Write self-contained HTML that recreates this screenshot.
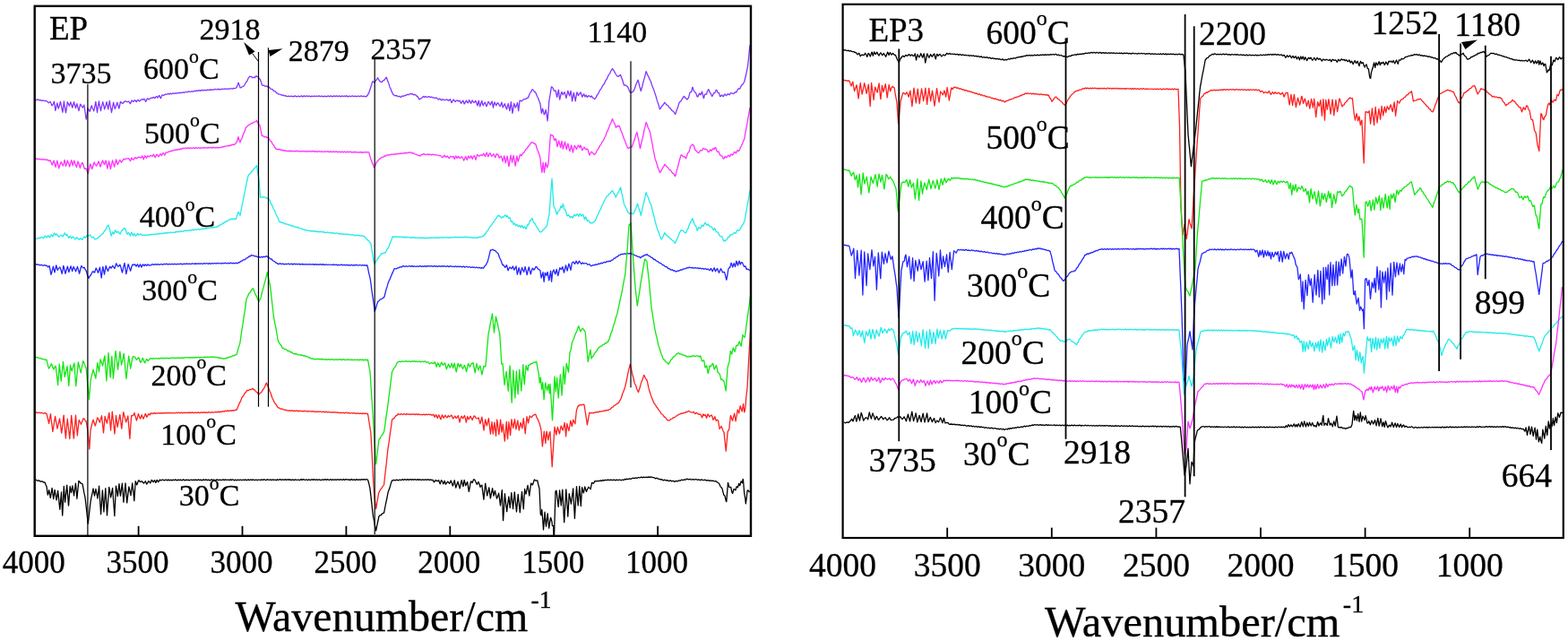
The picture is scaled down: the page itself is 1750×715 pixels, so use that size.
<!DOCTYPE html><html><head><meta charset="utf-8"><style>html,body{margin:0;padding:0;background:#fff;overflow:hidden;width:1750px;height:715px}svg{display:block}text{font-family:"Liberation Serif",serif;fill:#000;stroke:#000;stroke-width:0.3px}</style></head><body>
<svg width="1750" height="715" viewBox="0 0 1750 715">
<defs><clipPath id="cl"><rect x="39" y="7" width="799" height="590"/></clipPath><clipPath id="cr"><rect x="941" y="5" width="803" height="594"/></clipPath></defs>
<path d="M39.0,110.6 40.6,111.7 42.4,110.9 44.0,111.9 45.3,111.6 46.8,112.5 47.9,111.8 49.6,112.7 50.0,112.7 51.2,112.3 52.0,112.6 52.9,113.7 54.4,114.7 54.8,114.2 56.1,113.4 56.4,114.3 58.1,118.0 58.3,117.4 59.5,115.8 60.0,114.3 60.4,113.2 61.3,118.9 61.8,123.4 62.9,119.0 63.8,114.9 64.8,119.2 65.2,121.0 66.2,118.2 67.4,113.5 67.7,114.4 69.0,121.1 70.0,125.3 70.9,117.1 71.4,113.0 72.0,117.4 73.4,125.7 73.5,125.8 74.8,117.5 75.3,113.7 76.5,116.1 77.2,118.1 77.7,117.2 78.8,114.1 78.9,113.9 80.4,119.0 80.9,120.2 81.6,117.0 82.6,113.7 83.1,116.0 84.5,120.5 84.7,119.6 85.9,115.7 86.4,117.8 88.0,123.7 88.2,122.8 89.6,116.2 89.7,116.4 90.0,116.6 91.5,118.8 92.1,120.1 93.1,118.8 93.9,117.1 94.0,117.9 94.4,120.5 96.1,133.0 96.2,132.8 97.0,128.7 97.9,121.7 98.0,120.8 99.8,123.7 100.0,123.9 100.2,124.3 101.7,119.3 102.3,117.8 103.2,120.5 104.6,123.3 104.7,123.9 105.9,118.6 106.8,113.5 107.0,114.4 108.4,124.9 108.5,125.5 109.9,116.2 110.0,115.3 110.4,112.8 111.5,119.0 112.5,123.7 113.1,120.4 114.4,115.2 114.7,113.6 115.7,117.4 116.6,121.9 117.5,119.3 119.0,113.6 119.0,113.8 120.5,120.7 120.8,121.9 121.9,114.5 122.3,112.5 123.9,122.2 124.5,125.5 125.1,122.2 126.6,114.3 126.6,114.1 127.6,118.4 128.2,121.4 129.1,119.5 130.8,114.2 130.9,114.4 132.6,120.4 132.9,121.0 134.3,114.0 134.5,113.3 136.1,115.1 137.1,115.3 137.7,114.3 139.0,113.4 139.1,113.4 140.0,112.9 140.7,112.8 141.2,113.4 142.5,113.7 143.3,112.9 144.2,113.7 145.3,115.7 145.8,115.0 147.1,111.9 147.1,111.9 148.8,113.4 148.9,113.4 150.1,111.8 150.9,111.7 151.6,113.1 152.3,113.7 152.7,112.8 154.1,111.3 154.4,111.9 155.7,113.0 155.8,112.7 156.9,112.0 157.5,110.8 158.8,110.8 159.2,111.3 160.2,110.9 160.7,110.1 161.8,111.5 162.5,113.3 163.0,112.9 164.3,110.1 164.6,109.7 166.1,110.9 166.7,110.9 167.5,109.8 168.0,109.5 168.8,109.1 169.2,109.4 170.1,109.4 170.8,108.6 171.4,108.3 172.6,109.5 172.8,109.5 174.2,107.8 174.7,107.5 175.8,108.8 176.0,109.0 177.5,106.6 177.8,106.5 178.9,109.1 179.3,109.8 180.8,106.3 181.0,105.9 182.6,106.5 182.7,106.5 184.4,105.1 184.5,105.0 185.8,105.5 186.6,105.0 187.5,104.4 188.8,105.2 190.0,104.1 191.4,105.0 193.1,103.9 194.4,104.5 195.6,103.8 197.3,104.1 199.0,103.4 200.7,103.9 202.0,103.1 203.4,103.5 204.6,102.8 205.7,103.3 207.5,102.5 208.6,103.0 210.4,101.9 212.0,102.5 213.8,101.8 215.4,102.1 216.9,101.3 218.2,101.8 219.5,100.9 221.0,101.6 222.2,100.7 223.6,101.4 225.4,100.2 226.0,100.7 226.5,101.1 228.3,100.3 229.7,100.9 231.6,100.1 233.5,100.7 234.6,99.7 235.7,100.4 237.4,99.9 238.7,100.2 240.2,99.4 242.1,100.0 243.2,99.2 244.3,99.9 245.4,99.4 246.5,99.9 248.2,99.0 250.0,99.7 251.4,98.8 253.4,99.5 254.6,98.9 256.5,99.3 257.9,98.5 259.4,99.2 260.5,98.4 261.0,98.6 262.0,98.7 263.8,97.7 264.0,97.8 265.5,94.1 266.0,92.2 267.2,95.1 268.0,97.9 268.9,97.8 270.8,96.4 272.0,96.2 272.7,95.3 274.5,91.7 275.7,90.5 277.1,87.3 278.7,85.1 279.1,85.3 280.6,85.5 281.8,86.7 283.0,86.7 283.4,86.2 284.5,86.5 285.6,85.0 286.5,85.0 286.8,85.4 288.2,86.0 289.5,87.8 290.0,88.0 291.3,91.1 292.4,94.8 293.1,95.3 294.5,95.2 296.0,96.3 296.1,96.3 297.4,95.9 299.3,97.2 299.4,97.1 300.5,97.1 301.9,99.1 303.6,99.3 304.0,99.7 305.3,101.4 307.2,101.9 308.5,103.7 309.9,104.1 310.0,104.3 311.0,105.2 312.6,105.2 314.4,106.3 315.7,105.9 317.1,106.9 318.8,106.7 319.8,107.4 320.3,107.6 322.2,107.1 323.5,107.6 325.4,107.1 327.3,107.9 329.2,106.9 331.1,107.9 332.9,107.2 334.4,107.8 336.4,106.9 338.0,107.9 339.4,106.9 341.0,107.7 342.5,106.9 344.0,107.6 345.2,107.0 346.8,107.9 348.0,107.1 349.7,107.6 350.8,107.0 352.1,107.6 353.4,107.0 354.9,107.6 356.1,106.9 357.7,107.6 359.5,107.2 360.9,107.9 362.6,107.1 364.4,107.8 366.3,106.9 367.7,107.8 369.2,106.9 371.0,107.8 372.8,106.9 374.1,107.6 375.8,106.9 377.3,107.8 378.7,106.9 380.5,107.8 381.6,106.9 383.0,107.6 384.4,107.0 385.4,107.6 386.7,106.9 388.5,107.9 390.0,107.0 391.5,107.8 393.1,106.9 395.0,107.7 396.6,107.1 397.9,107.8 399.5,107.0 401.4,107.6 403.1,106.9 404.8,107.8 406.1,107.1 408.0,107.9 409.7,106.9 409.8,106.9 411.6,103.8 413.0,99.7 413.0,99.7 414.7,94.5 415.7,90.8 416.5,90.9 417.8,92.3 418.0,92.2 419.0,90.4 420.4,88.8 421.6,86.7 421.6,86.7 423.4,90.1 424.7,91.1 425.0,91.6 426.0,91.7 427.7,89.8 428.0,89.7 429.2,89.2 430.7,86.6 431.4,86.2 432.1,88.8 433.8,92.9 435.0,96.9 436.3,99.7 436.3,99.8 437.5,102.9 439.2,105.8 439.4,105.7 441.1,107.0 442.3,106.4 444.2,107.7 445.8,107.4 446.8,108.2 447.7,108.3 448.8,107.0 450.2,107.4 451.4,106.4 452.7,106.6 454.5,105.3 456.2,105.7 457.3,104.6 458.5,104.7 459.0,105.0 460.5,104.6 461.7,105.9 462.8,105.4 464.0,106.0 464.7,106.9 466.2,107.9 468.0,110.8 468.6,111.0 469.3,109.8 471.2,109.0 472.0,107.8 472.4,107.5 473.8,108.4 474.8,107.5 476.5,108.5 478.4,107.7 479.9,108.3 480.0,108.3 481.7,108.1 482.2,108.5 482.9,109.0 483.6,108.8 484.6,108.8 485.7,109.7 485.8,109.7 486.9,109.0 487.3,109.1 488.9,110.9 489.3,111.0 490.9,110.0 490.9,110.0 492.3,111.6 492.7,111.8 493.0,111.6 494.0,110.9 494.9,111.0 495.2,111.3 496.7,111.7 496.7,111.7 498.3,111.2 498.6,110.9 500.1,111.8 500.4,112.3 501.6,111.6 502.3,110.6 503.0,111.9 503.9,114.6 504.6,113.8 506.0,111.0 506.5,111.3 508.0,113.4 508.1,113.5 509.1,112.3 510.0,112.0 510.3,111.9 510.4,111.9 511.9,112.9 512.0,113.0 513.2,112.2 513.5,113.1 514.5,115.3 514.8,114.8 516.3,113.0 516.7,112.1 517.7,114.6 518.1,116.0 518.8,115.1 520.0,112.7 520.4,112.0 520.4,112.0 521.7,114.4 522.2,114.9 523.6,111.7 523.7,111.5 525.2,114.7 525.7,115.3 526.3,113.5 527.1,111.9 527.4,112.6 529.0,114.6 529.2,114.3 530.3,113.2 530.8,112.3 532.0,115.2 532.9,118.0 533.3,116.3 534.2,112.1 534.4,113.0 535.6,118.3 535.7,118.8 537.5,113.1 537.8,112.4 538.7,116.4 539.2,117.8 540.0,115.8 541.3,114.1 541.4,114.3 542.7,118.1 542.9,118.8 544.4,115.2 544.9,113.3 545.0,113.4 546.0,114.4 547.1,117.0 547.4,116.7 549.0,113.2 549.1,113.0 550.5,120.0 550.5,119.9 551.9,114.1 552.0,114.0 553.6,117.5 553.8,117.7 554.7,115.6 555.4,114.6 555.9,115.1 556.0,115.1 557.0,117.0 557.3,117.2 558.2,118.6 558.6,117.8 560.0,114.1 560.1,114.7 561.2,119.8 561.5,119.4 562.9,116.4 563.4,115.8 564.5,119.5 565.5,121.9 566.3,118.8 567.3,115.5 567.9,118.8 568.9,123.6 569.3,121.2 570.4,113.6 570.4,114.0 571.6,123.5 571.9,126.4 572.9,121.1 573.7,115.4 574.7,117.7 575.4,120.1 576.5,117.4 577.5,114.5 578.3,120.6 578.7,123.6 579.8,114.5 580.0,112.2 581.4,112.3 582.2,112.9 583.0,111.9 583.0,111.9 584.6,110.7 586.5,110.7 588.2,109.3 589.0,109.4 589.7,108.4 591.2,104.5 592.8,102.2 593.8,99.8 594.7,100.2 596.3,102.1 597.6,102.9 597.7,103.1 599.4,107.2 600.5,109.3 601.7,112.5 601.8,112.7 603.0,115.8 603.0,116.1 604.0,123.8 604.4,126.3 605.0,124.2 605.6,121.1 606.6,124.6 607.3,127.9 608.0,126.8 608.4,125.5 609.2,122.3 610.2,128.3 611.1,134.8 611.7,128.0 612.0,124.9 612.5,116.6 612.9,112.4 613.3,110.0 614.8,100.8 615.4,96.8 616.7,97.5 617.0,98.0 618.0,100.6 618.3,101.1 618.9,101.6 620.0,101.0 620.1,101.0 621.5,107.6 621.7,108.4 622.8,102.5 623.4,100.1 624.2,107.8 624.7,111.1 625.9,105.8 626.9,102.5 627.0,102.6 628.3,105.7 628.8,104.5 630.0,102.8 630.1,102.6 630.4,104.1 631.8,108.9 631.9,109.5 633.7,101.8 633.8,101.3 635.6,106.9 635.6,107.1 637.1,101.3 637.4,103.5 638.6,112.9 639.1,110.2 640.3,103.4 640.4,104.0 642.1,111.9 642.2,112.8 643.5,105.1 643.9,102.8 645.0,105.1 645.0,105.2 645.4,106.5 646.7,104.9 647.6,103.2 648.0,102.9 648.2,103.3 649.7,108.0 649.8,108.1 651.6,104.8 651.6,104.7 652.9,107.9 652.9,107.8 654.0,106.2 654.2,106.1 655.0,107.8 655.2,108.2 655.5,108.4 656.9,106.8 657.4,106.7 658.2,107.7 659.4,108.2 660.0,106.9 660.1,106.9 662.0,109.5 663.4,110.3 663.6,110.6 665.1,108.9 666.7,105.5 667.7,104.5 669.7,100.3 671.3,98.3 672.6,95.5 674.5,93.3 674.5,93.2 675.7,90.2 677.2,88.2 678.9,84.2 680.6,82.1 682.3,78.3 683.6,76.5 683.9,77.1 685.6,79.6 687.2,82.8 688.8,84.7 689.0,85.2 690.3,85.4 691.5,84.0 692.7,83.7 693.4,86.1 694.7,89.3 696.3,94.8 696.4,95.0 698.0,94.9 699.5,96.1 700.0,96.1 701.1,97.9 702.3,101.1 703.6,103.4 703.7,103.3 705.4,103.0 706.6,101.8 707.0,101.8 708.4,98.8 710.0,93.7 711.4,90.9 712.0,89.1 712.7,91.4 714.0,97.0 715.2,101.0 715.3,101.6 716.4,97.8 718.2,90.5 719.4,86.6 721.1,79.7 721.3,80.0 722.8,83.9 724.0,85.7 725.2,88.9 725.5,89.3 726.3,90.7 727.7,95.3 729.2,98.9 730.8,103.5 730.9,103.7 732.0,107.1 733.4,112.1 735.3,117.8 736.4,121.8 737.1,121.1 738.8,118.3 740.3,116.7 741.8,114.3 742.1,114.6 743.6,116.6 745.4,117.7 747.0,120.1 747.3,120.3 748.2,120.9 750.0,123.4 751.8,124.5 753.4,127.1 753.8,127.4 755.3,122.7 756.5,119.6 758.0,114.8 758.2,114.3 759.9,112.7 760.0,112.5 761.7,109.8 761.8,109.7 763.1,107.6 763.6,107.5 763.6,107.4 764.5,109.1 765.3,109.4 766.3,110.5 766.7,110.6 767.0,111.1 767.5,110.0 768.3,109.4 768.9,107.5 770.0,103.1 770.5,102.6 771.6,102.5 772.2,100.1 772.7,97.5 773.0,97.3 774.0,100.5 774.2,101.2 775.9,103.2 776.4,103.3 777.6,106.2 778.0,107.5 778.6,108.1 778.9,107.6 780.6,104.1 780.7,104.2 782.0,105.7 782.2,105.3 783.3,102.4 783.4,102.3 783.6,102.5 785.1,108.9 785.3,109.4 785.5,109.6 786.6,105.4 787.0,105.0 788.1,105.4 788.7,104.8 789.2,102.7 790.5,99.8 790.7,99.8 790.9,99.7 792.2,103.1 792.3,103.2 793.7,105.2 793.8,105.3 794.5,107.4 795.0,107.2 795.0,107.2 796.7,103.7 796.8,103.8 797.9,103.5 798.6,101.8 799.3,100.3 800.0,100.5 800.5,102.1 800.8,103.1 802.3,103.6 802.5,103.8 803.4,107.2 803.6,107.5 804.3,107.6 804.7,106.7 805.6,105.9 806.2,106.9 807.3,107.6 808.1,106.1 809.0,105.0 810.0,106.2 811.0,106.5 811.8,105.2 812.7,104.8 812.7,104.7 813.2,105.5 814.2,105.8 814.7,104.7 816.0,103.6 816.2,103.9 817.7,104.1 818.2,104.7 819.3,104.1 820.0,103.0 820.1,102.8 820.5,102.7 821.4,103.2 822.3,102.0 823.5,99.4 824.1,98.9 825.6,99.0 825.9,98.7 827.1,96.0 827.3,95.8 827.8,94.9 829.2,93.7 829.4,93.5 830.9,90.7 830.9,90.5 832.8,82.5 834.2,75.5 834.5,74.3 835.8,62.0 837.0,50.0" fill="none" stroke="#8236ff" stroke-width="1.3" stroke-linejoin="round" clip-path="url(#cl)"/>
<path d="M39.0,176.7 40.1,177.4 41.3,176.9 42.6,177.8 44.5,177.2 46.1,178.2 47.5,177.6 48.7,178.1 50.0,177.8 50.4,177.7 51.8,178.6 52.0,178.4 53.0,178.1 54.5,179.5 54.7,179.5 56.0,178.8 56.4,179.5 58.3,184.1 58.3,184.1 59.8,179.8 60.0,179.4 60.1,179.2 61.7,185.0 62.2,186.4 63.4,180.6 63.8,179.1 65.3,186.3 65.7,187.8 67.2,183.0 68.3,180.6 68.9,182.3 70.2,184.8 70.3,185.1 71.4,181.4 72.1,178.5 72.8,181.8 73.5,185.3 74.7,181.5 75.3,179.2 76.6,182.5 77.7,185.9 77.7,186.1 79.0,180.9 79.8,178.6 80.9,183.3 81.2,184.6 82.3,180.5 82.8,179.2 83.6,182.0 85.0,185.3 85.4,186.6 86.6,182.0 87.0,180.0 87.9,182.3 89.1,186.5 89.4,187.3 90.0,185.1 90.3,184.3 91.7,181.6 91.9,181.3 93.1,184.2 94.0,187.2 94.2,188.1 94.4,188.3 95.7,188.0 96.8,188.7 97.0,190.1 97.5,191.5 98.4,193.6 98.6,192.1 100.0,185.8 100.1,185.5 100.6,182.8 101.2,184.0 102.7,188.5 103.1,187.5 104.8,181.8 105.2,180.9 106.2,183.4 107.6,185.0 107.6,185.0 109.2,182.1 110.0,180.0 110.0,179.9 111.0,182.5 112.0,186.0 112.6,184.7 114.5,178.9 114.5,178.9 116.3,183.3 116.5,183.5 117.8,180.0 118.3,179.2 118.8,182.6 119.9,188.0 120.8,183.3 121.6,179.7 122.7,185.4 123.4,188.5 124.6,182.9 125.6,178.9 125.9,180.0 126.9,183.2 127.6,186.0 128.3,183.7 129.5,178.5 129.7,177.8 130.6,181.5 131.4,183.6 132.3,181.4 133.9,178.2 134.1,178.7 135.4,181.1 135.6,180.7 136.8,179.4 137.7,177.4 137.9,177.3 139.3,177.9 139.8,177.7 140.0,177.3 141.3,176.8 141.5,176.9 143.1,176.9 143.7,176.6 144.6,177.9 145.4,179.6 145.8,179.0 146.9,176.0 147.0,176.1 148.2,177.8 149.1,178.1 149.9,176.6 151.0,175.5 151.7,176.6 152.6,176.9 153.2,175.9 154.4,175.4 154.6,175.1 156.2,175.3 156.8,176.0 157.4,175.8 158.8,174.0 158.8,174.0 160.2,177.8 160.3,177.9 161.7,173.7 162.0,173.9 163.5,176.3 163.6,176.3 164.8,173.9 164.9,173.8 166.3,174.8 166.8,174.6 167.9,173.3 168.0,173.3 168.5,173.3 169.9,174.4 170.1,174.2 171.5,172.1 171.6,172.4 172.9,175.2 173.1,175.6 174.5,172.9 175.2,172.2 176.2,174.0 177.2,174.8 177.7,173.6 179.1,171.5 179.4,172.1 180.6,173.5 181.2,171.8 182.2,170.4 182.3,170.8 183.5,172.3 183.8,173.2 185.0,170.6 185.2,170.0 186.8,170.1 186.9,170.0 188.2,169.2 188.8,169.3 189.7,168.7 190.1,168.3 191.9,168.6 193.2,167.4 194.7,167.9 196.2,166.8 197.6,167.4 198.8,166.3 200.1,167.0 201.3,166.0 202.9,166.3 204.4,165.1 205.6,165.8 206.0,165.5 207.3,164.8 208.7,165.6 210.1,164.9 211.4,165.4 212.9,164.9 214.3,165.5 215.7,164.9 217.3,165.6 218.5,164.6 220.1,165.5 221.8,164.7 223.1,165.4 224.4,164.8 226.2,165.1 227.5,164.6 228.8,165.3 230.2,164.5 231.6,165.3 232.7,164.4 233.8,165.0 235.4,164.4 236.5,165.1 238.4,164.2 239.9,165.1 241.8,164.4 243.1,165.1 245.0,164.3 245.4,164.4 246.7,164.7 248.3,163.5 249.8,163.8 251.0,163.1 252.7,163.2 254.3,162.3 255.7,162.9 257.1,161.7 258.5,162.0 259.8,161.1 261.5,161.3 262.0,161.1 263.4,159.1 264.0,159.0 264.5,157.8 266.0,152.8 266.0,152.7 267.1,156.7 268.0,158.9 268.6,156.9 270.2,153.8 271.9,148.7 273.0,146.6 274.1,143.0 274.7,141.8 275.5,141.6 277.1,139.7 279.0,138.9 280.0,137.9 280.5,137.5 282.2,137.3 283.4,136.1 285.0,135.9 286.5,134.6 286.9,135.1 288.3,137.9 289.9,139.6 290.0,139.8 291.6,148.1 292.4,151.6 293.5,151.5 295.3,152.9 296.8,152.3 297.9,153.5 299.4,153.5 299.7,153.8 301.3,156.8 303.0,158.1 304.0,160.3 304.1,160.6 305.7,162.3 307.2,165.2 308.0,166.0 308.4,165.9 310.0,166.9 311.7,166.3 313.1,167.5 314.1,167.0 315.9,168.1 317.3,167.4 318.5,168.5 319.6,168.1 319.8,168.2 320.8,168.6 322.2,168.1 323.5,168.9 324.6,168.1 326.1,168.8 328.0,168.3 329.4,168.9 330.8,168.1 332.4,169.0 333.8,168.3 335.8,169.2 337.4,168.5 339.0,168.9 340.3,168.6 342.0,169.3 343.6,168.4 344.9,169.2 346.4,168.5 347.7,169.1 349.4,168.4 351.2,169.4 352.3,168.7 354.1,169.5 355.6,168.6 357.3,169.3 359.0,168.8 360.8,169.5 362.4,168.8 364.0,169.5 365.9,168.7 367.3,169.6 369.2,168.8 370.8,169.8 372.0,168.9 373.6,169.7 375.5,168.8 376.9,169.8 378.6,169.0 380.0,169.9 381.4,169.2 383.0,169.9 384.4,169.2 386.4,170.0 387.8,169.1 389.3,169.9 391.0,169.2 392.8,170.1 394.5,169.4 395.6,170.1 396.7,169.2 398.1,170.2 399.8,169.6 401.6,170.1 402.7,169.4 404.1,170.4 405.6,169.7 406.7,170.1 408.2,169.5 409.3,170.2 410.7,169.5 411.8,170.0 412.7,173.6 414.0,177.8 414.3,178.3 415.5,182.0 416.7,184.2 417.7,186.9 418.5,185.5 420.2,181.2 421.0,180.1 421.5,179.8 423.1,177.6 424.9,176.6 425.0,176.5 426.1,175.3 427.9,175.2 429.2,173.8 430.4,174.2 432.0,172.6 432.0,172.6 433.2,173.2 434.7,172.4 435.9,172.8 437.6,171.8 439.4,172.5 440.0,172.2 441.1,171.7 442.4,172.2 443.4,171.5 445.2,171.7 446.4,171.0 448.2,171.3 450.0,170.7 450.0,170.7 451.6,171.2 452.8,170.1 454.0,171.0 455.8,170.0 457.7,170.3 458.5,169.8 458.9,169.8 460.0,171.1 461.5,170.7 462.9,171.9 464.7,172.2 466.1,173.2 467.7,173.3 468.6,174.0 468.9,174.0 470.3,172.5 471.5,172.6 472.0,172.0 473.1,171.7 474.9,172.6 476.7,172.0 478.6,172.5 479.7,172.2 481.5,172.9 483.3,172.1 485.0,173.0 485.2,173.2 486.6,172.5 486.8,172.6 488.1,173.0 488.3,173.2 489.5,173.4 489.9,173.3 490.0,173.3 490.9,173.7 491.4,173.5 492.6,174.2 493.6,175.8 494.4,175.3 495.9,173.1 496.1,173.1 497.6,175.4 497.7,175.4 499.1,174.1 499.4,174.0 500.7,176.1 501.5,176.4 501.8,175.6 503.0,174.2 503.7,174.9 504.8,175.2 505.0,175.0 505.5,174.5 506.0,174.4 506.8,176.4 507.4,177.5 508.6,174.3 508.9,174.0 509.8,176.0 510.3,176.4 511.3,174.6 511.7,174.4 512.6,175.9 513.4,176.6 513.7,176.1 515.2,174.9 515.3,174.6 516.8,177.0 517.5,179.1 518.2,178.2 519.5,174.6 519.8,175.0 520.0,175.5 521.0,178.0 521.3,178.3 522.6,174.2 522.7,174.2 524.3,176.4 524.3,176.4 525.7,173.8 525.8,173.9 527.0,176.9 527.3,177.2 528.5,174.4 529.5,173.7 529.7,174.6 531.0,178.4 531.4,176.7 532.6,172.4 533.0,173.1 534.5,174.2 534.7,173.9 536.0,173.1 536.1,173.0 537.3,172.9 538.0,173.5 538.7,172.9 539.7,171.3 540.0,171.6 541.4,174.4 541.5,174.5 543.1,170.5 543.3,170.2 544.6,174.4 544.8,174.8 545.0,174.3 545.9,172.3 547.0,170.7 547.8,172.6 549.0,174.5 549.6,173.4 550.8,171.9 550.9,171.8 552.1,174.3 552.6,175.7 553.2,174.6 554.2,171.6 554.8,171.8 555.6,172.8 556.0,172.9 556.1,173.1 557.3,176.3 557.7,175.5 557.8,175.3 559.2,174.4 559.3,174.2 560.5,177.9 561.0,180.1 561.7,178.0 562.7,174.0 563.3,176.3 564.3,181.9 564.6,180.7 566.0,174.2 566.1,174.7 567.8,184.7 568.0,185.7 569.0,179.1 570.2,173.1 570.3,174.3 571.6,181.1 571.9,179.7 573.1,173.4 573.2,173.9 574.3,179.7 575.1,185.1 576.1,179.4 576.9,174.0 577.2,175.3 578.2,180.2 578.7,178.7 580.4,172.6 580.5,172.2 581.6,173.5 582.2,173.6 583.0,171.6 583.3,171.1 584.8,170.3 586.6,167.0 588.5,165.2 589.6,163.1 590.7,162.4 592.5,159.4 593.4,158.8 593.7,159.2 594.8,158.9 596.7,160.6 597.6,160.4 598.0,161.2 599.7,167.0 601.5,171.2 602.8,175.6 603.0,176.5 603.1,177.6 604.0,186.4 604.6,190.0 604.9,192.3 605.9,183.2 606.1,181.1 607.0,188.7 607.4,192.5 608.4,186.2 609.0,181.3 609.5,182.5 610.5,186.9 610.7,186.6 612.0,182.7 612.0,182.3 612.1,181.5 613.7,159.8 614.4,150.2 614.9,150.2 616.3,151.3 617.0,151.0 617.7,152.8 618.8,156.5 619.5,155.8 620.3,154.6 620.9,157.5 622.0,163.6 622.1,163.1 623.6,156.8 623.8,157.4 625.5,164.0 625.7,164.6 627.0,157.3 627.1,157.7 628.3,166.1 628.9,164.3 630.0,160.0 630.5,158.1 630.7,159.0 632.2,166.6 632.3,166.5 633.6,160.8 633.9,160.1 635.3,166.3 636.1,168.9 636.7,165.7 637.8,161.9 638.6,166.5 639.4,170.0 640.2,166.3 641.2,162.5 641.3,162.3 642.9,165.2 643.4,166.4 644.7,163.8 645.0,162.8 645.3,162.0 645.8,162.3 647.0,164.4 647.2,164.5 648.0,162.0 648.6,163.7 649.7,167.7 650.5,166.8 651.9,164.2 652.1,164.4 653.8,166.8 653.9,166.9 655.0,166.0 655.0,166.0 656.2,166.9 656.9,169.8 658.0,173.1 658.4,172.1 659.7,169.9 660.0,169.3 661.0,169.9 662.7,172.2 663.6,172.4 663.9,171.7 664.9,171.0 666.5,167.5 667.8,166.1 669.6,162.4 670.8,161.1 672.1,158.3 673.6,156.3 674.5,154.4 674.8,153.5 675.9,151.5 677.5,146.9 678.8,144.6 680.7,139.0 681.8,137.3 682.9,133.9 683.6,132.7 684.6,135.5 686.0,138.0 687.3,142.2 687.6,142.2 689.0,140.5 690.1,140.8 690.9,140.1 691.8,142.0 693.4,146.8 694.8,150.0 696.3,154.5 696.4,154.7 697.5,157.1 699.2,162.0 700.4,164.5 700.7,165.3 701.7,165.3 703.3,164.1 704.7,164.1 705.5,163.6 706.5,160.3 707.7,157.3 709.5,151.1 710.9,147.4 711.2,149.0 713.0,157.7 714.1,163.9 714.5,165.6 715.7,159.8 717.3,153.6 719.0,145.0 720.2,140.7 721.1,136.5 722.1,138.5 723.2,142.2 724.8,145.1 725.5,147.4 726.1,150.8 727.8,159.4 729.2,167.4 730.3,172.6 730.9,176.3 731.4,177.9 732.5,180.7 734.4,187.2 736.1,191.3 736.4,192.5 737.9,190.8 739.7,186.9 740.8,185.8 741.8,183.3 742.1,183.4 743.9,185.9 745.1,186.5 746.9,189.1 747.3,189.4 748.9,190.5 750.5,193.1 751.9,193.8 753.1,196.1 753.8,196.5 754.6,193.1 756.2,187.4 758.0,180.0 759.4,175.3 760.0,172.8 761.1,173.2 762.1,174.5 762.9,175.0 763.5,174.7 764.3,175.1 765.4,176.6 765.5,176.7 766.2,175.1 767.4,171.3 767.8,170.5 769.2,169.0 769.3,168.8 770.5,163.7 770.8,163.0 772.4,161.8 772.5,161.6 772.7,160.9 774.1,162.1 774.7,163.3 775.9,167.5 776.0,167.6 777.6,168.5 778.1,169.2 778.2,169.7 779.3,170.5 780.1,170.5 781.0,168.7 782.0,167.5 782.4,167.9 783.5,167.9 784.1,166.6 784.8,165.5 785.5,165.5 785.7,165.8 786.8,166.6 786.9,166.5 788.8,166.7 788.8,166.7 790.5,169.8 790.6,169.7 790.9,169.6 792.1,168.0 792.5,167.0 793.2,167.2 793.9,168.3 794.7,167.5 795.5,165.8 795.9,165.7 796.9,166.6 797.0,166.6 798.0,164.6 798.2,164.5 798.9,164.8 800.1,168.7 800.5,169.5 801.6,169.0 802.1,169.3 803.1,171.9 804.2,173.7 805.0,173.6 806.1,174.3 806.4,175.1 807.3,177.0 807.9,177.2 808.0,176.9 809.2,174.3 809.8,175.2 810.8,175.9 811.3,174.8 812.5,173.8 812.8,173.2 814.1,174.2 814.5,174.7 815.6,172.4 815.8,172.0 816.4,172.3 816.9,172.4 817.4,173.0 818.6,171.5 819.5,169.5 820.2,169.5 821.4,170.9 821.6,170.7 822.9,167.8 823.2,167.7 824.3,168.7 824.4,168.7 825.5,167.1 825.9,165.8 826.6,164.2 827.6,162.5 828.7,159.8 829.4,158.0 830.9,154.7 830.9,154.5 832.0,147.6 833.5,140.0 835.2,129.7 836.6,122.3 837.0,120.0" fill="none" stroke="#ff30ff" stroke-width="1.3" stroke-linejoin="round" clip-path="url(#cl)"/>
<path d="M39.7,266.1 40.0,266.2 41.0,266.5 41.8,266.2 42.8,265.3 43.7,265.2 44.0,265.5 44.9,265.5 45.7,264.8 47.1,264.7 47.1,264.7 48.5,265.8 48.5,265.9 49.2,264.9 49.9,263.9 50.2,263.1 51.4,264.0 52.0,265.1 52.8,264.2 53.4,262.8 54.0,262.8 55.5,264.8 55.7,264.6 57.3,261.9 57.5,261.7 58.0,262.8 58.8,264.0 58.9,263.9 60.1,260.9 60.6,260.0 61.5,261.1 61.8,262.1 61.9,262.3 63.3,261.1 63.6,261.1 64.0,262.1 65.0,263.6 65.8,264.2 66.3,263.5 67.9,262.5 67.9,262.4 69.1,262.7 70.0,263.8 70.0,263.8 71.0,262.4 72.2,259.8 72.7,260.0 72.7,260.1 73.5,262.4 74.5,262.3 75.0,261.8 75.8,263.4 76.0,263.9 76.7,265.5 76.9,265.3 78.2,263.3 78.3,263.3 79.7,265.6 79.9,265.8 81.4,264.1 81.7,263.9 83.4,266.5 83.9,266.9 84.9,265.4 86.1,264.8 86.7,266.0 88.3,267.2 88.3,267.3 89.7,265.7 90.0,266.3 90.6,266.7 91.4,266.7 92.0,267.3 93.3,265.1 93.8,263.9 94.6,264.4 95.2,265.4 96.3,264.0 97.1,262.3 98.2,262.9 98.4,263.1 99.0,262.6 99.5,262.7 100.6,262.0 100.7,262.2 102.4,265.0 102.7,265.2 104.1,264.2 104.3,264.3 106.1,267.0 106.1,267.0 107.4,266.2 107.4,266.2 107.5,266.1 108.6,266.2 108.7,266.2 110.5,263.9 111.8,263.4 113.5,261.3 114.9,260.6 115.2,260.2 116.3,258.0 117.9,256.3 119.3,253.2 120.0,252.5 120.5,251.7 120.8,250.9 122.1,254.5 122.3,255.0 124.0,262.6 124.1,263.0 124.5,262.5 125.1,260.3 125.8,258.8 126.5,260.3 127.1,261.0 128.2,257.8 128.7,256.8 129.9,258.9 130.0,259.1 130.1,259.4 131.7,258.4 132.3,258.5 133.4,260.6 134.0,261.1 134.5,260.5 135.0,258.9 136.1,256.9 136.2,256.9 137.6,255.9 137.9,256.0 138.7,254.3 139.2,254.9 139.7,254.9 140.4,256.5 141.6,260.6 142.0,261.1 142.1,261.1 143.4,259.5 143.9,260.1 145.1,262.7 145.4,262.9 146.2,260.3 146.9,259.1 147.9,261.8 148.7,263.0 148.8,262.8 149.5,261.2 149.9,260.7 151.0,262.5 151.7,263.2 152.2,262.3 153.6,260.4 153.9,260.9 154.9,262.3 155.4,261.5 156.6,260.8 156.8,261.0 158.2,261.9 158.2,262.0 159.3,262.8 160.5,262.0 161.9,262.6 163.3,261.8 165.1,262.4 166.9,261.7 168.0,262.0 168.2,262.0 169.3,261.2 171.0,261.7 172.2,261.0 174.0,261.7 175.7,260.6 176.9,261.2 178.1,260.4 179.6,260.8 180.9,260.0 182.0,260.8 183.8,259.6 185.2,260.4 186.8,259.4 188.7,260.0 190.1,259.0 191.6,259.7 193.3,259.0 194.5,259.3 195.0,259.4 196.5,258.4 198.0,258.8 199.5,258.2 201.0,258.6 202.4,257.7 204.3,258.3 205.5,257.2 207.1,257.7 208.5,257.1 209.6,257.6 211.5,256.7 213.3,257.2 214.5,256.1 216.1,256.9 217.8,255.8 219.2,256.5 221.0,255.3 222.5,256.1 224.0,255.3 225.1,255.6 226.3,255.0 227.8,255.5 229.3,254.5 231.0,254.9 232.4,254.0 233.8,254.5 235.7,253.6 237.1,254.2 238.6,253.3 239.9,253.8 241.1,253.0 241.5,253.2 242.3,253.3 243.5,252.0 244.7,251.8 245.9,250.6 247.1,250.4 248.5,249.1 249.0,249.0 249.6,249.0 251.0,247.4 252.1,247.6 253.5,246.3 255.5,245.6 256.6,244.4 257.0,244.4 257.8,244.8 259.2,244.1 260.2,244.7 261.5,243.7 263.0,244.6 263.6,244.2 264.3,241.3 265.6,237.7 266.0,236.3 267.2,238.2 268.0,240.2 268.4,238.5 270.0,229.7 270.3,228.1 271.4,223.4 272.5,217.4 273.6,212.4 275.2,203.5 276.4,198.5 276.7,197.0 277.9,194.6 279.8,193.3 280.9,191.1 282.0,190.3 282.5,190.0 283.6,187.9 285.4,186.3 286.5,184.7 286.8,186.5 288.5,197.3 289.0,200.1 289.7,209.3 290.4,219.9 291.4,220.5 292.9,219.5 294.3,220.3 295.0,219.9 295.6,219.8 297.1,221.1 298.3,220.8 299.9,222.3 300.2,222.2 301.3,223.8 302.4,227.1 303.5,228.6 305.0,232.3 305.2,233.0 306.4,234.8 308.2,239.5 310.0,242.6 311.5,246.9 312.0,247.8 313.2,247.6 314.6,248.5 316.0,248.2 317.1,249.5 318.3,249.3 319.9,250.2 321.0,250.1 322.6,251.2 323.7,250.9 325.6,252.0 327.2,251.9 328.9,253.2 330.7,253.0 331.9,254.0 333.0,253.6 334.2,254.6 336.1,254.8 338.0,255.8 339.4,255.8 341.2,257.1 342.8,256.7 343.3,257.0 344.7,257.7 346.3,257.2 347.4,258.2 349.0,257.4 350.2,258.3 351.7,257.6 352.8,258.5 354.3,258.1 355.9,258.9 357.3,258.2 358.9,259.0 360.3,258.3 361.6,259.4 362.7,258.9 363.9,259.8 365.6,258.9 367.6,260.0 369.5,259.4 370.9,260.4 372.8,259.5 374.2,260.7 375.7,259.8 377.5,260.8 379.4,260.5 380.6,261.2 381.9,260.6 383.5,261.3 385.2,261.0 386.7,261.7 388.4,261.1 389.7,261.9 391.0,261.5 392.1,262.1 393.9,261.6 395.8,262.8 397.6,262.1 398.8,262.8 400.3,262.3 401.8,263.1 403.6,262.7 405.1,263.6 406.0,263.3 406.9,263.8 408.2,265.9 409.2,266.2 410.7,268.4 411.9,269.0 413.2,270.9 413.7,271.1 414.6,276.0 416.4,287.4 417.5,293.0 417.7,294.4 418.5,293.6 419.9,291.0 421.4,289.1 422.8,286.6 424.5,284.6 425.5,282.7 425.8,282.6 427.3,282.9 428.9,281.7 430.0,282.0 430.7,281.0 431.9,278.3 433.6,276.0 434.0,275.2 435.4,271.0 436.7,268.4 437.8,265.1 438.4,263.9 439.7,264.6 441.1,263.7 443.0,264.7 444.6,264.0 446.1,264.6 447.3,264.0 449.3,264.9 450.7,264.2 452.2,265.1 453.6,264.1 454.8,265.0 456.3,264.5 458.1,265.4 460.0,264.6 461.1,265.4 462.7,264.7 464.0,265.6 465.8,265.0 467.5,265.6 469.0,264.9 470.9,265.9 472.0,265.1 472.1,265.0 473.3,265.8 475.1,265.1 476.4,265.9 478.3,265.1 479.7,265.6 480.9,265.0 482.8,265.4 484.1,265.0 485.2,265.6 486.9,264.7 488.5,265.6 489.6,264.8 491.5,265.2 492.8,264.7 494.1,265.4 495.2,264.7 497.1,265.1 499.0,264.6 500.9,265.3 502.5,264.6 503.6,265.2 504.9,264.5 506.6,265.2 507.7,264.1 509.3,265.0 510.4,264.3 512.4,264.8 513.5,264.3 514.7,264.8 516.6,264.3 517.8,265.0 519.7,263.9 520.0,264.0 521.0,264.8 522.9,264.3 524.6,265.1 525.7,264.6 527.4,265.5 528.9,264.8 530.5,265.6 531.8,265.0 532.0,264.9 533.2,265.4 535.1,264.1 536.3,264.8 538.1,263.5 539.4,263.7 539.6,263.5 540.5,261.6 542.0,260.6 543.1,258.3 544.9,256.4 546.9,252.8 548.4,251.6 549.4,249.4 549.5,249.1 551.0,247.7 552.6,244.9 554.1,243.3 555.0,241.6 555.4,240.9 556.1,240.4 556.2,240.3 557.0,241.1 558.0,241.0 558.9,242.0 559.5,243.2 560.0,243.2 560.7,242.1 560.8,241.8 562.2,242.1 562.6,241.1 563.7,239.8 563.8,239.8 564.0,239.9 565.1,241.9 565.5,241.3 566.2,240.5 567.1,242.5 567.9,243.6 568.0,243.5 569.1,242.9 569.2,242.9 570.4,247.2 570.5,247.3 571.9,246.8 572.4,248.1 572.9,250.1 573.0,250.4 573.9,249.8 574.4,249.0 575.5,251.1 575.8,251.9 576.9,250.8 577.0,250.7 578.6,252.8 578.7,252.7 580.0,251.6 580.1,251.6 580.5,252.4 581.3,253.6 582.4,251.4 582.5,251.4 583.7,253.8 584.3,254.5 585.5,252.6 585.6,252.6 586.6,255.0 587.2,255.3 587.4,255.0 588.6,250.7 588.7,250.6 589.9,250.9 590.2,249.9 591.2,246.4 591.6,246.0 592.6,246.1 593.4,243.9 593.5,243.9 594.0,243.6 594.6,245.3 595.2,247.4 596.0,248.7 597.0,249.2 597.1,249.3 597.2,249.4 598.5,252.6 599.1,253.3 599.6,253.7 601.5,257.3 603.2,259.0 603.2,259.0 605.0,258.2 606.5,255.9 607.6,255.7 609.0,253.4 610.1,252.7 610.9,249.4 612.1,242.9 613.0,238.9 613.7,230.3 614.7,215.3 615.8,202.0 616.0,199.2 617.0,214.8 617.9,229.3 618.4,230.9 619.9,233.7 620.0,234.1 621.2,238.3 621.5,238.8 621.8,239.1 622.6,236.2 623.1,235.2 624.3,234.9 624.6,234.6 625.8,230.1 625.8,229.9 625.9,229.7 627.0,231.7 627.7,229.9 628.3,227.6 628.7,228.3 628.8,228.6 629.4,233.1 630.2,233.9 631.1,233.8 632.0,237.5 632.0,237.6 633.0,240.9 633.4,240.8 634.5,239.6 635.3,240.6 636.3,242.7 636.7,242.5 637.5,241.5 637.6,241.3 638.3,241.9 639.1,243.1 640.2,241.2 641.0,239.3 641.7,239.8 642.0,240.2 642.4,241.0 643.0,240.5 644.2,238.6 644.8,239.2 645.9,241.5 646.1,241.2 647.2,238.6 647.8,239.0 648.9,241.1 649.0,241.0 649.3,240.5 650.7,239.2 650.9,239.6 652.4,244.7 652.5,244.9 653.5,241.9 653.8,242.2 655.4,246.3 655.6,246.4 656.7,245.8 657.1,246.3 657.3,246.6 658.2,248.3 658.4,248.6 659.7,248.5 659.8,248.6 660.0,248.9 661.6,248.5 663.4,246.9 663.6,246.9 664.6,245.8 666.0,242.0 667.2,239.8 668.7,236.1 670.5,233.1 671.6,229.9 673.0,227.5 674.3,224.3 676.0,221.2 676.4,220.1 677.1,219.0 678.6,218.2 679.8,216.1 681.1,215.7 682.7,213.4 683.6,212.8 684.4,214.6 685.9,216.9 687.3,220.2 687.5,219.8 688.6,216.8 690.5,214.0 692.0,210.2 692.7,209.1 693.9,215.4 695.1,220.7 696.4,227.3 697.1,229.0 699.0,232.3 700.2,235.5 701.6,237.3 701.8,237.8 703.2,238.4 704.7,237.7 706.2,238.6 707.3,238.1 708.0,236.1 709.5,233.0 711.3,227.8 711.6,227.2 712.4,230.6 714.0,235.2 715.3,240.3 715.8,238.2 717.4,230.4 719.2,223.5 720.5,217.1 721.1,214.6 722.1,217.7 723.5,220.5 725.1,225.2 726.7,229.0 727.3,230.8 728.1,234.5 729.7,240.2 731.4,247.6 732.7,252.5 732.8,252.7 734.2,257.1 735.4,259.6 736.8,263.9 738.2,267.1 738.3,266.8 739.5,265.1 741.4,260.4 741.8,259.7 742.9,261.4 744.0,261.9 745.3,264.0 746.5,264.1 747.3,265.4 748.0,266.4 749.2,266.6 750.5,268.5 752.0,269.1 753.2,271.0 753.8,271.1 755.0,267.7 756.8,264.0 758.5,259.4 759.8,257.3 760.0,256.7 761.4,257.2 761.7,257.2 762.7,257.7 763.4,258.7 764.8,259.7 765.1,259.6 765.5,259.8 766.5,257.3 766.6,257.3 768.1,254.6 768.4,253.3 769.9,249.3 770.0,249.1 771.4,246.6 771.6,246.4 772.7,243.9 772.7,243.7 773.2,244.3 774.2,247.3 775.0,250.1 775.3,250.8 776.6,252.0 777.0,253.1 778.0,256.9 778.2,257.2 778.7,256.4 779.9,253.6 780.6,253.9 781.5,255.0 782.3,253.8 783.4,251.0 783.4,251.0 785.0,252.4 785.1,252.2 786.3,249.3 787.0,248.5 787.3,248.6 788.3,250.5 788.9,251.2 789.8,250.1 790.4,250.1 790.9,251.3 792.3,252.7 792.6,252.5 792.7,252.6 793.8,253.0 794.0,252.9 795.4,254.8 796.2,256.7 796.6,256.5 797.7,254.7 797.8,254.7 799.1,257.8 799.8,258.9 800.0,258.8 801.0,258.9 801.5,259.4 802.3,261.5 803.4,262.9 803.6,263.5 805.1,264.0 805.8,263.7 806.1,264.4 807.5,268.6 807.7,269.0 808.6,268.4 809.1,268.8 809.5,268.2 810.0,268.4 811.4,266.9 811.5,266.6 812.7,264.4 812.8,264.5 814.0,264.4 814.3,263.6 815.3,261.6 815.6,261.8 816.4,261.8 816.8,262.0 817.1,261.5 818.4,260.7 818.9,259.9 819.9,259.6 821.0,260.3 821.3,259.9 822.3,257.6 823.1,256.8 823.6,257.3 824.8,257.0 824.9,257.1 825.5,256.5 826.2,255.0 826.4,254.8 827.9,252.3 828.1,251.8 829.3,250.1 829.6,249.7 830.7,247.2 830.9,246.9 832.2,240.2 834.1,228.9 835.7,220.5 836.8,213.0 837.0,212.7" fill="none" stroke="#22eaea" stroke-width="1.3" stroke-linejoin="round" clip-path="url(#cl)"/>
<path d="M39.7,294.3 40.9,295.3 42.4,294.8 44.3,295.8 46.2,295.4 47.8,296.3 49.2,295.8 49.6,295.6 51.4,296.3 52.0,296.1 53.2,297.3 53.5,297.9 54.8,296.9 55.1,296.5 56.5,303.5 57.0,306.3 57.8,303.8 59.4,297.2 59.4,297.3 60.0,299.8 61.0,303.9 61.2,303.0 62.7,296.2 62.8,295.9 64.0,300.5 64.3,301.4 65.0,299.9 66.6,298.4 66.8,297.9 68.2,301.8 69.2,305.4 70.1,300.7 70.8,296.4 71.3,298.0 72.9,305.1 73.2,304.5 75.1,297.9 75.4,297.2 76.4,301.9 76.9,303.7 77.7,300.8 79.1,296.8 79.6,298.8 80.7,302.6 81.3,300.2 82.2,297.4 82.6,298.5 84.5,302.4 84.6,302.8 86.2,298.1 86.4,297.4 87.8,302.0 88.5,305.2 89.1,303.3 90.0,299.2 90.3,298.2 90.9,296.5 91.3,297.3 92.5,298.4 92.8,298.9 94.0,298.2 94.4,299.2 96.2,302.3 96.3,302.5 98.0,308.1 99.0,310.4 99.9,308.5 101.6,306.5 103.0,303.5 103.3,303.0 104.0,302.6 104.8,303.8 105.8,303.9 106.0,302.8 107.2,299.0 107.5,299.7 108.0,300.4 108.7,302.0 109.4,304.3 110.0,302.9 111.4,298.1 111.7,299.5 113.0,308.7 113.2,310.0 114.4,300.6 114.9,297.4 116.3,305.0 116.5,306.1 118.2,296.7 118.2,296.4 119.4,300.0 120.5,302.4 121.2,300.5 122.6,297.3 122.7,297.5 124.1,299.2 124.4,298.5 125.8,296.3 126.2,297.3 127.9,299.4 127.9,299.5 129.7,293.8 129.8,293.9 130.0,294.3 131.6,297.1 131.7,297.3 133.2,296.4 133.9,295.2 134.8,297.7 136.1,303.0 136.5,304.1 138.0,297.1 139.0,293.4 139.0,293.7 140.0,299.9 140.3,302.1 140.8,305.6 142.0,300.4 143.1,294.6 143.8,296.4 145.2,301.1 145.6,302.2 147.0,297.2 148.0,294.9 148.9,295.6 149.6,295.5 150.0,294.9 150.6,295.0 152.1,297.0 152.2,297.0 153.4,294.9 153.5,294.8 154.9,297.9 155.1,297.5 156.5,294.9 156.7,295.2 157.8,298.1 158.0,298.0 159.1,295.3 159.5,294.9 160.8,296.5 160.9,296.5 162.1,294.9 162.2,294.9 163.5,296.3 163.9,296.3 164.9,294.9 165.3,294.9 166.5,296.2 167.6,295.9 167.6,295.8 168.0,295.8 168.7,295.9 169.3,295.1 169.9,294.7 171.7,295.4 173.5,294.6 174.9,295.3 176.0,294.6 177.9,295.3 179.7,294.5 181.4,295.3 183.1,294.4 184.3,294.9 186.2,294.2 187.5,295.2 188.9,294.3 190.7,294.9 192.3,294.4 193.8,294.8 195.1,294.3 197.0,294.8 198.7,294.3 200.6,294.7 201.8,294.2 203.7,294.9 205.5,294.1 206.7,294.7 208.1,293.8 209.3,294.6 211.1,294.1 213.0,294.6 214.6,293.9 216.5,294.4 218.3,294.0 220.0,294.4 221.7,293.9 223.0,294.3 224.3,293.8 226.2,294.5 227.6,293.5 228.8,294.3 230.7,293.5 232.4,294.5 233.5,293.5 235.2,294.4 237.0,293.7 238.2,294.1 239.7,293.5 241.2,294.2 243.0,293.4 244.7,294.0 245.9,293.5 247.1,294.2 248.4,293.4 249.7,294.0 251.4,293.2 252.6,294.0 254.6,293.4 255.6,293.9 257.4,293.2 259.3,293.9 260.4,293.3 262.1,293.9 263.3,293.2 264.8,293.8 265.0,293.7 266.2,292.7 267.3,292.8 269.0,291.2 270.1,291.2 271.7,289.6 272.0,289.7 273.2,289.8 274.7,288.1 276.3,287.7 277.9,285.9 279.0,286.0 280.6,284.5 280.7,284.5 281.8,285.2 283.1,285.0 284.5,286.0 285.7,285.6 286.0,285.8 287.3,286.7 289.2,286.3 290.0,287.0 290.5,287.2 292.1,286.4 293.4,287.1 294.7,286.1 295.8,286.8 297.4,285.6 298.4,286.3 298.6,286.6 300.2,287.1 302.0,289.0 303.1,288.8 304.0,290.0 304.8,291.0 306.4,291.5 307.5,292.9 309.3,293.7 309.8,294.2 310.8,294.6 312.5,293.8 314.3,294.7 315.7,294.2 317.3,294.9 319.1,294.3 320.5,294.7 321.9,294.0 323.3,295.0 325.2,294.1 326.4,295.1 328.3,294.1 329.3,294.8 330.6,294.3 332.1,294.9 333.7,294.3 335.3,295.1 336.9,294.3 338.0,295.1 339.1,294.6 340.9,295.1 342.2,294.6 343.8,295.1 345.4,294.7 347.4,295.2 349.1,294.6 350.5,295.3 351.9,294.6 353.4,295.4 354.7,294.7 355.9,295.4 357.5,294.7 359.1,295.5 360.3,294.6 362.0,295.6 363.9,294.9 365.3,295.5 366.6,295.0 367.9,295.5 369.4,295.0 370.8,295.8 372.1,294.9 373.9,295.7 375.7,295.2 376.8,296.0 377.9,295.3 379.7,295.7 381.4,295.1 382.6,295.8 384.5,295.3 385.8,295.9 387.5,295.3 388.7,296.1 389.8,295.5 390.8,296.2 392.3,295.3 393.8,296.3 395.2,295.5 396.9,295.9 398.2,295.3 399.8,296.2 401.7,295.5 403.4,296.2 404.5,295.6 405.8,296.1 407.1,295.7 408.5,296.4 409.8,295.8 410.3,297.6 411.6,304.3 413.0,309.9 413.5,312.9 415.3,326.6 417.2,339.1 418.3,347.4 419.1,345.1 420.8,339.0 421.9,336.2 422.5,336.1 424.1,334.2 426.0,333.6 427.3,332.3 428.6,331.8 429.2,330.0 430.8,323.6 432.0,319.9 433.1,315.9 433.9,313.8 435.3,311.1 437.1,306.4 438.9,302.6 439.9,300.0 440.6,299.5 442.1,300.0 443.4,298.9 444.8,298.9 446.5,297.7 448.1,298.1 449.9,296.6 450.0,296.6 451.8,297.5 453.5,296.7 455.0,297.5 456.8,296.5 458.5,297.4 459.8,296.6 461.0,297.4 462.2,296.8 464.1,297.5 465.4,296.8 467.2,297.5 468.4,296.5 470.2,297.4 471.5,296.8 472.6,297.3 474.3,296.6 475.6,297.5 476.7,296.6 477.9,297.2 479.1,296.5 480.3,297.2 481.8,296.7 483.4,297.4 485.1,296.5 486.4,297.4 487.6,296.7 488.7,297.5 490.1,296.6 491.9,297.3 493.2,296.7 494.7,297.3 495.8,296.5 497.0,297.3 497.4,297.5 499.2,296.6 501.0,297.6 502.4,296.7 504.3,297.4 505.5,297.0 506.9,297.8 508.5,296.9 509.9,297.8 511.1,297.0 512.4,297.6 513.8,297.1 515.7,297.8 517.6,297.1 518.7,298.1 520.0,297.5 520.6,297.2 522.3,298.2 523.8,297.5 525.4,298.3 527.3,297.8 528.4,298.5 529.5,298.0 530.7,298.8 532.0,298.0 533.7,298.8 535.5,298.3 536.8,299.3 537.8,298.6 539.4,299.2 539.6,299.1 540.9,296.7 542.3,295.8 543.5,293.1 544.0,292.7 545.4,287.4 547.2,279.8 547.4,278.9 548.2,279.2 549.9,278.2 550.0,278.2 551.5,279.4 552.7,279.5 553.3,280.1 554.2,281.5 555.6,282.3 556.0,282.8 557.5,287.2 559.2,290.7 560.7,295.1 561.1,295.8 561.9,295.4 562.0,295.5 563.6,298.3 563.7,298.4 565.4,295.7 565.5,296.0 567.0,301.5 567.1,301.7 568.1,299.3 569.2,298.0 569.6,298.7 571.0,299.8 571.2,299.1 572.4,297.0 572.7,298.0 573.9,301.2 574.1,300.6 575.5,298.4 576.0,296.9 576.9,302.8 577.3,306.1 578.4,302.2 579.1,298.6 579.7,300.9 580.8,306.4 581.1,305.1 582.2,299.9 582.7,298.4 583.3,300.5 584.5,302.7 584.7,303.3 585.6,299.7 586.0,297.5 586.6,299.6 586.9,300.6 588.2,306.5 588.6,304.8 589.7,299.9 590.4,297.8 591.2,301.6 592.3,305.9 592.5,304.8 594.1,299.5 594.2,299.2 595.3,300.0 595.9,301.2 597.2,299.4 597.9,297.7 598.3,297.5 598.9,297.7 600.3,299.9 602.1,301.0 603.0,302.0 603.8,308.2 604.1,310.0 605.5,305.2 606.0,303.6 607.1,314.3 607.2,313.7 608.3,304.3 608.9,304.9 609.9,307.4 609.9,307.4 611.1,303.3 611.2,303.8 612.7,312.9 613.2,310.5 614.6,302.2 614.6,302.2 615.0,307.0 615.6,314.2 616.5,305.4 616.7,303.4 617.6,301.8 617.9,301.7 618.0,300.8 619.0,304.1 619.8,305.8 620.8,302.0 621.2,300.5 622.7,307.1 622.8,307.7 624.5,300.0 624.8,298.7 625.0,299.0 625.8,300.2 626.6,300.5 627.5,298.3 627.9,297.6 628.7,301.0 629.6,304.2 630.0,302.2 631.4,296.1 631.5,295.8 633.0,301.8 633.1,302.1 634.3,296.9 634.9,294.1 635.9,297.3 637.0,301.3 637.7,297.1 638.3,293.4 639.6,292.3 639.9,292.2 640.0,292.0 641.0,293.8 641.7,294.4 642.5,292.2 643.1,291.1 644.3,293.5 644.9,294.3 645.3,293.4 646.1,291.8 646.7,291.2 647.5,292.9 648.8,294.4 648.8,294.6 650.1,293.0 650.2,293.1 651.6,294.2 651.8,293.9 653.5,293.7 653.7,293.5 655.2,294.4 655.7,295.2 657.0,295.1 657.1,295.0 657.9,294.7 658.6,295.2 659.2,296.5 659.9,296.7 660.0,296.7 661.5,295.7 663.3,295.9 664.6,294.8 666.2,295.4 668.1,294.0 669.5,294.4 671.0,293.2 672.4,293.8 674.3,292.3 676.0,292.9 677.3,291.5 678.5,291.9 680.0,291.1 681.3,291.4 681.8,291.0 682.5,290.1 683.9,290.0 685.0,288.4 686.5,288.0 687.8,286.6 689.2,286.3 690.7,284.6 692.2,284.3 692.7,283.8 693.7,283.3 695.3,283.7 697.1,282.9 698.7,283.3 700.3,282.4 701.9,283.1 703.6,282.3 703.8,282.3 705.8,283.8 707.4,284.0 708.5,284.9 710.0,285.1 711.8,286.3 713.4,286.3 714.5,287.5 715.1,287.5 716.9,285.6 718.0,285.9 719.3,284.5 721.0,284.5 721.8,283.6 722.2,283.7 723.3,285.1 725.1,285.6 726.3,286.8 728.2,287.7 729.8,289.5 731.0,289.3 732.4,291.1 732.7,291.2 733.8,291.4 735.7,293.1 737.6,293.6 739.5,295.6 740.6,295.7 742.6,297.5 744.3,297.7 745.7,299.5 747.3,299.8 747.4,299.8 748.9,301.2 750.4,300.8 751.6,302.0 753.1,301.9 754.5,303.1 754.9,303.1 756.4,301.9 758.1,302.1 759.5,301.0 761.3,301.0 763.0,299.9 764.9,299.8 766.4,298.7 768.2,298.9 769.0,298.2 769.5,298.0 771.2,298.8 772.4,298.3 774.1,299.1 775.9,298.7 777.4,299.2 779.0,298.9 780.2,299.7 781.4,298.9 782.6,299.8 784.3,299.4 785.7,300.3 787.2,299.5 787.3,299.6 789.0,300.7 790.0,300.1 790.2,300.0 791.6,301.4 792.2,301.5 793.4,299.4 793.5,299.4 795.2,302.7 795.3,302.5 796.8,299.3 797.2,298.8 798.5,302.8 798.6,302.8 800.4,299.6 800.6,299.5 801.8,302.7 802.6,304.3 803.0,303.1 804.5,299.6 804.7,300.1 805.5,301.5 806.2,303.3 806.4,303.9 808.0,303.3 808.1,303.5 808.6,303.7 809.9,308.5 810.7,312.0 810.9,312.1 811.8,307.1 812.9,300.0 813.0,299.8 814.5,298.0 814.5,298.0 814.7,298.4 816.1,293.2 816.1,293.1 817.7,298.1 817.7,298.0 819.1,293.7 819.3,294.1 820.5,297.6 820.6,297.0 821.9,291.2 822.4,292.5 823.5,296.2 823.5,296.1 824.7,291.9 825.1,291.1 826.2,294.7 826.4,295.0 827.3,292.8 827.4,292.7 828.6,293.0 829.2,294.7 830.5,297.5 830.9,297.1 832.1,296.9 832.6,298.8 833.3,300.6 833.9,300.1 834.5,300.4 835.3,300.6 835.4,300.4 837.0,302.0" fill="none" stroke="#2424ff" stroke-width="1.3" stroke-linejoin="round" clip-path="url(#cl)"/>
<path d="M39.8,397.9 41.2,399.1 42.4,398.7 44.2,399.8 46.0,399.7 47.5,400.8 48.9,400.6 49.2,400.5 50.4,401.6 51.9,401.2 52.0,401.2 53.3,406.8 54.5,411.1 54.9,410.3 56.0,408.8 57.3,405.7 57.8,406.6 59.4,410.9 60.0,411.9 60.1,412.0 61.1,409.6 62.2,408.2 63.1,416.3 64.2,425.3 64.6,429.7 65.4,419.1 66.3,406.1 67.3,416.0 68.2,425.3 68.5,422.5 70.4,404.4 70.5,403.4 72.0,417.6 72.3,420.4 73.2,416.1 74.2,412.1 75.0,408.4 75.6,415.6 76.7,429.7 76.8,430.4 78.5,407.8 78.5,407.1 79.6,412.0 80.0,413.2 80.2,413.8 81.0,410.9 82.4,406.8 82.9,405.0 83.8,417.6 84.7,430.6 85.5,423.2 87.1,406.8 87.4,404.0 89.0,411.2 90.2,415.8 90.6,413.5 92.2,405.2 92.5,403.2 92.7,402.6 93.9,404.9 95.1,408.4 96.2,410.7 96.4,413.0 97.6,426.6 99.3,443.1 99.5,445.4 100.9,426.0 101.0,425.2 102.1,419.8 103.4,415.3 104.0,412.2 104.8,414.7 106.6,421.4 106.8,422.1 108.3,408.3 108.8,404.6 109.5,409.1 110.0,411.5 110.5,414.6 111.2,408.5 112.1,400.8 112.3,401.5 114.0,406.2 114.5,408.2 115.1,405.6 116.5,398.5 116.9,396.8 117.9,411.1 118.9,424.9 119.2,419.3 120.4,403.1 121.0,393.6 122.0,405.2 122.5,411.2 123.2,420.9 123.5,417.3 124.8,397.5 125.0,400.0 126.4,422.3 126.6,420.5 128.0,403.6 129.0,391.5 129.0,391.4 130.1,399.3 131.6,412.2 131.6,412.3 132.7,402.5 133.9,392.1 134.5,397.8 135.0,402.3 135.5,407.2 135.9,405.1 137.1,400.5 138.3,394.5 138.3,394.3 139.7,410.0 140.9,422.4 140.9,422.5 142.2,411.2 143.5,398.8 143.7,397.2 145.0,406.5 145.7,411.1 146.8,404.6 148.2,397.7 148.7,398.1 150.0,397.8 150.4,398.2 152.3,401.2 152.4,401.4 153.9,399.4 155.0,398.9 155.6,401.3 156.8,404.5 156.8,404.5 157.9,402.8 159.0,399.9 159.3,399.3 160.9,403.4 161.8,404.9 162.2,403.4 163.5,400.5 163.6,400.5 165.2,402.6 165.2,402.5 166.5,401.3 166.8,400.8 168.0,399.8 168.4,399.6 169.8,400.5 170.9,399.7 172.7,400.2 173.7,399.5 175.7,400.2 177.0,399.6 178.2,400.3 179.7,399.2 180.8,399.9 181.8,399.3 183.0,399.9 184.4,399.3 185.5,399.7 187.4,399.3 188.9,399.8 190.4,399.2 191.8,399.6 193.3,398.8 194.9,399.8 196.1,399.1 197.7,399.6 199.2,398.9 200.8,399.6 202.7,398.8 204.2,399.6 205.4,398.9 206.7,399.2 208.5,398.5 209.8,399.2 210.9,398.7 212.1,399.2 213.6,398.6 214.7,399.3 215.8,398.6 217.1,399.1 218.3,398.4 219.6,399.2 221.2,398.2 222.8,399.1 224.4,398.3 226.2,399.0 228.1,398.1 229.8,398.7 231.5,398.1 232.7,398.6 233.9,398.1 235.6,398.6 236.7,397.8 238.2,398.4 239.3,398.0 240.0,398.3 240.7,398.8 242.6,398.3 243.8,399.3 245.2,399.0 246.3,399.8 248.1,399.4 249.2,400.4 250.0,400.0 250.4,399.6 251.9,400.1 253.6,398.8 255.0,399.1 256.4,397.8 257.9,398.1 259.8,396.7 261.7,396.8 262.8,395.6 263.9,395.7 264.3,394.7 266.2,387.9 267.7,383.4 267.8,383.0 269.6,370.1 270.9,362.5 271.5,357.9 272.1,353.6 273.5,345.1 274.7,335.7 275.2,332.8 276.0,331.8 277.8,327.3 277.8,327.3 279.4,325.9 280.6,323.4 282.1,322.0 282.3,321.6 283.3,323.7 285.0,328.5 285.0,328.5 286.2,330.1 287.6,333.8 289.1,336.3 289.4,335.5 291.0,332.2 291.2,331.7 292.2,327.0 293.8,321.6 295.2,315.7 295.4,315.0 296.3,312.2 297.7,306.3 298.4,303.7 299.3,308.8 301.3,317.6 301.7,319.9 303.2,333.5 304.8,347.3 305.4,352.8 306.6,359.6 308.2,367.5 309.7,376.4 310.5,380.5 310.8,380.9 312.2,383.5 313.9,385.3 315.2,388.3 315.5,388.5 316.5,388.3 317.6,389.7 319.3,389.6 321.2,391.5 323.0,391.5 324.6,393.0 326.1,393.0 327.3,394.7 328.1,394.6 328.9,394.3 329.9,395.2 331.1,394.7 333.0,396.0 334.6,395.5 335.8,396.4 337.3,395.9 338.7,397.1 339.9,396.6 340.7,397.1 341.2,397.6 343.1,397.7 344.7,399.0 345.9,398.9 347.5,400.2 349.3,400.0 350.0,400.6 350.8,401.0 352.3,400.2 353.6,401.0 355.2,400.2 356.4,401.0 357.6,400.4 359.2,401.1 360.4,400.4 362.0,401.3 363.7,400.7 365.2,401.4 367.1,400.6 369.0,401.4 370.8,400.7 372.5,401.5 374.0,400.8 375.2,401.3 376.4,400.8 378.0,401.3 379.7,400.6 381.5,401.6 383.2,400.6 385.1,401.6 387.0,401.0 388.1,401.4 389.4,400.9 390.8,401.7 392.6,401.1 394.0,401.7 395.4,401.1 396.9,401.6 398.6,401.0 400.5,401.9 401.6,400.9 403.3,401.7 404.5,401.1 405.9,401.9 407.7,401.2 409.0,401.8 410.5,401.1 410.7,402.2 412.3,411.2 413.0,414.5 413.6,424.1 415.2,448.1 416.5,468.2 416.6,469.6 418.2,495.5 419.5,515.1 419.7,517.7 421.0,506.9 422.6,492.7 422.8,490.7 424.4,488.5 425.8,485.7 426.9,485.0 428.2,482.3 428.6,481.9 429.5,475.8 430.9,465.4 432.0,458.3 433.1,450.4 433.9,443.5 435.4,432.2 436.7,421.1 437.6,414.5 438.4,413.6 439.5,411.1 441.2,408.9 442.8,405.4 444.3,403.7 444.4,403.8 445.5,403.2 447.3,403.6 449.1,402.8 451.0,403.5 452.9,402.7 454.8,403.4 456.5,402.8 458.5,403.6 459.7,402.7 460.0,402.8 461.0,403.4 462.3,402.7 463.5,403.3 464.9,403.0 466.3,403.7 468.2,403.0 469.2,403.8 471.2,403.0 472.3,403.7 474.2,402.9 475.0,403.5 475.3,403.9 476.3,404.1 476.7,403.8 478.1,403.9 478.4,404.6 479.5,405.7 480.2,405.0 481.6,404.6 481.7,404.7 483.3,405.4 483.4,405.3 484.5,405.0 485.5,403.8 485.9,404.9 487.2,409.2 487.4,408.7 488.6,404.8 489.3,405.9 490.8,409.1 490.9,408.9 492.4,404.8 492.9,404.1 493.6,405.9 494.5,407.3 495.3,406.2 496.7,404.9 497.0,406.6 498.4,411.8 498.5,411.2 500.3,406.7 500.5,406.1 501.8,409.1 502.2,410.2 503.2,408.0 504.2,405.1 504.3,405.4 505.7,410.7 505.7,410.6 507.1,405.2 507.6,407.1 509.1,414.1 509.3,414.8 511.0,406.2 511.2,405.3 512.8,409.3 513.0,409.1 514.2,406.3 514.3,406.2 515.3,409.2 516.5,411.5 517.0,410.0 518.4,407.6 518.5,407.3 519.7,411.4 520.0,412.6 520.5,414.6 521.5,410.3 522.5,405.6 522.9,406.1 524.4,409.2 524.4,409.2 525.9,406.0 526.2,405.5 527.0,405.6 528.0,404.6 528.2,405.5 528.4,406.5 529.5,412.6 530.2,415.8 531.0,410.9 531.2,409.4 532.1,405.5 532.5,407.9 533.9,412.8 534.1,411.9 535.8,408.0 535.8,407.9 537.0,413.3 537.9,417.9 538.0,417.4 538.5,415.4 539.7,409.1 539.9,408.2 540.8,408.9 541.8,408.8 542.0,407.6 542.4,403.5 543.4,392.0 544.9,374.4 545.2,371.7 546.0,368.1 547.2,361.2 548.8,353.7 549.4,349.9 550.0,355.7 551.2,367.9 551.5,371.0 552.8,358.7 553.5,353.1 554.0,355.5 555.6,362.5 556.0,364.7 557.3,370.5 557.7,372.0 558.9,390.9 559.8,405.7 560.1,406.0 561.0,405.5 561.4,409.4 562.4,422.0 563.1,429.5 563.9,422.7 565.1,414.4 565.4,417.9 566.6,429.5 567.3,436.1 568.5,416.5 569.1,407.9 569.7,419.3 570.8,441.9 571.2,449.2 572.4,423.0 572.9,412.8 573.6,424.4 574.9,443.9 575.0,441.2 575.1,439.1 576.3,414.0 576.5,418.0 578.1,439.7 578.4,434.6 579.7,413.5 579.8,412.2 581.2,428.7 581.8,435.9 582.8,422.2 583.8,406.7 584.2,413.0 585.2,428.9 586.0,420.1 587.1,407.6 587.2,407.7 588.5,412.2 589.1,413.2 589.8,407.3 591.3,406.9 591.5,407.0 592.6,405.5 594.0,405.6 595.6,404.2 597.2,404.2 598.6,403.2 599.1,405.5 600.7,414.3 600.7,414.4 601.0,414.7 602.0,424.4 602.3,427.2 603.3,421.6 603.4,421.0 604.4,432.0 604.6,434.3 605.7,426.5 605.9,428.8 606.0,430.7 607.0,443.4 607.1,445.4 608.2,433.3 608.7,426.9 609.9,432.3 610.6,435.5 611.5,431.4 612.0,428.6 612.9,434.8 613.4,438.8 613.9,429.3 614.0,428.4 615.3,448.2 616.5,468.8 616.8,463.7 618.7,426.0 619.0,419.9 619.8,431.1 620.3,436.6 621.0,427.9 621.6,421.2 622.1,429.0 623.2,444.0 623.6,438.2 624.9,423.5 625.4,417.7 626.9,437.8 627.1,441.0 628.1,424.2 629.0,409.0 630.0,423.3 630.0,423.8 630.3,428.5 631.6,413.1 632.2,405.3 632.9,408.1 634.4,415.1 634.5,414.3 635.6,398.7 636.0,393.1 637.0,390.4 637.2,389.7 638.5,382.2 638.9,381.0 640.4,377.8 642.1,372.8 643.6,369.7 645.2,364.9 645.8,363.6 646.4,365.8 648.0,369.8 648.1,369.5 650.0,366.2 650.1,366.3 651.3,367.3 652.7,369.6 653.2,370.0 654.5,384.2 656.2,402.8 656.3,403.6 657.8,395.7 659.0,390.1 659.2,391.9 660.0,400.0 660.9,398.5 662.6,396.4 664.2,393.3 665.7,392.0 667.6,388.4 668.4,387.6 668.9,387.6 670.1,386.1 671.5,386.1 672.7,384.4 674.4,384.2 675.4,382.6 676.8,382.8 678.4,381.0 678.9,380.9 680.2,377.5 681.6,372.7 683.1,369.1 684.0,365.9 684.7,363.2 685.9,359.9 686.9,355.5 688.7,350.5 689.4,347.4 689.8,345.4 691.2,339.1 692.5,332.6 694.0,326.1 694.3,324.6 696.1,314.3 697.5,307.6 697.8,305.7 698.7,294.2 699.8,282.7 700.0,280.3 701.4,259.5 702.0,250.9 702.9,250.4 704.0,248.7 704.2,251.6 705.6,272.8 707.0,292.8 707.3,297.1 709.0,320.1 709.0,320.2 710.3,331.8 711.2,341.2 711.5,339.8 712.5,332.5 713.0,329.9 713.7,325.9 715.1,315.4 715.4,313.7 716.6,307.2 717.7,299.9 719.4,290.3 719.6,289.0 721.2,290.5 722.0,292.0 722.9,300.6 724.0,310.0 724.5,315.3 726.4,335.8 727.1,343.4 727.6,346.2 728.9,355.2 730.3,363.5 731.0,368.0 731.6,370.6 733.0,376.4 734.7,384.3 735.5,387.2 735.9,388.0 737.8,394.2 739.0,396.9 740.0,400.1 740.5,400.8 741.5,401.3 743.3,403.8 745.1,404.9 746.0,406.2 746.8,405.4 748.7,401.5 750.0,400.3 750.1,400.3 751.8,397.8 753.5,397.0 754.7,395.2 756.0,394.6 756.5,393.9 757.7,393.9 759.2,395.2 760.6,395.0 762.2,396.1 763.4,396.0 764.5,396.9 765.9,397.0 766.9,398.0 768.0,397.9 768.9,397.4 770.2,398.2 771.3,397.2 772.4,397.5 774.0,396.6 775.0,397.1 775.5,397.6 776.4,397.4 776.9,396.8 778.5,396.9 778.5,396.9 779.7,397.3 780.2,398.0 781.2,397.7 781.7,396.8 781.7,396.8 782.4,399.0 783.4,402.8 784.2,402.7 785.6,401.8 785.7,402.6 786.0,403.9 787.0,409.9 787.4,409.8 788.5,408.0 788.8,407.9 789.9,415.0 790.1,415.9 790.4,416.4 791.8,409.3 792.1,407.9 793.1,408.8 793.8,408.4 794.2,407.1 795.0,405.7 795.4,405.8 795.7,405.5 797.2,412.0 797.2,412.0 798.3,410.2 799.3,407.4 799.8,408.7 800.0,409.5 801.0,414.8 801.1,415.4 802.4,416.3 803.3,417.4 804.1,420.8 804.8,423.5 805.0,423.4 805.4,423.1 806.2,423.1 806.7,424.2 807.7,425.0 808.0,424.8 808.0,425.0 809.4,432.5 810.2,435.9 810.5,430.9 811.8,413.7 812.0,410.3 813.2,405.9 813.9,404.1 815.1,393.2 815.2,391.8 815.3,391.5 816.7,395.0 816.7,395.1 818.3,388.0 818.6,388.6 819.8,391.4 820.0,392.0 820.1,392.3 821.1,388.5 821.7,385.6 822.6,385.1 823.6,385.5 824.1,384.1 825.0,380.8 825.7,382.1 825.8,382.5 827.2,386.2 827.3,385.7 828.7,375.3 829.0,373.4 829.9,375.1 831.1,376.3 831.7,373.0 832.0,372.0 832.9,363.8 833.1,362.3 834.0,355.8 834.7,350.4 834.8,349.8 836.2,340.5 836.3,339.4 837.2,331.7 837.5,330.0" fill="none" stroke="#12e612" stroke-width="1.3" stroke-linejoin="round" clip-path="url(#cl)"/>
<path d="M39.8,459.5 41.6,460.6 43.5,460.0 45.3,460.9 46.6,460.2 48.4,461.3 49.0,461.1 50.3,460.7 52.0,461.4 52.0,461.6 53.2,466.0 54.6,472.3 54.8,471.4 56.0,464.1 56.5,461.7 57.1,467.4 58.9,481.3 58.9,481.5 60.0,474.5 60.8,469.1 61.5,464.3 62.0,466.8 63.2,473.9 64.0,478.1 65.1,473.2 66.3,468.5 66.6,466.8 68.1,478.0 68.7,483.2 69.6,476.7 71.1,463.2 71.2,463.3 72.9,483.8 73.4,488.9 74.6,474.3 75.3,467.2 76.3,476.5 77.6,487.7 77.8,489.5 79.4,467.9 79.7,463.3 81.3,478.9 82.3,489.2 82.5,487.9 84.2,466.8 84.5,463.2 85.8,479.8 86.3,485.9 87.6,473.9 88.2,468.5 89.4,471.1 90.0,472.0 90.5,473.4 91.0,471.8 92.4,468.4 92.9,466.8 94.0,467.1 95.1,469.3 96.0,469.6 96.2,470.3 98.0,480.4 98.1,481.4 99.6,498.1 99.8,500.9 100.7,485.2 101.0,480.3 102.5,473.5 104.0,468.2 104.3,469.3 105.6,472.7 106.2,475.0 107.0,472.7 108.7,465.8 108.8,465.9 110.0,467.8 110.7,469.9 111.5,471.1 111.8,469.6 113.5,464.0 113.5,463.7 114.5,472.9 115.5,482.9 116.0,477.2 117.1,464.5 117.2,464.8 118.3,468.8 119.4,472.1 119.6,470.8 120.7,466.0 121.8,460.3 122.4,466.5 123.6,480.0 123.6,479.2 125.0,462.7 125.2,460.0 125.3,459.2 127.1,475.9 128.0,483.9 128.3,479.8 129.5,463.4 130.2,468.9 131.1,476.4 131.6,473.8 132.9,467.6 133.8,462.4 134.1,464.0 135.6,477.1 135.8,478.2 137.2,464.7 137.8,459.7 138.9,464.3 140.0,468.1 140.3,469.3 140.7,470.9 142.1,466.5 142.8,464.0 143.4,471.4 144.8,488.3 144.9,489.4 146.1,471.0 146.7,463.5 147.7,463.9 148.9,462.7 149.4,462.8 150.0,460.4 150.5,462.5 152.2,468.1 152.4,469.1 153.3,466.3 154.4,461.6 154.7,462.2 155.0,463.1 155.9,465.7 156.7,467.1 157.0,465.9 158.2,462.7 158.3,463.2 159.9,467.2 159.9,467.2 161.6,463.5 162.2,461.4 162.9,462.8 163.7,465.3 164.6,464.2 165.8,461.6 165.9,461.6 167.0,462.7 167.5,462.8 168.0,461.0 168.8,460.8 170.6,461.4 172.4,460.4 173.5,461.4 174.7,460.7 176.1,461.2 177.2,460.6 178.4,461.1 179.6,460.6 180.8,461.1 182.2,460.4 183.8,461.1 185.2,460.3 186.4,461.0 187.6,460.3 188.7,460.9 190.1,460.3 191.7,461.0 193.3,460.4 195.2,461.0 196.6,460.2 198.2,460.7 199.8,460.0 201.2,460.9 202.5,460.0 203.8,460.8 205.5,460.1 207.4,460.7 209.0,460.1 210.6,460.7 211.7,459.8 212.9,460.7 214.6,459.9 215.9,460.6 217.9,460.1 219.7,460.6 221.2,459.8 222.8,460.6 224.7,459.8 226.1,460.4 228.0,459.7 229.1,460.5 230.2,459.8 231.9,460.4 233.4,459.5 235.0,460.5 236.8,459.7 238.5,460.2 240.0,459.7 240.4,459.5 241.9,459.9 243.7,459.2 244.7,459.9 245.8,459.1 246.9,459.6 248.4,458.7 250.3,459.2 251.6,458.1 252.7,458.8 254.0,457.9 255.4,458.6 256.8,457.8 258.5,458.4 259.8,457.6 261.6,458.0 263.1,457.2 263.9,457.4 265.0,455.3 266.9,450.4 268.5,447.4 270.2,443.1 270.4,442.7 271.5,441.7 273.2,438.6 274.4,437.8 275.2,435.9 275.5,435.5 277.0,435.7 278.7,434.4 280.4,434.6 281.5,433.5 282.3,433.5 283.0,434.4 284.6,435.4 285.0,436.0 285.7,437.0 287.0,437.6 288.4,439.5 289.1,439.9 290.0,438.5 291.5,437.8 293.0,435.7 293.4,434.8 295.2,432.1 296.9,428.0 297.4,427.1 298.6,430.3 299.9,433.0 301.0,436.3 301.0,436.3 302.2,438.8 303.6,443.2 305.3,446.7 305.4,447.1 307.0,450.0 308.3,451.4 309.7,453.9 310.5,454.9 311.6,454.9 313.2,456.2 314.7,455.9 315.8,456.8 317.3,456.8 318.4,457.7 319.7,457.4 320.0,457.6 321.5,458.2 322.9,457.8 324.1,458.4 326.0,457.7 327.3,458.7 328.5,457.9 329.6,458.7 331.2,457.8 332.8,458.9 334.0,458.1 335.3,458.7 337.2,458.4 338.6,458.9 339.8,458.2 341.5,459.0 343.1,458.3 344.2,459.2 346.0,458.5 347.5,459.2 348.7,458.7 350.0,459.2 350.1,459.3 351.8,458.8 353.0,459.6 354.5,459.0 356.2,459.4 357.6,459.0 359.2,459.6 361.0,459.1 362.4,459.9 363.8,459.2 365.4,459.9 367.2,459.5 369.1,460.1 370.6,459.6 372.1,460.2 373.7,459.6 374.8,460.2 376.7,459.9 378.4,460.6 380.1,460.1 381.7,460.8 382.8,460.2 384.7,460.9 386.4,460.0 388.0,460.8 389.1,460.4 390.8,461.1 392.7,460.5 393.9,461.1 395.8,460.6 397.7,461.4 399.4,460.8 401.2,461.4 402.9,461.0 404.2,461.6 405.5,460.9 406.6,461.6 408.3,461.1 410.2,461.8 410.5,461.7 411.5,467.5 413.1,478.1 413.8,482.0 415.1,505.4 416.6,535.6 417.4,549.3 417.9,553.1 419.5,565.6 419.7,567.5 421.3,557.6 422.8,549.3 423.0,549.2 424.8,545.8 425.9,544.8 427.0,542.6 428.2,541.4 428.6,540.4 429.5,531.8 431.4,515.5 432.5,504.7 433.1,499.8 434.2,492.9 435.5,482.6 436.6,475.5 437.6,468.1 438.0,467.6 439.8,466.7 441.7,463.8 443.3,463.1 444.0,461.9 444.4,461.6 446.2,462.5 447.7,461.6 449.4,462.5 451.1,461.6 453.1,462.5 454.1,461.5 455.4,462.2 456.7,461.8 457.8,462.5 459.2,461.8 460.0,462.0 460.9,462.3 462.2,461.8 463.6,462.6 464.8,461.7 466.3,462.6 467.6,461.8 468.9,462.7 470.0,462.3 470.2,462.2 471.2,462.8 473.0,462.1 474.5,462.9 475.6,462.1 477.3,462.7 478.5,462.0 479.8,462.6 480.0,462.5 480.9,462.3 481.7,463.0 482.7,463.1 483.5,462.3 483.9,462.6 485.2,465.1 485.4,465.0 486.6,462.6 486.8,462.9 488.2,466.4 488.6,465.6 489.7,462.8 489.9,463.1 491.7,467.4 492.0,467.7 492.0,467.6 493.1,463.9 493.6,462.9 494.8,465.6 495.2,466.2 496.6,463.6 496.9,463.3 498.3,465.3 499.1,465.9 499.5,465.0 500.3,463.5 500.7,464.2 501.6,464.9 501.9,464.3 503.0,464.0 503.7,463.0 504.7,464.7 505.6,467.0 506.7,465.9 507.8,464.0 508.4,465.0 509.1,466.6 510.3,465.4 511.4,463.6 511.6,464.6 513.0,471.0 513.1,470.8 514.2,466.2 515.1,464.2 515.3,464.7 516.8,466.8 517.0,466.2 518.1,464.1 518.4,463.4 519.3,466.4 520.0,469.6 520.3,471.0 520.5,470.1 521.7,464.4 522.0,465.1 523.0,467.9 524.0,466.5 524.9,464.3 525.5,464.9 527.1,468.6 527.1,468.6 528.9,464.2 529.0,463.9 530.0,464.3 530.7,465.7 531.8,466.7 531.9,466.9 533.4,466.7 534.1,466.0 535.1,469.8 535.8,472.7 536.8,469.5 537.0,468.7 537.8,465.2 538.1,466.9 540.0,479.7 540.0,480.1 541.2,471.2 541.7,468.0 543.0,473.7 543.4,474.9 544.3,470.9 545.4,466.6 545.8,470.5 547.3,483.1 547.4,484.1 548.5,475.0 549.0,470.6 550.1,482.2 550.3,484.1 551.6,472.7 551.8,471.2 553.1,482.6 553.5,486.3 554.7,468.1 555.0,469.9 556.0,477.6 556.8,484.6 557.2,481.6 558.6,468.1 558.8,470.0 560.0,482.0 560.4,479.4 561.3,473.2 562.2,481.5 563.3,492.1 563.5,489.9 564.0,484.8 565.0,473.6 565.3,470.4 566.5,488.8 566.6,489.7 567.9,471.5 567.9,470.6 569.2,481.7 569.6,485.5 570.9,468.5 570.9,467.7 572.7,477.4 572.7,477.3 574.1,469.6 574.5,467.6 575.3,474.3 576.0,478.9 576.7,474.7 577.8,469.6 577.8,469.0 579.3,480.0 579.4,479.3 581.0,471.8 581.1,471.3 582.5,476.5 582.8,477.8 584.3,466.8 584.3,466.6 585.8,479.7 586.2,483.7 586.4,481.4 587.1,474.0 588.0,464.7 588.4,466.2 589.5,471.5 589.6,471.9 591.1,464.6 591.2,463.9 592.7,465.4 593.5,465.5 594.2,464.1 595.4,462.9 596.0,463.0 597.6,462.0 598.0,462.6 599.2,466.1 600.4,467.9 601.8,471.5 602.0,471.8 603.5,477.6 604.0,479.9 605.3,497.1 605.4,497.9 607.1,482.9 607.3,481.1 608.7,493.0 608.9,494.5 610.0,481.1 610.4,482.7 611.8,490.9 612.2,488.7 613.5,482.0 614.0,481.7 614.0,482.4 615.2,503.0 616.2,520.6 617.0,507.4 618.4,485.3 619.0,476.1 619.7,479.4 620.8,485.0 621.2,482.7 622.3,476.5 622.7,477.7 624.2,483.1 624.5,483.9 625.7,477.1 626.2,475.1 627.6,478.7 628.3,480.0 629.2,475.5 630.0,472.4 630.2,471.5 630.5,474.3 631.6,486.8 631.8,484.5 632.8,472.5 633.4,475.2 634.6,479.6 634.9,480.7 636.5,471.0 636.8,469.1 638.2,475.1 638.4,475.7 639.8,468.2 639.9,468.8 640.0,469.0 641.9,472.8 641.9,472.6 643.2,459.8 643.3,458.4 644.3,455.0 644.8,454.1 645.3,452.4 646.0,452.7 647.4,451.4 648.9,451.9 650.8,451.2 652.0,451.5 652.4,454.1 654.0,464.2 655.4,473.8 655.9,471.2 657.0,464.7 658.0,460.1 658.9,460.8 660.0,460.7 660.4,460.4 662.1,460.9 663.2,460.0 664.6,460.1 666.2,459.3 667.5,459.8 669.5,458.8 670.0,459.0 670.7,459.2 672.3,458.3 674.0,458.6 675.0,457.6 676.1,458.2 677.4,457.3 678.8,457.7 679.9,456.6 680.0,456.6 681.3,456.4 682.8,454.5 684.0,454.1 685.3,452.4 686.9,451.9 688.5,450.1 689.7,450.0 691.5,447.7 691.6,447.3 693.2,444.3 695.0,438.5 696.5,435.1 697.8,431.1 698.3,428.6 700.0,421.0 700.5,418.1 701.7,412.4 702.9,407.8 703.2,406.3 704.2,409.9 705.3,415.4 706.0,418.1 706.7,420.6 708.3,427.5 708.5,428.0 709.7,430.2 711.1,434.7 712.5,437.5 712.5,437.5 714.3,431.7 715.5,427.4 716.0,425.9 717.1,423.3 718.7,418.4 719.0,418.8 720.6,422.3 722.0,424.0 722.5,425.9 723.8,432.2 725.0,436.6 725.1,436.8 726.9,442.4 728.5,445.9 729.2,448.1 730.3,450.3 731.5,451.4 732.6,453.8 733.8,455.0 735.2,457.4 736.9,459.4 737.6,460.8 738.0,461.5 739.6,462.5 741.5,465.2 742.6,465.5 744.5,468.3 745.7,468.6 746.0,469.1 747.4,468.8 748.6,467.4 750.3,467.1 751.7,465.8 752.0,465.7 753.1,465.6 754.9,463.9 756.0,463.6 757.1,462.3 758.0,462.1 758.5,462.2 760.4,461.0 761.6,461.3 763.1,460.3 764.2,460.6 765.9,459.4 767.1,459.5 768.5,458.4 769.1,458.6 770.0,459.3 770.2,459.5 771.9,460.0 772.0,460.1 772.9,460.2 774.0,459.2 774.0,459.2 775.5,461.5 775.9,461.7 776.8,460.6 777.5,460.3 778.4,461.4 779.7,462.2 780.2,461.9 781.6,462.4 781.7,462.3 781.9,462.2 783.3,465.1 783.6,465.9 784.6,462.8 784.8,461.8 786.1,463.5 786.2,463.3 787.3,462.6 787.9,464.6 788.6,466.3 789.2,464.3 790.1,461.8 791.0,463.6 791.8,465.0 792.6,463.9 794.0,463.0 794.1,462.9 795.0,465.1 795.2,465.8 795.9,468.4 796.7,467.4 797.8,464.7 797.8,464.7 799.1,469.0 799.3,469.4 800.0,468.5 800.2,468.4 801.3,469.0 801.5,469.0 802.9,477.1 803.1,478.5 804.6,476.3 804.8,475.7 805.0,475.4 805.9,477.4 807.1,481.0 807.5,481.7 808.0,482.1 808.7,488.6 810.2,503.2 810.4,501.3 811.6,487.6 812.0,483.3 812.5,480.4 813.5,479.7 813.7,479.3 815.3,464.4 815.4,463.9 815.5,463.5 817.0,468.0 817.6,469.3 818.5,465.4 819.7,461.1 819.7,461.3 820.0,463.0 820.8,467.8 821.1,469.9 822.0,465.2 823.2,457.1 823.2,456.9 824.6,460.6 824.8,460.9 825.8,454.8 826.2,452.7 826.2,452.9 827.8,457.8 828.3,459.0 829.5,450.5 829.6,450.9 830.8,459.8 831.4,457.5 832.0,453.8 832.6,445.1 832.9,442.0 834.0,432.6 834.2,429.7 834.3,427.4 835.6,401.9 836.3,389.5 836.7,383.3 837.5,370.0" fill="none" stroke="#ff2020" stroke-width="1.3" stroke-linejoin="round" clip-path="url(#cl)"/>
<path d="M40.0,535.1 41.8,536.3 43.3,535.9 45.2,537.1 47.0,536.8 48.7,538.0 50.0,537.8 50.0,537.9 51.2,541.0 52.0,542.6 52.9,549.2 53.0,550.0 53.4,552.0 54.1,549.3 54.7,546.6 55.9,553.0 56.3,555.3 57.6,547.7 58.1,544.4 58.8,549.7 59.7,556.5 60.3,552.3 61.1,546.4 61.7,549.8 63.1,557.9 63.7,554.4 64.6,547.3 65.2,552.6 66.8,568.2 67.1,564.9 68.5,549.0 68.5,549.7 69.7,575.0 69.9,571.9 70.0,569.6 71.3,542.3 71.4,543.9 72.6,560.1 72.9,557.6 74.2,545.7 74.7,541.2 75.6,552.7 76.5,564.0 76.7,562.2 77.9,545.6 78.2,542.4 79.4,549.4 79.5,549.3 80.9,541.9 81.1,543.5 82.6,552.8 82.9,549.7 84.3,540.1 84.4,539.1 85.5,550.6 85.9,556.3 87.0,545.1 87.1,544.3 87.9,536.4 88.9,537.2 89.7,538.8 90.5,539.0 92.0,539.9 92.3,541.2 93.8,549.4 95.0,554.8 95.6,559.9 97.4,576.5 98.3,584.0 99.3,575.1 100.9,560.9 101.0,560.2 102.0,554.7 103.4,548.3 104.0,545.0 105.2,551.0 105.5,553.1 106.8,546.0 106.9,545.5 108.5,553.3 108.9,556.0 109.5,551.6 110.6,542.2 111.2,551.7 112.6,573.7 112.8,570.8 113.9,553.9 114.4,546.8 115.0,556.5 115.2,559.1 115.9,571.0 116.4,563.4 117.7,546.3 117.8,544.7 119.5,574.9 119.6,573.2 121.0,553.8 121.7,543.3 122.7,548.5 123.6,554.8 124.3,551.8 125.4,545.3 125.6,544.3 126.7,559.8 127.9,575.5 128.0,572.4 129.1,549.5 129.4,542.1 130.4,547.2 131.3,553.3 132.0,548.1 133.0,539.7 133.3,542.6 134.4,553.2 134.8,550.5 136.0,541.8 136.4,539.1 137.2,550.7 137.9,560.1 139.1,547.8 140.0,539.1 140.0,538.8 140.5,545.9 141.7,560.9 142.5,554.3 143.8,543.8 143.9,542.8 145.7,550.8 146.0,552.6 147.2,542.8 147.7,539.0 148.8,548.1 149.8,558.6 149.9,557.2 151.2,536.7 151.4,537.1 152.7,540.9 153.1,540.0 154.4,536.2 155.0,535.7 155.0,535.7 156.0,537.2 156.7,537.6 157.5,536.9 158.5,536.9 158.9,537.6 160.2,538.8 160.4,539.1 162.0,537.1 162.3,536.6 163.6,540.1 163.8,539.7 164.9,538.5 165.6,536.7 166.6,537.1 167.7,538.9 167.9,538.7 169.3,535.3 169.3,535.3 170.9,537.5 171.2,537.7 172.3,535.8 172.5,535.6 173.4,537.7 173.9,538.5 175.2,535.3 175.2,535.3 176.6,537.7 177.1,537.2 178.0,535.6 178.2,535.3 178.4,535.2 179.6,535.8 181.5,535.0 183.3,535.9 185.2,535.0 186.7,535.9 187.8,535.0 189.3,535.9 190.9,535.2 192.0,536.0 193.2,535.1 194.5,535.7 196.2,534.9 197.5,535.9 198.9,535.1 200.3,535.7 201.5,535.2 203.3,535.8 204.6,534.9 206.5,535.8 207.7,535.2 208.8,535.7 210.0,535.2 211.2,535.8 213.1,535.0 214.5,535.7 216.0,535.1 217.4,535.6 218.7,534.9 219.8,535.8 221.5,534.9 222.7,535.7 224.0,535.1 225.4,535.9 227.2,534.9 228.3,535.6 230.0,534.9 231.5,535.8 232.5,535.1 234.4,535.9 236.2,534.8 237.5,535.6 238.7,535.0 240.4,535.9 242.1,534.9 243.8,535.7 245.3,535.2 247.1,535.6 249.0,534.9 250.3,535.6 251.6,534.9 253.3,535.5 254.4,535.0 255.9,535.6 257.2,534.9 258.3,535.6 259.7,534.8 261.3,535.8 262.8,535.1 264.1,535.8 265.8,535.0 266.9,535.7 268.5,535.0 269.8,535.7 271.7,535.0 272.8,535.6 274.2,534.9 275.4,535.8 277.1,534.9 278.4,535.8 279.7,534.8 280.9,535.5 282.7,535.0 284.6,535.6 285.8,535.0 287.2,535.7 289.1,535.0 290.5,535.5 292.5,535.0 293.6,535.4 295.0,534.7 296.8,535.7 298.8,534.7 300.1,535.5 302.0,534.8 303.1,535.7 304.5,534.9 305.8,535.5 306.9,535.0 308.2,535.8 309.4,534.7 310.6,535.5 312.4,534.7 313.9,535.4 315.3,534.9 317.2,535.4 318.6,534.7 319.7,535.5 321.5,534.7 322.5,535.4 323.6,534.7 324.9,535.6 326.8,534.9 328.1,535.7 329.7,534.9 331.4,535.5 332.7,535.0 334.4,535.7 336.0,534.6 337.1,535.4 338.6,534.6 340.5,535.5 341.8,534.8 343.3,535.7 344.5,534.7 346.2,535.6 347.9,534.7 349.3,535.4 350.7,534.7 351.8,535.4 353.5,534.9 354.6,535.3 356.2,534.8 358.1,535.6 360.0,534.8 361.2,535.3 362.7,534.7 364.1,535.4 365.5,534.7 367.2,535.5 369.0,534.7 370.2,535.6 371.5,534.7 372.9,535.5 374.1,534.8 375.4,535.3 377.2,534.7 378.5,535.4 380.5,534.7 381.8,535.5 383.4,534.5 384.5,535.4 386.3,534.6 388.2,535.2 389.5,534.8 390.7,535.6 392.3,534.5 393.7,535.5 395.1,534.8 396.9,535.6 398.0,534.6 399.6,535.3 401.0,534.8 402.3,535.3 403.8,534.6 405.1,535.2 406.4,534.6 407.6,535.3 408.9,534.5 410.4,535.2 410.5,535.2 411.6,538.8 413.0,545.1 413.1,546.1 414.2,555.6 415.9,571.2 416.5,576.2 417.2,579.3 419.1,589.3 419.7,591.9 420.7,586.5 422.1,580.1 422.8,576.3 424.1,574.8 425.3,574.6 426.5,573.0 428.4,572.1 428.6,571.8 430.2,563.5 432.0,555.0 433.1,549.1 433.2,548.7 434.8,544.6 436.6,538.4 437.6,535.8 438.2,536.0 439.7,535.4 441.0,535.9 442.9,535.2 444.4,535.8 446.3,535.0 447.5,535.7 449.4,534.7 450.0,535.1 450.5,535.5 451.9,534.5 453.5,535.5 454.7,534.6 456.0,535.4 457.8,534.6 459.0,535.3 460.4,534.7 461.8,535.3 463.1,534.6 464.9,535.3 466.5,534.6 467.6,535.6 468.7,534.7 470.0,535.4 470.3,535.5 471.6,534.8 473.2,535.4 474.8,534.8 476.3,535.3 477.9,534.7 479.1,535.6 480.0,535.2 480.9,535.0 481.4,535.4 482.1,535.7 483.0,535.2 483.2,535.5 484.3,537.8 484.7,537.6 486.1,535.6 486.6,535.5 487.2,536.5 488.3,536.7 488.3,536.6 489.7,535.6 490.1,537.2 491.2,539.8 491.2,539.7 492.0,537.3 492.6,535.7 492.6,535.7 493.8,537.2 494.8,539.8 495.7,537.7 496.2,536.3 497.4,540.2 497.5,540.0 499.4,537.6 499.7,537.1 500.0,537.4 501.3,538.8 501.6,539.4 502.5,537.9 503.2,536.0 504.4,539.1 505.3,542.0 505.8,540.8 507.0,536.4 507.3,535.8 508.3,541.8 508.8,544.2 509.5,541.6 511.0,537.2 511.3,538.5 512.6,542.8 513.1,544.8 514.0,541.2 515.1,535.6 515.2,535.8 516.9,542.5 517.1,541.5 518.1,535.3 518.9,538.4 519.6,541.6 520.7,539.7 521.6,537.5 522.2,540.9 523.3,548.3 523.6,547.1 525.1,538.7 525.6,536.8 527.0,538.4 527.2,538.5 528.6,534.8 528.9,534.7 530.0,535.3 530.3,536.3 531.6,538.6 532.2,540.3 533.2,539.0 533.9,537.4 534.9,539.8 536.0,543.4 536.1,543.3 537.2,541.3 537.9,541.2 538.5,546.4 539.9,557.2 540.4,551.7 541.7,539.2 542.1,542.2 543.1,548.7 543.7,552.9 544.3,550.7 545.8,544.0 545.8,543.9 547.4,555.8 547.6,554.9 548.0,552.7 548.9,548.1 549.6,544.7 549.9,546.7 551.0,553.2 551.3,552.0 552.4,547.4 552.7,548.6 554.2,554.8 554.5,556.1 555.5,553.8 556.6,550.1 557.0,552.6 558.5,564.0 558.9,560.7 560.0,549.0 560.3,546.6 561.5,580.6 561.7,578.9 563.4,551.2 563.4,550.7 564.0,556.0 564.7,562.5 565.7,570.6 566.3,564.9 567.7,554.8 567.8,554.0 569.1,565.5 569.2,566.4 570.8,549.6 570.9,550.4 572.6,567.5 572.7,566.2 574.2,549.2 574.3,548.8 575.5,561.0 576.5,570.9 577.0,565.1 577.3,562.1 578.2,551.3 578.8,556.9 580.0,568.5 580.3,571.6 581.6,558.0 582.5,548.5 583.2,556.4 584.3,567.8 584.4,565.8 585.6,545.5 585.7,546.4 587.0,551.2 587.6,547.9 589.0,541.4 589.3,543.2 590.0,548.0 590.8,553.0 591.1,550.2 592.6,539.1 592.6,539.1 594.0,540.4 594.3,541.0 595.2,538.8 596.0,535.9 596.3,535.2 596.4,535.0 598.0,536.2 599.8,535.9 599.8,535.9 601.1,541.8 602.0,545.0 602.5,556.0 603.3,573.4 604.0,574.8 604.0,574.5 604.8,568.4 605.7,579.0 606.5,590.9 606.9,586.3 608.0,571.3 608.0,571.1 609.2,584.6 609.5,587.1 611.1,573.0 611.2,572.8 612.5,587.2 612.7,589.2 613.8,581.7 614.6,577.3 615.7,581.1 616.0,581.9 616.4,586.4 617.4,586.4 618.5,596.6 619.3,571.0 620.0,548.0 621.0,547.3 621.1,548.1 622.9,563.2 623.2,565.3 624.6,547.0 624.6,547.4 626.0,560.9 626.3,563.9 627.6,548.3 627.8,546.2 629.4,578.2 629.7,582.7 630.5,568.2 631.8,545.9 632.4,554.5 633.6,572.2 633.8,576.1 634.7,561.0 635.2,550.7 636.3,555.7 637.4,562.1 638.0,558.0 639.6,545.5 639.7,544.9 640.0,551.3 641.4,577.7 641.4,578.4 643.2,547.3 643.5,542.6 645.0,562.3 645.2,563.9 646.8,542.3 646.9,544.8 648.2,562.6 648.3,564.5 649.3,548.4 649.6,543.6 651.0,549.2 651.3,549.8 652.8,543.0 652.8,543.1 654.1,547.4 654.6,548.4 655.3,546.3 656.5,544.1 656.8,543.2 657.9,544.3 658.0,544.4 659.1,545.7 659.2,545.1 660.6,538.3 660.9,538.3 662.3,539.3 662.6,539.1 663.0,538.2 663.8,536.7 664.0,536.5 665.4,536.9 666.8,536.3 668.5,536.7 670.2,535.9 671.5,536.6 672.6,535.5 673.8,536.1 675.0,535.3 677.0,535.7 678.5,535.1 678.5,535.1 680.2,535.6 681.7,535.1 683.5,535.7 685.4,535.1 686.7,535.8 688.2,535.2 689.8,535.6 691.5,535.0 693.3,535.8 693.8,535.5 694.7,535.0 696.1,535.6 697.2,534.4 698.3,535.0 699.6,534.1 701.1,534.7 702.9,533.8 704.4,534.3 706.1,533.2 707.7,533.7 709.1,533.0 710.9,533.4 712.6,532.5 714.0,533.0 715.4,532.2 715.6,532.1 717.1,532.8 718.3,532.1 719.7,532.7 721.5,532.1 722.7,532.6 724.0,531.9 725.2,532.6 726.4,531.8 727.7,532.3 728.1,532.6 730.1,532.7 731.4,533.8 733.2,533.2 734.7,534.3 736.3,534.3 737.5,535.1 738.6,534.7 740.0,535.7 740.4,535.9 741.9,535.2 743.3,536.0 744.9,535.6 746.6,536.7 748.1,535.9 749.8,536.9 751.1,536.2 752.9,537.4 753.8,536.9 754.6,536.4 756.2,536.9 757.7,536.0 759.3,536.1 760.7,535.2 762.4,535.7 763.7,534.8 765.2,535.2 766.2,534.4 766.6,534.2 768.5,534.9 770.1,534.3 771.5,535.2 773.4,534.7 775.0,535.2 776.7,534.5 778.2,535.3 779.8,534.8 781.5,535.6 783.1,534.8 784.7,535.7 786.2,535.3 786.6,535.2 788.2,536.0 790.0,535.6 791.9,536.4 793.0,535.9 794.4,536.5 795.8,536.2 797.5,537.0 798.8,536.6 800.0,537.3 800.5,538.0 802.0,538.8 803.0,540.1 803.8,542.2 804.3,543.1 805.1,543.7 806.2,545.5 806.2,545.6 806.8,548.3 807.8,552.1 808.4,552.3 808.9,552.9 810.0,557.5 810.4,559.0 810.8,559.6 811.9,545.2 812.3,540.6 812.5,538.3 813.5,542.1 814.0,543.5 815.3,543.3 815.9,543.8 816.6,547.8 817.0,549.4 817.7,550.2 817.8,549.7 819.0,545.5 819.2,545.7 820.4,546.1 820.9,546.8 821.7,544.2 822.1,542.7 822.9,543.2 823.4,543.8 824.0,541.7 824.6,539.5 824.6,539.7 825.8,541.6 825.9,541.0 827.1,536.8 827.4,537.4 828.4,538.7 829.0,535.2 829.2,534.3 829.6,536.7 830.4,546.5 830.7,550.2 831.8,556.3 832.2,560.8 832.3,561.8 833.3,554.8 834.0,547.7 834.0,547.7 834.8,546.8 835.8,548.2 835.9,548.6 837.0,548.0" fill="none" stroke="#000000" stroke-width="1.3" stroke-linejoin="round" clip-path="url(#cl)"/>
<line x1="97.9" y1="94.0" x2="97.9" y2="597.0" stroke="#000" stroke-width="1.2"/>
<line x1="288.5" y1="58.1" x2="288.5" y2="453.8" stroke="#000" stroke-width="1.2"/>
<line x1="299.5" y1="53.2" x2="299.5" y2="453.8" stroke="#000" stroke-width="1.2"/>
<line x1="418.2" y1="64.9" x2="418.2" y2="596.0" stroke="#000" stroke-width="1.2"/>
<line x1="704.0" y1="68.3" x2="704.0" y2="432.2" stroke="#000" stroke-width="1.2"/>
<polygon points="272.1,47.1 284.6,57.4 278,61.5" fill="#000"/>
<line x1="281.5" y1="59.4" x2="288.3" y2="68.4" stroke="#000" stroke-width="1"/>
<polygon points="299.5,56 315.5,54.2 301.5,63" fill="#000"/>
<rect x="38.7" y="6.8" width="799.3" height="591.0" fill="none" stroke="#000" stroke-width="2.4"/>
<line x1="154.6" y1="586.8" x2="154.6" y2="597.8" stroke="#000" stroke-width="1.8"/>
<line x1="270.5" y1="586.8" x2="270.5" y2="597.8" stroke="#000" stroke-width="1.8"/>
<line x1="386.4" y1="586.8" x2="386.4" y2="597.8" stroke="#000" stroke-width="1.8"/>
<line x1="502.3" y1="586.8" x2="502.3" y2="597.8" stroke="#000" stroke-width="1.8"/>
<line x1="618.2" y1="586.8" x2="618.2" y2="597.8" stroke="#000" stroke-width="1.8"/>
<line x1="734.1" y1="586.8" x2="734.1" y2="597.8" stroke="#000" stroke-width="1.8"/>
<text x="37.7" y="638.5" font-size="35.0" text-anchor="middle">4000</text>
<text x="153.6" y="638.5" font-size="35.0" text-anchor="middle">3500</text>
<text x="269.5" y="638.5" font-size="35.0" text-anchor="middle">3000</text>
<text x="385.4" y="638.5" font-size="35.0" text-anchor="middle">2500</text>
<text x="501.3" y="638.5" font-size="35.0" text-anchor="middle">2000</text>
<text x="617.2" y="638.5" font-size="35.0" text-anchor="middle">1500</text>
<text x="733.1" y="638.5" font-size="35.0" text-anchor="middle">1000</text>
<text x="262.6" y="704" font-size="48">Wavenumber/cm<tspan font-size="27.5" dx="3.3" dy="-26.5">-1</tspan></text>
<text x="54.9" y="44.0" font-size="37.0">EP</text>
<text x="56.4" y="92.8" font-size="34.0">3735</text>
<text x="222.6" y="44.3" font-size="34.0">2918</text>
<text x="321.7" y="68.3" font-size="34.0">2879</text>
<text x="413.5" y="65.7" font-size="34.0">2357</text>
<text x="655.6" y="47.3" font-size="34.0">1140</text>
<text x="160.1" y="88.3" font-size="34.0">600<tspan font-size="21.8" dy="-18.7">o</tspan><tspan dy="18.7">C</tspan></text>
<text x="161.0" y="160.0" font-size="34.0">500<tspan font-size="21.8" dy="-18.7">o</tspan><tspan dy="18.7">C</tspan></text>
<text x="155.7" y="253.3" font-size="34.0">400<tspan font-size="21.8" dy="-18.7">o</tspan><tspan dy="18.7">C</tspan></text>
<text x="158.3" y="335.0" font-size="34.0">300<tspan font-size="21.8" dy="-18.7">o</tspan><tspan dy="18.7">C</tspan></text>
<text x="168.4" y="429.9" font-size="34.0">200<tspan font-size="21.8" dy="-18.7">o</tspan><tspan dy="18.7">C</tspan></text>
<text x="179.3" y="495.9" font-size="34.0">100<tspan font-size="21.8" dy="-18.7">o</tspan><tspan dy="18.7">C</tspan></text>
<text x="199.8" y="564.2" font-size="34.0">30<tspan font-size="21.8" dy="-18.7">o</tspan><tspan dy="18.7">C</tspan></text>
<path d="M941.0,55.1 942.1,56.2 943.6,55.7 945.4,56.7 946.9,56.2 948.0,57.2 949.4,56.6 951.3,57.7 952.0,57.6 952.7,57.6 954.2,58.6 955.0,58.4 956.0,59.4 956.8,60.8 957.4,60.6 958.5,59.3 959.0,59.8 960.1,62.5 960.4,62.7 961.2,61.4 962.0,61.1 962.1,61.0 962.5,61.3 963.8,61.4 964.2,61.7 965.4,59.9 965.7,59.3 967.1,61.8 967.8,63.4 968.6,61.0 969.1,59.4 969.9,60.1 970.0,60.3 971.3,63.0 971.3,63.0 972.7,58.9 973.2,58.1 973.9,60.8 974.4,62.2 975.5,58.3 975.7,57.9 977.1,60.5 977.2,60.6 978.7,58.3 978.9,58.2 979.9,60.7 981.0,62.0 981.7,60.3 982.9,58.8 983.0,59.1 984.8,61.7 984.9,61.5 986.3,59.5 986.9,60.7 988.0,62.1 988.6,63.3 989.7,60.8 990.6,58.1 990.9,58.5 992.1,61.5 992.3,61.2 993.4,58.6 993.5,58.7 995.0,61.3 995.0,61.3 995.1,61.2 996.4,59.5 996.6,59.4 998.2,61.4 999.4,61.5 999.6,61.7 1001.1,65.7 1002.8,68.8 1003.0,69.3 1003.9,68.1 1005.0,65.5 1006.5,63.5 1006.6,63.3 1007.7,62.3 1008.0,62.4 1008.9,63.3 1009.4,63.3 1010.9,61.4 1011.2,61.4 1012.0,62.2 1012.8,62.3 1013.9,61.1 1014.7,60.6 1015.0,61.0 1015.6,62.0 1016.2,62.4 1017.1,61.2 1017.8,61.0 1018.6,62.1 1019.6,62.4 1019.8,62.6 1021.3,59.9 1021.4,60.8 1022.6,67.0 1022.9,65.3 1024.0,60.6 1024.3,61.5 1025.5,63.4 1025.7,63.9 1026.6,62.7 1027.7,59.7 1028.3,60.8 1029.6,64.2 1030.2,63.0 1031.2,59.8 1031.6,61.7 1032.7,70.0 1033.1,68.6 1034.8,59.8 1034.9,59.9 1036.7,64.0 1037.0,64.3 1038.5,60.8 1038.6,60.6 1039.9,62.8 1040.0,62.9 1040.5,63.1 1041.7,60.9 1042.8,60.0 1043.5,63.2 1044.3,65.9 1044.9,63.2 1045.8,60.3 1046.0,60.7 1047.1,62.3 1047.5,61.8 1048.8,60.6 1049.0,60.4 1050.5,62.3 1050.8,63.1 1052.4,61.4 1052.5,61.1 1053.7,61.2 1054.3,62.0 1055.3,61.5 1056.4,59.6 1056.7,59.4 1057.8,60.2 1058.3,60.4 1060.0,59.5 1060.0,59.5 1061.1,60.5 1062.8,60.0 1064.2,60.6 1065.5,60.2 1066.6,60.9 1068.5,60.4 1070.0,61.4 1071.5,60.5 1073.2,61.7 1074.3,60.9 1076.0,61.6 1077.9,61.4 1079.4,62.0 1080.9,61.5 1082.0,62.5 1083.4,61.7 1085.0,62.5 1086.3,61.9 1087.8,62.8 1088.0,62.7 1089.5,62.4 1090.6,63.1 1091.7,62.7 1093.4,63.5 1095.3,63.0 1096.4,64.1 1098.3,63.6 1100.1,64.4 1101.6,63.7 1102.9,64.8 1104.8,64.2 1106.2,65.4 1108.0,64.7 1109.2,65.6 1110.6,65.2 1111.7,65.9 1112.9,65.4 1114.6,66.2 1115.8,65.7 1117.3,66.7 1118.8,65.9 1120.7,67.1 1121.5,66.8 1122.0,66.5 1123.8,66.8 1125.4,65.7 1126.7,66.2 1128.3,65.1 1129.9,65.6 1131.1,64.7 1133.1,65.1 1134.9,64.0 1136.0,64.2 1137.4,63.3 1138.6,63.8 1139.7,63.0 1141.4,63.3 1143.0,62.3 1144.5,62.5 1145.8,61.6 1146.0,61.6 1147.6,62.1 1148.8,61.4 1150.4,62.3 1151.6,61.4 1152.9,62.2 1154.3,61.2 1156.2,61.9 1157.8,61.1 1159.7,61.8 1161.0,61.2 1162.9,61.5 1164.0,60.9 1165.5,61.6 1166.8,60.7 1167.9,61.4 1169.6,60.9 1170.9,61.4 1172.6,60.7 1173.7,61.2 1175.5,60.5 1176.6,61.2 1178.2,60.2 1178.3,60.3 1180.1,61.6 1181.5,61.0 1182.8,62.0 1184.2,61.5 1186.1,62.8 1187.5,62.5 1188.9,63.4 1190.3,63.2 1190.5,63.4 1191.8,63.6 1193.3,62.3 1194.9,62.6 1196.6,61.4 1197.9,61.7 1199.5,60.8 1200.0,60.9 1201.0,61.4 1202.6,60.2 1203.8,60.9 1205.5,60.1 1206.6,60.6 1208.5,59.8 1210.1,60.0 1211.8,59.1 1213.1,59.7 1214.8,58.8 1216.6,59.3 1217.9,58.3 1218.9,58.7 1219.6,59.1 1221.1,58.3 1222.8,59.3 1224.2,58.3 1225.9,59.3 1227.7,58.4 1229.5,59.4 1231.1,58.6 1232.8,59.4 1234.3,58.7 1235.4,59.5 1237.4,58.8 1238.6,59.3 1240.0,58.8 1241.9,59.3 1243.3,59.0 1244.9,59.7 1246.1,59.0 1247.6,59.6 1249.4,59.1 1250.6,59.6 1251.8,59.1 1253.5,59.8 1254.8,59.2 1256.1,59.7 1257.8,59.2 1259.4,60.0 1260.0,59.7 1260.8,59.3 1262.7,60.1 1264.0,59.2 1266.0,60.0 1267.2,59.5 1269.1,60.2 1270.5,59.4 1272.0,60.0 1274.0,59.4 1275.2,60.0 1276.7,59.5 1278.5,60.3 1280.1,59.7 1281.3,60.2 1282.5,59.5 1284.1,60.4 1286.0,59.8 1287.5,60.3 1289.3,60.0 1291.1,60.7 1292.8,60.0 1294.1,60.7 1295.3,59.9 1296.8,60.8 1298.3,59.8 1299.7,60.8 1301.1,59.9 1302.2,60.9 1303.4,60.1 1305.0,60.7 1306.8,60.2 1308.1,60.7 1309.4,60.2 1311.1,60.9 1312.8,60.4 1314.2,61.0 1316.1,60.2 1317.8,60.9 1319.1,60.3 1320.4,61.2 1320.8,61.0 1321.9,69.9 1323.0,80.2 1323.8,99.3 1325.0,127.3 1326.0,150.1 1326.4,154.0 1327.9,169.4 1329.2,184.0 1329.4,185.6 1330.9,173.4 1332.1,164.5 1333.5,153.0 1334.0,149.2 1335.0,140.2 1336.4,126.5 1337.5,116.5 1338.6,105.2 1339.6,96.5 1340.3,93.0 1341.7,84.8 1343.3,77.1 1344.6,70.0 1345.3,66.5 1345.7,66.4 1346.9,64.6 1348.3,64.4 1349.9,62.2 1351.7,61.6 1352.4,60.7 1353.1,60.3 1354.1,60.9 1355.8,59.9 1357.0,60.5 1357.6,60.8 1359.2,60.3 1360.5,60.8 1362.1,60.3 1363.5,61.0 1365.3,60.2 1366.9,60.9 1368.6,60.2 1370.2,61.1 1371.7,60.6 1373.4,61.4 1374.9,60.5 1376.7,61.2 1378.6,60.6 1379.8,61.3 1381.1,60.7 1382.8,61.5 1384.7,60.9 1386.1,61.5 1388.0,61.1 1389.9,61.8 1391.5,61.0 1392.8,62.0 1394.7,61.0 1396.3,61.8 1398.1,61.3 1399.9,61.9 1400.7,61.6 1401.5,61.2 1402.7,62.0 1403.8,61.4 1405.0,62.0 1406.9,61.0 1408.3,61.8 1410.0,61.0 1411.6,61.7 1412.6,60.9 1414.1,61.3 1415.5,60.6 1416.7,61.3 1418.0,60.5 1419.3,61.3 1420.4,60.4 1421.6,61.3 1422.5,60.7 1423.2,60.4 1424.6,61.3 1426.3,60.6 1428.0,61.5 1430.0,60.8 1430.0,60.8 1431.2,62.0 1431.8,62.1 1433.1,61.3 1433.2,61.4 1435.0,64.3 1435.1,64.2 1436.6,61.8 1436.6,61.8 1437.8,63.4 1438.5,63.2 1439.6,61.9 1439.7,61.9 1441.4,64.7 1441.4,64.7 1443.0,62.5 1443.2,62.5 1444.3,64.6 1444.5,64.7 1445.5,63.2 1446.2,62.8 1446.9,64.8 1447.4,65.8 1448.3,64.3 1449.2,63.5 1450.0,65.7 1450.5,66.9 1451.3,64.4 1451.8,63.0 1452.7,65.2 1453.1,65.8 1453.8,63.8 1454.2,63.1 1455.6,66.7 1455.7,66.4 1456.7,63.8 1457.5,65.1 1458.6,67.6 1459.3,66.4 1460.0,64.8 1460.2,64.3 1461.0,64.7 1461.8,65.5 1462.9,64.2 1462.9,64.2 1464.6,67.0 1464.7,67.2 1466.2,65.6 1466.7,64.4 1467.2,65.0 1468.3,67.2 1468.6,67.0 1469.7,64.7 1470.0,64.4 1471.4,66.1 1471.9,66.3 1472.8,65.3 1473.5,65.3 1473.9,66.2 1475.3,68.0 1475.8,67.3 1477.0,66.0 1477.3,66.4 1478.9,67.2 1479.2,66.8 1480.4,66.3 1480.6,66.2 1482.3,67.2 1482.4,67.4 1483.5,67.2 1484.2,66.3 1484.9,67.0 1485.7,68.8 1486.1,68.4 1487.1,66.3 1488.1,66.6 1488.7,67.3 1489.7,67.2 1490.3,66.8 1491.5,68.0 1492.2,69.3 1492.7,68.7 1493.6,66.3 1494.0,66.3 1495.2,67.8 1495.8,67.6 1497.0,66.0 1497.0,65.9 1498.7,66.9 1498.9,67.0 1500.0,66.3 1500.0,66.3 1501.3,67.8 1501.3,67.8 1502.6,66.8 1502.8,66.9 1503.8,68.3 1504.6,68.7 1505.0,68.0 1505.6,67.0 1505.7,66.9 1507.2,69.9 1507.4,70.0 1508.6,68.1 1508.8,68.4 1510.1,71.5 1510.2,71.6 1511.8,68.0 1512.1,67.6 1513.4,70.1 1513.7,70.5 1515.1,68.3 1515.3,68.8 1516.9,73.3 1517.0,73.6 1518.0,69.7 1518.4,68.4 1519.3,70.1 1519.7,70.7 1520.0,70.4 1521.0,69.7 1521.2,69.7 1522.3,73.4 1523.1,75.0 1523.6,73.7 1525.0,71.8 1525.2,72.6 1526.0,75.3 1526.2,76.3 1527.0,76.6 1527.5,77.4 1528.1,82.1 1528.9,87.0 1529.7,87.4 1529.8,86.2 1530.4,81.1 1531.7,76.8 1532.0,75.6 1532.2,76.0 1532.9,72.4 1533.6,69.8 1534.6,74.6 1534.7,75.3 1535.8,70.0 1536.2,70.4 1537.4,72.7 1537.7,72.2 1539.1,68.7 1539.5,69.7 1540.3,72.7 1541.0,71.0 1541.4,69.8 1542.2,70.1 1542.6,70.8 1543.4,69.9 1543.7,69.2 1544.7,71.0 1545.0,71.9 1545.2,72.4 1546.5,70.1 1546.8,69.0 1548.2,71.1 1548.7,72.2 1549.7,69.1 1550.0,68.1 1551.2,68.9 1551.3,68.8 1552.4,68.5 1552.6,68.1 1553.9,69.7 1554.1,69.2 1555.2,67.5 1555.9,69.2 1556.7,70.9 1557.1,70.0 1558.5,67.0 1558.6,67.3 1560.0,70.7 1560.0,70.7 1560.2,71.4 1561.4,66.8 1561.8,67.1 1563.1,67.1 1563.7,66.1 1564.5,65.3 1565.2,65.9 1566.4,65.6 1566.5,65.5 1567.8,64.4 1568.0,64.1 1569.1,63.3 1569.7,63.3 1570.6,63.3 1572.2,62.4 1574.0,62.3 1575.3,61.5 1577.0,61.8 1578.7,60.6 1579.0,60.6 1580.1,61.2 1581.4,60.5 1582.5,61.6 1584.2,60.9 1585.4,62.0 1587.1,61.7 1588.4,62.6 1589.6,61.9 1590.9,62.7 1592.0,62.4 1593.9,63.3 1595.0,63.0 1595.6,63.0 1596.9,64.0 1598.2,63.7 1600.1,64.9 1601.4,64.5 1603.0,65.8 1604.4,65.6 1605.5,66.7 1605.6,66.7 1607.2,67.5 1608.4,69.4 1608.8,69.2 1610.3,66.4 1611.8,64.9 1612.1,64.8 1613.8,63.2 1615.2,62.9 1616.7,61.5 1618.0,61.3 1619.4,59.9 1620.2,59.8 1620.9,60.1 1622.6,58.7 1623.8,59.3 1624.7,58.5 1624.9,58.5 1626.3,60.3 1627.4,60.7 1628.6,62.2 1628.6,62.2 1630.5,60.5 1631.8,60.6 1633.0,59.2 1633.0,59.2 1634.4,62.0 1636.1,63.2 1637.1,65.4 1638.1,66.4 1638.5,65.9 1640.4,65.3 1642.1,63.5 1642.6,63.5 1643.2,63.6 1644.5,62.4 1645.7,62.3 1646.8,61.1 1648.2,61.0 1649.4,59.5 1650.6,59.7 1651.0,59.4 1652.3,58.5 1653.5,58.6 1655.2,57.5 1656.5,57.8 1656.6,58.2 1657.9,60.5 1658.8,63.1 1659.2,63.0 1660.3,61.9 1661.9,61.4 1663.7,59.3 1664.9,59.4 1665.0,59.6 1666.9,59.4 1668.6,60.5 1670.5,60.1 1671.7,61.4 1672.9,61.0 1674.3,61.9 1675.0,61.8 1675.7,61.8 1677.2,62.9 1678.4,62.7 1679.8,63.7 1681.5,63.7 1682.6,64.6 1684.1,64.6 1685.6,65.7 1687.2,65.4 1688.3,66.5 1689.6,66.4 1690.6,67.0 1691.0,67.1 1692.5,66.7 1694.0,67.5 1695.3,67.1 1696.7,67.9 1698.2,67.3 1699.9,67.9 1700.0,67.8 1701.2,67.9 1701.3,67.8 1703.0,67.1 1703.2,67.4 1704.7,68.6 1704.8,68.4 1706.6,66.2 1706.6,66.1 1708.2,69.0 1708.5,69.9 1709.6,68.6 1710.3,67.2 1711.4,68.9 1712.1,71.0 1712.8,70.0 1713.5,67.9 1713.9,68.3 1714.9,70.8 1715.0,70.7 1715.4,70.2 1716.7,67.4 1716.7,67.5 1717.8,72.1 1717.9,71.7 1718.9,67.8 1719.2,68.7 1720.1,72.0 1720.4,71.8 1721.8,70.0 1722.0,70.3 1723.0,73.6 1723.2,73.2 1724.0,71.4 1724.7,71.3 1724.9,72.1 1726.4,80.8 1726.5,80.7 1727.7,79.3 1727.9,78.0 1728.3,78.0 1729.0,78.6 1729.6,76.3 1730.5,72.1 1731.0,71.5 1731.5,71.7 1732.2,72.7 1733.2,69.6 1733.8,67.1 1734.9,67.9 1735.3,68.6 1736.6,64.5 1736.7,64.3 1737.0,64.4 1738.3,66.0 1738.6,66.6 1739.8,65.0 1740.4,63.7 1741.1,64.3 1741.9,65.8 1742.7,65.4 1743.1,64.7 1743.9,64.5 1744.2,64.8" fill="none" stroke="#000000" stroke-width="1.3" stroke-linejoin="round" clip-path="url(#cr)"/>
<path d="M941.0,88.7 942.9,89.8 944.5,89.6 945.8,90.4 947.5,90.0 948.0,90.3 949.2,94.0 950.0,95.6 950.2,95.9 950.6,94.3 951.8,91.2 952.6,96.2 953.6,101.7 953.8,101.0 955.3,97.1 956.0,94.8 956.6,98.7 958.1,110.0 958.2,109.4 959.7,96.8 960.0,94.7 960.3,92.5 961.4,100.4 962.2,105.2 962.9,101.7 964.6,93.5 964.7,92.7 965.8,97.3 967.1,104.4 967.4,103.3 968.8,96.3 969.3,94.1 970.1,105.1 971.2,118.5 971.5,113.3 972.6,92.5 972.9,94.9 974.3,105.1 975.1,111.3 975.7,106.4 976.6,97.2 977.1,97.8 978.4,101.6 979.2,103.1 980.0,98.2 981.1,92.9 981.5,97.7 982.6,108.4 982.9,110.7 983.8,102.2 984.4,95.4 985.6,100.6 985.9,102.6 987.2,98.2 988.3,93.7 988.7,96.4 990.0,107.1 990.2,108.8 990.5,106.9 991.7,97.5 992.2,94.4 993.3,100.6 993.6,101.8 994.8,98.3 996.0,96.3 996.3,96.8 997.7,97.3 998.2,98.2 999.0,103.7 1000.8,113.3 1001.0,114.9 1002.3,133.4 1002.6,137.6 1003.8,125.4 1005.2,112.5 1005.4,112.0 1006.8,106.8 1007.8,104.0 1008.0,103.4 1009.6,104.3 1010.2,105.2 1011.5,104.0 1012.0,102.9 1012.7,103.9 1014.1,108.0 1014.2,108.2 1015.4,102.9 1015.9,101.1 1016.5,106.6 1017.7,116.2 1017.9,118.6 1018.9,109.5 1019.9,98.1 1020.0,98.5 1020.7,102.8 1022.2,113.7 1022.3,114.8 1024.0,101.3 1024.3,99.2 1025.3,107.9 1026.3,115.6 1027.2,108.5 1028.6,98.9 1028.7,99.7 1029.9,107.2 1030.6,112.6 1031.7,106.6 1032.9,98.2 1033.4,103.4 1034.6,116.4 1034.9,113.9 1036.1,103.5 1036.8,98.4 1037.3,102.8 1038.7,112.7 1039.1,109.8 1040.5,101.1 1040.6,101.7 1042.0,111.3 1043.0,118.2 1043.5,115.0 1045.3,100.3 1045.6,98.7 1046.9,107.5 1048.1,114.0 1048.8,108.6 1049.7,102.0 1050.0,102.7 1050.3,103.3 1051.7,104.6 1052.2,105.9 1052.7,104.9 1053.9,101.0 1054.3,102.1 1055.7,108.1 1056.2,104.7 1057.1,97.5 1057.6,100.5 1059.3,112.0 1059.4,111.7 1061.1,101.7 1061.9,98.0 1062.9,99.3 1063.3,99.4 1064.3,97.7 1064.8,97.4 1065.4,97.6 1066.5,97.1 1067.7,98.4 1068.9,97.8 1070.4,99.0 1072.2,98.8 1074.1,100.1 1075.5,99.8 1076.8,101.0 1078.5,100.6 1080.3,102.1 1081.6,101.5 1083.1,102.6 1084.1,102.3 1085.5,103.3 1087.0,103.2 1088.0,104.0 1088.3,104.3 1089.9,104.0 1091.8,105.4 1093.1,104.8 1094.5,106.2 1095.6,105.7 1097.5,106.9 1099.1,106.7 1100.3,107.9 1101.4,107.4 1102.8,108.5 1104.5,108.0 1106.3,109.4 1108.1,109.3 1109.2,110.4 1111.1,110.0 1112.5,111.1 1113.8,111.0 1114.9,111.9 1116.8,111.5 1118.3,112.9 1119.8,112.4 1121.5,113.9 1121.5,113.9 1123.3,112.3 1124.8,112.3 1126.3,111.2 1127.5,111.3 1128.9,110.3 1130.5,110.2 1132.5,108.7 1134.0,108.9 1135.4,107.8 1137.3,107.8 1139.0,106.3 1140.1,106.6 1141.3,105.5 1142.9,105.4 1144.2,104.2 1145.7,104.6 1145.9,104.4 1146.8,103.9 1148.7,104.6 1150.4,104.0 1151.6,105.0 1153.1,104.1 1154.3,105.0 1155.8,104.6 1157.6,105.2 1158.8,104.8 1160.1,105.7 1161.9,104.9 1163.3,105.6 1165.1,105.4 1166.4,106.0 1168.2,105.6 1169.3,106.5 1170.0,105.9 1170.4,106.2 1171.5,109.0 1172.8,110.5 1174.0,113.2 1174.6,112.7 1176.2,110.1 1177.4,109.0 1178.0,108.0 1179.2,108.4 1180.2,110.1 1182.1,111.1 1183.0,112.2 1183.3,112.5 1185.1,113.8 1186.8,116.0 1188.5,117.2 1188.5,117.3 1190.0,115.3 1191.9,111.3 1193.8,108.6 1194.0,108.2 1195.7,105.8 1197.7,104.5 1199.0,102.6 1200.0,102.0 1200.8,102.0 1202.6,100.8 1203.6,101.0 1204.7,100.2 1206.6,100.2 1208.4,98.7 1209.8,99.2 1210.8,98.3 1211.4,98.0 1212.6,98.9 1213.7,98.1 1215.4,98.9 1217.2,98.2 1218.5,98.9 1219.6,98.0 1221.0,98.8 1222.3,98.1 1223.5,98.8 1224.6,98.4 1226.2,99.1 1227.3,98.3 1228.6,98.9 1230.0,98.4 1231.4,98.9 1232.5,98.4 1234.4,99.1 1236.4,98.2 1238.1,99.0 1239.2,98.2 1240.9,99.2 1242.1,98.3 1243.6,99.0 1244.8,98.3 1246.4,99.0 1247.6,98.4 1248.9,99.2 1250.1,98.6 1251.6,99.2 1252.8,98.7 1254.3,99.1 1255.4,98.6 1256.5,99.4 1258.2,98.5 1260.0,99.2 1260.1,99.2 1261.5,98.7 1262.7,99.5 1263.8,98.5 1265.4,99.6 1266.5,98.6 1268.4,99.5 1270.0,98.7 1271.5,99.6 1273.1,98.7 1274.5,99.5 1276.0,98.6 1277.8,99.5 1279.5,98.9 1281.0,99.6 1282.7,99.0 1283.9,99.5 1285.5,99.0 1287.0,99.8 1288.5,99.0 1290.0,99.6 1291.5,99.1 1293.2,99.6 1295.1,99.0 1296.8,99.9 1298.7,99.2 1300.6,99.6 1302.5,98.9 1303.8,99.8 1305.3,99.1 1306.9,99.8 1308.6,99.0 1309.6,99.9 1311.3,99.0 1312.8,99.9 1314.0,99.3 1315.0,99.5 1315.9,123.5 1316.5,140.1 1317.7,214.3 1318.0,229.9 1319.1,248.6 1320.0,261.8 1320.2,260.4 1322.0,250.4 1322.0,250.3 1323.2,258.3 1324.3,266.4 1325.1,260.3 1326.7,246.6 1327.0,244.7 1328.0,248.9 1329.7,253.8 1330.0,254.9 1331.0,239.7 1332.2,219.1 1333.7,196.5 1334.0,191.3 1335.5,168.7 1337.1,146.2 1338.3,129.0 1339.6,110.2 1339.7,110.2 1341.1,108.0 1342.5,107.2 1344.0,104.7 1345.0,104.2 1345.1,104.2 1346.4,103.0 1347.5,103.3 1348.9,102.0 1350.1,101.9 1351.7,100.3 1352.0,100.5 1352.9,101.2 1354.7,100.2 1356.3,100.8 1357.5,100.3 1359.4,100.9 1360.9,100.0 1362.3,100.7 1363.5,99.8 1364.7,100.6 1366.3,99.6 1367.9,100.3 1369.7,99.7 1371.2,100.4 1372.2,100.0 1373.2,99.7 1374.6,100.2 1376.4,99.6 1378.3,100.5 1379.7,99.5 1381.4,100.2 1382.7,99.8 1384.5,100.4 1385.8,99.7 1387.8,100.3 1389.5,99.9 1391.2,100.6 1393.0,99.8 1394.1,100.7 1395.3,99.8 1397.2,100.5 1398.7,99.9 1400.0,100.5 1400.3,100.6 1401.7,99.9 1403.4,100.8 1405.0,100.2 1405.1,100.2 1406.7,102.4 1406.9,102.4 1408.0,101.4 1408.7,101.4 1409.8,103.0 1410.6,103.7 1410.9,103.2 1412.8,102.7 1412.8,102.7 1414.0,103.4 1414.2,103.7 1415.2,103.4 1416.3,101.5 1416.3,101.5 1418.0,104.8 1418.5,105.4 1419.6,103.5 1420.5,102.8 1421.1,103.9 1421.9,104.6 1422.5,103.5 1423.4,102.9 1424.1,103.8 1425.4,104.3 1425.8,103.8 1427.5,103.3 1427.6,103.4 1429.0,105.3 1429.0,105.3 1430.4,104.6 1431.3,103.2 1431.8,104.1 1433.1,108.0 1433.2,108.1 1434.7,104.2 1435.0,103.8 1435.4,103.3 1436.2,103.7 1437.0,103.3 1437.4,105.7 1438.9,115.4 1439.2,117.0 1440.0,111.5 1440.4,108.8 1441.0,105.3 1442.0,113.4 1442.6,117.4 1443.4,111.7 1444.4,105.3 1445.3,112.3 1446.4,119.7 1446.7,118.2 1448.2,110.4 1448.5,109.1 1450.1,114.8 1450.6,117.2 1451.4,114.1 1452.5,108.1 1452.7,107.4 1453.0,107.4 1454.1,113.3 1454.6,115.3 1455.0,113.8 1455.5,112.1 1456.5,110.0 1456.8,111.6 1458.4,118.7 1458.6,117.7 1459.9,113.3 1460.2,112.2 1461.5,119.3 1461.8,121.2 1462.7,116.0 1463.5,110.3 1464.3,114.0 1465.4,120.2 1465.5,119.7 1466.7,110.2 1466.9,112.2 1468.7,130.5 1468.8,129.7 1470.3,116.4 1470.6,113.7 1471.9,117.8 1472.2,118.5 1473.2,114.5 1473.9,111.7 1474.7,121.6 1475.4,129.3 1476.6,114.4 1476.9,110.6 1478.3,131.3 1478.5,134.2 1479.7,111.5 1480.0,113.2 1480.1,113.8 1481.3,122.2 1481.8,118.7 1482.9,110.7 1483.0,111.1 1484.9,125.4 1485.1,127.2 1486.2,117.7 1487.1,110.8 1488.1,121.5 1488.8,128.7 1489.1,125.7 1490.7,113.8 1490.9,111.5 1492.5,123.7 1492.6,124.6 1493.7,118.1 1494.7,110.2 1495.0,110.0 1495.5,111.1 1497.4,117.4 1498.0,118.9 1499.0,117.1 1500.1,116.9 1501.1,114.8 1502.7,113.6 1504.1,111.3 1505.4,110.5 1506.2,109.0 1506.5,108.9 1508.1,110.0 1509.2,109.6 1509.4,109.7 1511.0,125.3 1511.1,125.8 1512.4,134.0 1512.8,132.2 1514.1,126.7 1514.7,129.8 1515.0,131.0 1515.6,134.9 1516.5,131.4 1517.0,129.9 1518.3,139.4 1518.3,139.7 1519.7,134.2 1520.0,134.5 1520.1,137.6 1522.0,178.0 1522.2,181.9 1523.4,141.8 1523.9,124.9 1525.0,124.5 1525.2,124.8 1526.8,125.6 1526.8,125.5 1527.9,124.2 1528.1,123.7 1529.0,131.9 1529.6,138.2 1530.0,134.6 1530.2,132.6 1531.4,121.1 1531.4,121.0 1533.2,136.3 1533.6,139.6 1534.3,129.2 1535.2,119.3 1535.4,122.0 1537.1,137.1 1537.1,136.6 1538.7,123.0 1538.9,121.3 1539.9,127.6 1540.6,133.1 1541.2,127.8 1542.1,118.4 1542.6,121.5 1543.7,128.8 1544.4,125.1 1545.0,121.2 1545.3,119.1 1545.8,120.9 1546.7,125.5 1547.0,124.6 1548.2,118.6 1548.4,118.8 1550.0,122.3 1550.2,121.9 1552.1,116.8 1552.2,117.0 1553.7,123.1 1554.2,124.6 1555.5,117.3 1556.2,113.8 1556.5,117.7 1557.6,129.3 1558.2,124.1 1559.7,112.5 1560.0,113.0 1560.0,113.1 1561.8,115.1 1561.8,115.1 1563.4,111.3 1563.5,111.3 1564.8,110.9 1564.8,110.8 1565.0,110.5 1565.9,110.4 1567.2,108.5 1568.5,108.1 1570.0,105.9 1571.1,105.8 1572.9,103.4 1574.0,103.3 1575.3,101.7 1576.0,104.7 1577.3,112.3 1577.5,113.1 1578.7,112.1 1580.5,111.9 1582.5,110.7 1584.3,110.8 1585.0,110.2 1586.2,111.0 1587.4,112.9 1588.6,113.7 1589.7,115.5 1591.1,116.6 1592.4,118.7 1593.7,119.2 1595.0,121.3 1596.4,122.1 1597.5,124.2 1598.6,124.4 1598.9,124.9 1600.2,122.4 1601.7,117.5 1603.3,113.8 1604.6,109.8 1605.8,107.3 1606.5,105.0 1606.9,104.5 1608.7,104.1 1610.5,102.7 1612.0,102.4 1613.3,101.1 1614.8,101.0 1615.3,100.4 1616.0,100.2 1618.0,101.4 1619.1,101.0 1621.0,102.4 1622.0,102.3 1622.5,103.0 1623.9,106.5 1624.9,108.1 1626.5,111.9 1628.3,114.8 1628.4,115.0 1629.6,113.2 1630.8,110.2 1632.5,107.5 1634.1,103.6 1634.2,103.4 1635.7,103.0 1637.4,101.2 1638.5,101.0 1640.2,98.8 1641.8,98.3 1643.6,96.2 1645.4,95.7 1645.5,95.4 1646.7,97.8 1648.1,102.3 1649.3,105.0 1649.9,103.7 1651.5,101.8 1652.7,99.1 1653.1,98.6 1654.0,99.5 1655.6,99.6 1657.3,100.9 1658.0,100.9 1658.8,101.2 1660.0,103.1 1661.4,103.8 1662.6,105.3 1664.1,106.1 1665.7,108.0 1665.8,108.0 1667.1,107.4 1668.8,108.5 1670.1,108.0 1671.7,109.0 1673.4,108.6 1674.6,109.5 1675.0,109.3 1676.1,110.3 1677.2,112.9 1679.0,114.8 1680.3,117.3 1680.8,117.8 1681.7,116.7 1683.1,116.1 1684.2,114.7 1686.0,114.0 1687.9,111.6 1688.4,111.5 1689.2,112.8 1690.0,113.0 1691.0,113.8 1691.4,114.6 1692.7,116.3 1693.0,116.4 1694.2,117.7 1694.8,119.0 1695.9,119.8 1696.8,119.5 1697.1,120.3 1698.4,124.6 1698.5,124.7 1698.9,124.0 1700.0,120.4 1700.4,119.7 1701.2,121.4 1702.1,122.2 1702.3,121.5 1703.8,117.9 1703.9,117.7 1705.0,118.7 1705.5,121.0 1705.5,121.0 1707.3,124.1 1707.4,124.9 1708.7,132.6 1708.8,132.9 1709.8,133.7 1710.5,133.5 1711.2,136.9 1712.3,143.4 1712.5,144.8 1712.6,145.3 1713.8,147.5 1714.4,149.3 1715.6,158.8 1716.1,162.3 1716.8,164.5 1717.8,168.5 1718.1,162.3 1718.5,153.4 1719.4,135.0 1719.8,126.7 1719.8,126.7 1720.8,127.7 1721.6,131.3 1722.1,132.8 1723.0,133.5 1723.3,132.1 1723.5,130.8 1724.8,129.6 1725.5,128.2 1726.6,121.7 1727.7,116.5 1728.4,115.8 1728.7,115.2 1729.7,117.0 1730.1,115.2 1731.0,111.3 1731.8,112.6 1732.9,113.5 1733.2,114.1 1734.2,112.3 1734.6,111.2 1735.0,111.7 1735.5,111.7 1736.3,112.3 1736.9,110.3 1737.9,105.6 1738.5,105.8 1739.2,106.7 1739.7,105.6 1741.2,100.7 1741.4,100.3 1741.5,100.2 1743.2,100.3 1743.4,100.1 1744.5,98.9" fill="none" stroke="#ff2020" stroke-width="1.3" stroke-linejoin="round" clip-path="url(#cr)"/>
<path d="M941.8,188.6 943.0,189.3 944.7,189.4 945.9,190.3 947.8,190.0 948.0,190.2 949.5,194.7 950.0,195.8 950.2,196.3 951.2,194.0 952.4,192.7 952.6,192.2 954.0,199.0 954.3,200.7 955.5,197.3 956.0,195.6 956.8,201.6 957.5,208.8 958.2,203.5 959.2,194.1 959.5,197.1 960.0,203.7 961.0,216.0 961.1,217.0 962.9,196.6 963.2,192.8 964.6,202.4 965.0,204.9 966.2,200.6 967.4,197.3 968.0,202.3 969.3,211.2 969.8,215.0 970.6,209.4 971.7,199.8 972.1,197.1 972.9,200.1 974.4,204.3 974.4,204.3 976.1,198.0 976.9,194.6 977.5,197.8 978.5,204.7 979.2,208.1 979.6,204.2 981.1,194.2 981.4,196.0 982.9,202.4 983.0,203.1 984.0,198.1 984.5,195.4 985.6,201.7 986.7,210.1 986.9,210.9 987.8,203.4 989.1,194.3 989.5,195.1 990.0,195.5 990.7,197.0 991.4,199.7 992.2,199.3 993.6,197.3 994.1,197.8 995.2,200.2 995.7,200.6 995.9,200.5 997.2,202.9 999.0,208.0 1000.0,210.0 1000.4,214.5 1002.2,235.3 1002.2,235.7 1003.6,224.0 1005.1,212.3 1006.0,205.2 1006.9,203.6 1008.0,202.8 1008.5,203.3 1009.9,203.3 1010.0,203.3 1010.0,203.2 1011.7,200.9 1011.8,200.5 1013.4,206.2 1013.8,208.2 1014.9,203.5 1015.5,200.6 1016.2,203.2 1017.3,209.0 1017.6,208.6 1019.5,204.2 1019.5,204.1 1020.8,217.0 1021.4,221.9 1022.3,213.2 1023.5,203.5 1023.9,199.5 1024.9,214.6 1025.5,223.5 1026.0,219.0 1027.8,202.7 1027.9,202.0 1029.4,215.4 1029.5,216.3 1030.4,210.7 1031.9,204.1 1031.9,203.9 1033.5,208.7 1034.3,211.7 1035.3,207.0 1036.7,200.2 1037.2,202.5 1039.0,210.6 1039.2,209.9 1040.0,206.5 1040.6,203.9 1041.5,201.3 1042.1,204.1 1043.2,207.7 1043.8,210.2 1044.9,205.9 1045.9,200.5 1046.0,200.8 1047.9,210.8 1048.0,211.4 1049.4,204.0 1050.3,199.4 1051.2,203.1 1052.1,206.4 1052.9,203.2 1054.3,198.5 1054.8,200.3 1056.0,203.8 1056.6,202.3 1057.6,201.0 1058.1,199.6 1058.9,199.7 1060.0,201.0 1060.2,201.2 1060.9,200.6 1062.1,198.2 1062.3,198.2 1063.6,199.3 1063.6,199.3 1064.8,198.1 1065.9,198.9 1067.1,198.3 1068.2,198.9 1069.8,198.4 1071.7,199.5 1073.6,199.0 1075.2,199.8 1076.4,199.2 1077.7,199.9 1079.5,199.3 1081.0,200.1 1082.7,199.7 1083.9,200.5 1085.2,200.0 1086.6,200.8 1087.8,200.1 1088.0,200.3 1089.1,201.2 1090.8,200.9 1092.5,202.0 1093.8,201.6 1095.3,202.8 1096.9,202.5 1098.7,203.5 1100.1,203.2 1101.5,204.2 1102.8,203.9 1104.7,204.9 1105.8,204.3 1106.9,205.4 1108.5,205.1 1110.4,206.2 1112.0,205.9 1113.4,207.2 1114.9,206.6 1116.8,207.9 1118.5,207.7 1120.4,208.9 1121.5,208.6 1122.2,207.9 1123.8,208.4 1125.0,207.1 1126.1,207.5 1127.8,206.2 1129.5,206.2 1130.8,205.2 1132.3,205.1 1133.4,204.2 1135.4,204.1 1137.0,202.8 1138.1,203.2 1139.4,202.1 1141.0,202.2 1142.0,200.8 1143.1,201.2 1144.5,200.0 1145.9,200.3 1146.2,200.5 1147.6,199.8 1148.8,201.0 1149.9,200.4 1151.6,201.4 1153.3,200.9 1155.1,201.9 1156.3,201.5 1158.3,202.2 1159.5,201.9 1161.4,203.0 1163.2,202.4 1164.2,203.4 1165.5,202.6 1167.4,203.7 1169.1,203.5 1170.2,204.4 1171.7,203.9 1173.2,204.6 1174.3,204.3 1174.7,204.4 1176.5,206.4 1178.4,207.2 1179.6,208.6 1180.8,209.0 1182.0,210.2 1182.4,211.0 1183.6,212.4 1184.8,215.1 1186.7,217.6 1188.2,220.6 1188.5,221.1 1189.5,218.1 1190.7,215.9 1192.4,211.4 1193.5,209.3 1194.0,208.1 1195.3,207.0 1197.1,206.8 1198.7,205.3 1200.0,205.2 1200.3,205.1 1201.8,203.2 1203.0,203.3 1204.8,201.2 1206.6,201.1 1207.8,199.4 1208.9,199.5 1210.3,197.8 1210.8,197.6 1211.9,198.0 1213.4,197.3 1214.9,198.2 1216.2,197.6 1217.6,198.3 1219.5,197.5 1220.8,198.1 1222.6,197.6 1223.8,198.1 1225.0,197.6 1226.2,198.3 1228.1,197.6 1229.4,198.3 1230.5,197.7 1232.1,198.2 1233.4,197.6 1234.5,198.2 1235.7,197.6 1236.8,198.4 1237.9,197.6 1239.1,198.2 1240.8,197.4 1242.7,198.2 1244.3,197.6 1245.4,198.3 1247.0,197.6 1248.7,198.3 1250.1,197.4 1251.6,198.2 1253.5,197.6 1255.1,198.3 1256.9,197.5 1258.4,198.3 1260.0,197.6 1260.1,197.5 1261.7,198.5 1263.2,197.7 1264.6,198.3 1265.7,197.5 1267.3,198.3 1268.5,197.7 1270.3,198.6 1272.0,197.8 1273.5,198.6 1274.9,197.7 1276.0,198.5 1277.5,197.6 1279.4,198.6 1280.7,197.7 1282.6,198.4 1284.0,197.8 1285.4,198.5 1287.1,198.0 1288.7,198.4 1290.1,197.7 1291.2,198.5 1293.0,197.8 1294.6,198.6 1295.9,197.9 1297.4,198.7 1299.1,198.1 1300.5,198.9 1302.4,198.0 1304.1,198.9 1305.7,198.2 1306.8,198.8 1308.2,198.1 1309.2,199.0 1310.5,198.0 1312.2,198.8 1313.4,198.1 1314.7,198.7 1315.9,198.3 1316.2,198.4 1317.8,226.8 1318.0,230.2 1319.7,264.0 1320.2,274.8 1321.6,297.7 1322.9,317.8 1323.0,319.9 1324.5,323.4 1326.1,325.8 1327.3,329.0 1328.0,330.0 1329.0,324.6 1330.2,319.3 1331.3,313.0 1332.7,307.1 1333.9,300.4 1334.0,299.8 1335.2,279.7 1336.0,266.4 1336.6,258.6 1337.8,245.2 1339.8,221.7 1341.0,208.8 1341.5,202.4 1342.2,201.8 1344.1,201.8 1345.2,200.8 1346.8,201.0 1348.7,199.7 1350.1,199.9 1351.7,198.7 1352.4,198.8 1353.2,199.2 1354.5,198.4 1356.4,199.3 1358.1,198.7 1359.3,199.2 1360.9,198.5 1362.6,199.5 1364.4,198.7 1365.8,199.3 1367.6,198.7 1369.1,199.6 1371.0,199.0 1372.3,199.5 1373.9,198.9 1375.4,199.6 1376.7,198.8 1377.8,199.5 1379.4,198.7 1380.9,199.7 1382.6,198.9 1384.1,199.6 1385.2,198.8 1387.0,199.8 1388.7,199.1 1389.9,199.7 1391.4,199.0 1393.2,199.7 1394.6,199.0 1396.4,199.8 1398.0,199.0 1399.9,199.7 1400.0,199.7 1401.8,199.4 1403.4,200.1 1405.0,199.7 1405.3,199.8 1406.4,201.4 1406.5,201.5 1407.9,200.1 1408.4,200.1 1409.3,202.0 1410.1,202.9 1410.4,202.5 1411.6,201.5 1412.2,200.5 1413.6,202.8 1413.8,203.5 1414.9,202.8 1416.0,200.8 1416.0,200.8 1417.3,203.9 1417.8,204.8 1419.1,200.9 1419.3,200.6 1421.0,205.8 1421.0,205.9 1422.2,202.9 1423.0,201.3 1423.9,203.5 1425.0,205.6 1425.4,204.5 1426.5,202.1 1426.9,202.8 1428.1,203.9 1428.3,203.5 1429.5,202.2 1429.6,202.0 1431.2,203.3 1431.3,203.2 1432.8,202.1 1432.9,202.2 1434.8,203.8 1434.9,203.9 1435.0,203.8 1436.1,202.6 1436.5,202.8 1437.0,202.6 1438.4,208.4 1438.8,210.5 1439.5,208.2 1440.0,205.8 1440.3,204.4 1440.7,208.0 1441.7,217.3 1442.6,210.6 1443.0,206.5 1444.2,211.0 1444.5,212.4 1445.9,206.8 1446.1,205.6 1447.5,214.0 1447.5,213.8 1449.2,208.9 1449.5,209.3 1451.0,210.5 1451.4,211.1 1452.6,208.8 1453.0,207.4 1454.5,211.3 1455.0,213.2 1455.1,213.4 1456.1,212.5 1457.2,210.4 1458.1,214.0 1458.6,217.1 1459.1,216.1 1460.1,213.1 1460.3,214.9 1461.5,225.9 1461.6,224.9 1463.1,210.6 1463.1,210.5 1464.2,217.5 1465.1,221.8 1465.7,219.0 1467.1,213.6 1467.7,217.5 1469.1,225.3 1469.3,227.3 1470.5,220.0 1471.5,212.8 1472.4,220.6 1473.3,229.9 1473.8,227.2 1475.2,216.8 1475.4,215.5 1476.5,221.5 1476.8,222.6 1477.6,219.2 1478.6,216.0 1479.1,218.9 1480.0,223.7 1480.4,225.5 1480.8,223.1 1482.1,216.7 1482.6,213.5 1483.4,217.7 1483.9,221.1 1485.0,216.5 1485.2,215.5 1486.5,231.5 1486.6,231.1 1488.5,218.0 1488.6,216.8 1490.4,225.0 1490.7,226.8 1491.8,220.1 1492.6,213.9 1493.0,213.8 1494.5,214.9 1494.6,214.9 1495.0,213.6 1496.0,213.4 1497.3,217.4 1498.0,218.7 1498.4,217.9 1499.7,217.0 1500.9,214.5 1502.6,212.8 1504.4,209.8 1505.5,208.6 1506.2,207.4 1507.0,207.5 1508.6,209.0 1509.4,209.1 1510.4,220.8 1511.0,228.0 1511.6,233.7 1512.3,239.9 1513.4,231.3 1513.8,228.4 1514.6,231.8 1515.0,233.5 1515.6,237.4 1516.5,233.5 1516.6,233.1 1517.8,244.1 1517.9,244.9 1518.9,244.2 1519.8,244.6 1520.0,245.4 1520.1,247.1 1521.3,269.0 1522.2,287.2 1522.6,272.3 1523.9,225.9 1524.5,225.1 1525.0,224.9 1526.5,229.7 1526.7,230.2 1527.7,226.4 1528.7,223.7 1529.5,230.2 1530.0,233.7 1530.2,235.1 1530.7,231.9 1532.0,225.3 1532.4,223.0 1533.8,234.0 1533.8,233.5 1535.1,224.2 1535.5,220.1 1536.3,223.0 1537.3,227.3 1538.3,223.9 1539.4,218.5 1540.0,225.0 1540.8,234.5 1541.5,228.6 1542.3,220.9 1543.2,226.5 1544.1,232.0 1545.0,225.5 1545.1,224.9 1546.2,216.5 1546.6,219.3 1547.7,228.8 1548.2,231.9 1549.1,224.4 1549.8,218.6 1550.6,227.5 1551.1,233.4 1552.2,219.4 1552.5,216.8 1553.8,221.1 1553.9,221.1 1555.6,215.8 1555.7,216.6 1557.1,225.3 1557.5,222.3 1559.0,212.2 1559.4,213.1 1560.0,214.7 1560.7,216.9 1561.1,215.9 1562.4,212.3 1562.7,212.3 1563.9,213.3 1564.0,213.2 1565.0,210.7 1565.1,210.5 1566.2,210.2 1567.6,208.5 1569.3,207.8 1571.1,205.9 1572.3,205.4 1573.9,203.4 1575.3,202.8 1575.8,205.0 1577.4,211.1 1578.6,216.8 1578.8,217.5 1580.1,215.4 1581.6,214.1 1582.8,212.1 1583.9,211.5 1585.0,209.6 1585.8,210.5 1587.1,213.2 1588.1,214.3 1589.4,216.9 1591.0,218.5 1592.2,221.1 1593.9,222.9 1595.3,225.9 1597.1,228.2 1598.7,231.0 1598.9,231.2 1600.5,226.0 1601.6,223.3 1603.5,217.2 1605.1,213.1 1606.5,208.4 1606.5,208.3 1608.2,207.6 1609.6,205.8 1611.5,205.2 1612.8,203.5 1614.3,203.4 1615.3,202.2 1615.7,202.1 1617.0,203.2 1618.6,202.5 1620.4,204.0 1621.6,203.6 1622.0,203.9 1622.6,205.4 1623.9,206.6 1625.1,209.5 1626.1,210.8 1627.8,214.1 1628.4,214.8 1629.3,213.2 1631.0,212.0 1632.7,209.3 1634.2,208.3 1634.3,208.3 1636.2,205.7 1637.3,205.5 1638.9,203.2 1640.7,202.3 1642.4,199.8 1644.2,198.6 1645.3,197.0 1645.5,196.9 1646.8,202.2 1648.4,207.4 1649.3,211.1 1649.8,210.3 1651.4,206.3 1652.9,203.5 1653.0,203.3 1654.7,202.6 1656.6,203.5 1658.1,202.6 1659.5,203.4 1660.0,203.2 1661.4,203.8 1662.8,205.4 1664.5,206.1 1665.7,207.3 1666.2,207.7 1668.1,208.2 1669.7,209.7 1671.3,209.7 1672.7,211.2 1674.1,211.1 1676.0,212.8 1677.8,212.9 1679.6,214.6 1680.8,214.5 1680.8,214.6 1682.1,214.2 1683.7,212.6 1685.0,212.1 1687.0,210.3 1688.0,210.3 1688.2,210.6 1689.4,210.9 1690.0,211.6 1691.3,214.0 1691.7,214.4 1692.6,214.2 1693.7,214.8 1694.3,216.8 1695.7,220.0 1695.9,220.5 1697.3,219.8 1697.9,218.8 1698.4,219.6 1698.4,219.6 1699.9,222.7 1699.9,222.7 1701.0,219.8 1701.8,218.8 1702.5,219.9 1703.3,220.4 1704.4,219.2 1705.0,218.9 1705.3,219.2 1705.5,220.2 1706.6,224.1 1707.2,223.7 1708.4,223.8 1708.8,225.1 1710.2,229.1 1710.5,230.4 1711.3,230.2 1712.1,229.0 1712.3,229.5 1712.7,231.4 1713.9,238.9 1714.1,239.6 1715.5,242.5 1715.9,244.9 1717.2,253.9 1717.7,254.9 1717.8,255.0 1718.8,240.2 1719.6,231.2 1720.0,227.5 1720.7,227.7 1721.0,227.5 1722.1,222.2 1722.6,220.0 1724.0,220.3 1724.3,220.0 1725.1,216.9 1726.2,214.5 1726.4,213.8 1727.9,212.2 1728.7,211.8 1728.7,211.6 1729.6,210.2 1730.3,208.6 1730.9,208.6 1732.3,210.0 1732.5,209.8 1733.8,207.4 1734.2,207.7 1735.0,209.1 1735.3,209.3 1736.0,207.9 1737.4,203.9 1737.6,203.5 1739.2,202.9 1739.8,202.1 1740.6,199.7 1741.2,198.8 1741.2,198.7 1741.9,197.2 1742.5,194.9 1743.6,191.1 1743.9,190.0 1744.5,188.3" fill="none" stroke="#12e612" stroke-width="1.3" stroke-linejoin="round" clip-path="url(#cr)"/>
<path d="M941.8,272.7 942.9,273.7 943.9,273.4 945.3,274.2 946.5,273.8 948.0,274.9 948.2,276.2 950.0,283.8 950.1,284.3 950.2,285.1 951.3,282.5 952.8,277.3 952.8,277.2 954.5,310.6 954.5,309.7 956.5,282.3 956.7,279.3 958.4,300.6 958.9,307.1 960.0,293.7 960.3,290.6 961.2,279.2 961.9,300.6 962.9,329.1 963.2,320.8 964.4,289.6 964.7,280.8 965.6,293.6 967.1,318.5 967.2,316.5 968.4,288.4 968.7,283.0 969.7,291.5 970.9,300.5 971.4,294.8 972.7,282.1 973.0,278.7 974.3,290.8 974.8,296.8 976.2,288.5 976.5,286.5 978.0,314.9 978.4,323.2 979.0,309.8 980.3,281.8 980.5,283.5 982.4,306.4 982.8,310.8 983.6,293.7 984.3,281.2 985.5,288.8 986.4,294.3 987.2,288.5 988.0,282.7 989.1,289.0 990.0,293.0 990.0,292.8 991.0,285.9 991.9,280.2 992.9,284.2 994.0,288.0 994.3,289.3 995.1,288.0 995.8,285.8 995.9,285.8 996.4,289.1 997.7,298.7 999.3,308.4 1000.3,316.5 1000.9,319.9 1001.6,331.0 1003.0,354.0 1003.1,352.9 1005.0,318.9 1006.0,301.0 1006.4,299.6 1007.6,293.2 1008.0,291.7 1008.9,291.5 1009.4,290.8 1010.0,286.6 1010.5,285.1 1011.0,284.1 1012.2,295.4 1012.5,297.6 1014.1,288.8 1014.7,286.1 1016.0,303.2 1016.7,311.0 1017.5,300.8 1018.6,287.7 1019.3,300.1 1020.1,313.7 1021.0,300.7 1021.8,290.5 1022.4,293.6 1024.1,301.1 1024.3,302.2 1025.6,292.0 1025.9,289.5 1027.4,297.2 1028.0,300.6 1029.0,296.7 1030.2,291.7 1030.9,299.8 1032.1,314.2 1032.3,311.9 1034.2,291.5 1034.2,291.1 1035.9,312.6 1036.0,311.5 1037.1,294.4 1037.5,287.5 1039.0,304.6 1039.5,310.7 1040.0,302.3 1040.3,297.3 1041.4,280.7 1041.5,286.1 1042.7,321.0 1043.1,335.3 1044.6,298.1 1045.2,282.4 1045.9,288.4 1047.7,307.3 1047.8,307.8 1049.3,281.9 1049.5,279.0 1050.9,297.8 1051.0,299.6 1052.0,291.5 1052.7,285.9 1053.0,288.3 1054.1,294.9 1054.4,297.3 1055.5,291.1 1056.6,284.0 1056.6,284.4 1057.7,297.7 1058.3,303.7 1058.8,296.9 1060.0,283.1 1060.2,281.3 1060.6,285.9 1062.0,297.5 1062.3,300.5 1063.9,286.5 1064.6,279.9 1065.8,280.5 1067.0,282.2 1067.6,281.3 1068.8,278.7 1069.4,278.3 1071.2,279.0 1072.5,278.3 1073.5,279.1 1074.9,278.6 1076.7,279.3 1078.0,278.4 1079.9,279.4 1081.4,279.0 1082.8,279.8 1084.3,278.8 1085.4,279.5 1086.5,279.2 1088.0,280.0 1088.2,280.1 1090.0,279.4 1091.3,280.3 1092.5,279.8 1093.7,280.8 1095.2,280.2 1097.0,281.1 1098.9,280.6 1100.5,281.7 1102.1,281.0 1104.0,282.2 1106.0,281.8 1107.8,282.8 1109.5,282.4 1111.3,283.1 1112.7,282.5 1113.8,283.6 1115.0,282.9 1116.3,283.7 1117.8,283.4 1119.5,284.3 1120.8,283.9 1120.9,283.9 1122.4,284.1 1123.9,283.2 1125.6,283.6 1127.1,282.8 1128.5,283.2 1129.6,282.2 1131.5,282.5 1132.8,281.5 1134.0,282.0 1135.6,281.1 1136.8,281.5 1138.3,280.5 1139.5,281.2 1141.1,280.2 1142.5,280.7 1143.6,279.6 1145.1,279.9 1146.5,279.2 1147.9,279.3 1149.5,278.4 1151.3,279.0 1152.6,277.8 1154.0,278.5 1155.5,277.3 1156.9,278.0 1158.3,276.7 1159.5,277.4 1160.0,277.1 1160.8,276.8 1162.2,277.9 1163.7,277.6 1165.6,278.5 1167.1,278.5 1168.3,279.3 1170.2,279.4 1171.9,280.4 1172.0,280.3 1173.7,286.4 1174.8,292.1 1176.0,296.3 1177.2,301.8 1177.3,301.9 1178.8,303.0 1180.1,305.3 1181.4,306.1 1183.0,309.0 1184.4,310.2 1185.6,312.1 1187.0,313.4 1187.3,313.0 1188.8,311.5 1189.9,309.3 1191.4,308.2 1193.2,305.0 1194.3,304.0 1194.5,304.0 1195.9,302.9 1197.8,302.9 1199.0,302.0 1200.0,302.0 1200.6,301.3 1201.6,299.1 1202.7,298.3 1204.4,294.9 1206.3,292.5 1208.2,288.9 1209.3,287.8 1210.8,284.6 1211.4,284.2 1212.0,284.4 1213.3,283.0 1215.1,283.3 1216.2,282.2 1217.3,282.4 1218.3,281.4 1219.4,281.8 1220.9,280.4 1222.1,280.5 1223.2,279.4 1225.1,279.6 1226.2,278.3 1228.1,278.4 1228.5,278.1 1229.8,277.7 1231.3,278.3 1232.8,277.7 1234.7,278.3 1236.0,277.4 1237.2,278.3 1238.9,277.5 1240.3,278.3 1241.8,277.6 1242.9,278.1 1244.7,277.6 1246.6,278.2 1247.7,277.3 1249.7,278.1 1251.2,277.5 1252.4,278.0 1254.2,277.5 1255.5,278.0 1256.8,277.2 1258.0,278.0 1259.1,277.3 1260.3,278.2 1262.2,277.5 1263.6,278.2 1265.1,277.4 1267.0,278.3 1268.3,277.2 1269.3,278.2 1270.7,277.2 1271.8,277.9 1273.2,277.3 1274.9,277.9 1276.0,277.4 1277.2,278.2 1278.7,277.4 1280.0,277.9 1281.5,277.4 1283.1,277.9 1284.8,277.1 1286.5,277.8 1288.0,277.1 1289.1,278.1 1290.2,277.4 1291.3,278.1 1292.4,277.3 1294.0,278.0 1295.9,277.2 1297.0,277.9 1298.1,277.1 1299.4,278.0 1300.9,277.2 1302.4,277.8 1304.0,277.2 1305.8,278.0 1306.9,277.1 1308.3,278.1 1309.8,277.3 1311.4,277.9 1312.9,277.2 1314.4,277.9 1316.0,277.3 1316.2,282.3 1317.7,318.0 1319.0,349.9 1319.4,363.6 1321.0,420.3 1321.2,421.5 1322.8,428.6 1323.0,429.8 1324.3,400.1 1325.0,384.9 1325.5,382.0 1326.9,376.1 1328.0,369.7 1328.3,371.8 1330.0,383.4 1331.0,389.9 1331.6,375.6 1332.8,348.9 1333.0,345.2 1334.7,325.4 1336.2,310.0 1337.0,300.1 1337.7,297.2 1339.4,291.6 1341.0,284.5 1341.5,282.9 1342.5,282.7 1343.8,281.6 1345.7,281.1 1347.2,279.4 1348.9,279.3 1349.8,278.2 1350.1,278.0 1351.7,278.7 1352.9,278.0 1354.6,278.6 1355.7,277.9 1357.7,278.8 1359.4,277.9 1360.8,278.8 1362.3,277.8 1363.5,278.9 1364.6,278.1 1366.2,278.9 1368.0,277.9 1369.7,278.8 1371.0,278.2 1372.6,278.6 1374.0,277.9 1376.0,278.6 1377.8,278.1 1379.4,278.8 1381.0,278.0 1382.9,278.6 1384.7,277.8 1386.5,278.5 1387.9,278.1 1389.2,278.6 1390.4,278.0 1392.2,278.7 1393.5,278.1 1394.7,278.8 1396.0,277.9 1397.2,278.7 1398.3,278.0 1399.8,278.7 1400.0,278.5 1401.0,280.2 1401.3,281.1 1402.9,279.1 1402.9,279.1 1404.0,282.9 1404.8,286.3 1405.4,283.8 1406.2,279.3 1406.5,280.5 1407.3,284.6 1408.0,282.7 1409.0,278.9 1409.2,280.2 1410.3,287.0 1410.7,285.6 1411.8,279.7 1411.9,279.9 1413.1,284.0 1413.6,285.4 1415.0,279.8 1415.0,279.8 1416.1,285.3 1416.7,283.6 1417.3,281.3 1418.3,287.8 1418.5,288.8 1419.6,282.5 1419.7,281.3 1420.9,284.6 1421.4,286.6 1422.4,284.2 1423.3,281.2 1423.7,281.8 1424.8,284.3 1425.5,282.9 1426.2,280.7 1427.0,286.5 1427.7,291.6 1428.7,286.1 1429.5,280.1 1429.9,282.2 1431.2,292.2 1431.5,290.3 1432.7,280.5 1432.8,280.6 1434.5,288.4 1434.6,288.5 1435.8,284.4 1436.5,282.8 1437.0,284.8 1438.3,289.2 1438.9,284.8 1439.4,281.8 1440.3,282.6 1440.7,282.6 1441.6,281.3 1442.2,282.2 1443.8,286.6 1445.0,289.0 1445.5,291.3 1446.1,294.9 1447.3,297.2 1447.8,297.6 1448.8,306.2 1449.3,311.7 1450.5,309.0 1451.3,305.9 1451.6,312.1 1452.3,325.9 1452.9,336.4 1453.4,327.2 1454.0,314.0 1454.4,324.7 1455.2,344.8 1456.3,326.1 1457.1,312.3 1457.7,317.3 1458.8,328.8 1458.9,329.7 1460.4,306.5 1460.4,306.3 1461.7,315.1 1462.3,318.4 1463.1,313.2 1463.5,310.8 1464.5,327.1 1465.2,337.3 1466.0,325.0 1467.2,306.4 1467.6,312.3 1468.9,328.8 1469.0,329.1 1470.8,301.3 1470.9,302.1 1471.3,311.4 1472.3,331.3 1472.5,326.8 1474.0,302.3 1474.4,311.8 1475.7,338.9 1476.0,328.3 1477.1,298.5 1477.4,308.8 1478.2,333.9 1479.1,312.5 1479.7,298.2 1480.7,307.9 1481.2,311.4 1482.0,300.0 1482.4,295.3 1483.7,328.9 1483.7,328.1 1485.0,292.7 1485.0,293.3 1486.5,315.0 1486.8,318.6 1487.9,295.4 1488.4,301.6 1489.6,318.4 1489.8,314.9 1490.3,307.2 1491.3,291.7 1491.6,298.6 1492.6,317.9 1493.2,308.4 1494.2,292.2 1494.4,294.9 1495.4,307.7 1495.7,305.0 1497.1,288.9 1497.6,293.9 1498.7,305.0 1498.8,303.6 1500.4,286.3 1500.7,288.1 1501.9,296.8 1502.5,291.7 1503.2,284.1 1503.8,283.4 1504.6,283.6 1504.8,284.5 1505.0,284.8 1506.0,288.1 1506.6,294.9 1507.9,309.9 1507.9,309.8 1509.1,301.0 1509.4,304.8 1509.6,308.8 1510.7,327.9 1511.2,328.5 1511.7,328.6 1512.3,324.4 1512.3,324.3 1513.4,333.1 1514.3,339.2 1514.6,337.8 1516.0,332.2 1516.4,336.3 1517.5,346.3 1517.9,344.6 1518.7,342.2 1519.0,343.3 1520.5,346.5 1520.6,346.7 1521.3,344.9 1522.1,361.1 1522.4,366.8 1523.6,311.7 1523.8,311.3 1525.0,310.6 1525.1,311.0 1526.6,318.4 1527.0,316.3 1528.0,312.5 1528.4,319.2 1529.5,333.4 1530.0,328.0 1531.1,317.0 1531.3,314.8 1532.7,321.2 1532.8,321.0 1534.1,310.4 1534.4,315.0 1535.3,326.0 1536.2,311.2 1537.0,297.6 1537.5,304.1 1537.9,309.5 1538.7,320.1 1538.8,323.1 1540.1,305.0 1540.2,301.9 1541.1,333.1 1541.4,342.9 1542.8,303.1 1543.1,304.8 1544.6,315.4 1544.7,314.3 1546.4,302.9 1546.5,306.1 1547.6,333.9 1547.9,324.8 1548.9,299.0 1549.5,308.4 1550.6,324.9 1551.4,308.8 1552.1,293.7 1553.1,312.0 1554.0,329.2 1554.7,314.2 1555.7,292.4 1556.5,300.2 1557.5,308.8 1558.0,302.8 1559.0,293.0 1559.7,298.2 1560.9,306.6 1561.6,300.4 1561.7,299.3 1562.4,294.0 1562.6,296.1 1563.8,303.1 1564.3,300.3 1565.4,294.9 1565.6,296.4 1566.8,305.6 1566.9,303.9 1568.1,289.4 1568.6,289.8 1569.6,290.2 1570.1,288.1 1571.5,288.2 1573.0,287.2 1574.3,287.5 1576.2,286.1 1577.4,286.8 1578.5,285.8 1580.0,286.1 1580.2,286.2 1581.9,285.9 1583.3,286.9 1585.0,286.8 1586.4,287.9 1587.6,287.6 1588.8,288.8 1590.5,288.5 1591.9,289.8 1593.1,289.5 1594.8,290.5 1596.3,290.4 1597.4,291.3 1599.1,291.2 1601.1,292.5 1602.9,292.5 1604.4,293.6 1605.8,293.5 1606.6,294.3 1606.9,294.4 1608.0,293.8 1609.8,294.5 1610.9,293.7 1612.1,294.3 1613.6,293.7 1614.9,294.3 1616.6,293.8 1617.8,294.3 1618.0,294.3 1619.1,294.5 1620.3,296.1 1622.1,296.6 1623.7,298.3 1624.8,298.6 1626.8,300.3 1628.3,300.8 1628.6,301.1 1630.0,299.5 1631.1,296.8 1632.3,295.7 1634.1,292.0 1635.6,289.9 1636.0,289.1 1637.0,288.3 1638.4,288.2 1639.4,287.3 1641.2,287.2 1642.9,285.8 1644.1,285.9 1645.2,284.8 1646.4,285.1 1647.5,283.8 1648.0,283.8 1648.7,298.0 1649.2,306.4 1650.2,298.8 1652.0,286.7 1652.0,286.4 1653.4,285.0 1655.2,285.0 1656.6,283.6 1658.0,283.7 1658.0,283.7 1659.8,283.1 1661.7,283.9 1662.8,283.7 1664.7,284.4 1666.2,284.0 1667.7,284.9 1669.3,284.4 1670.8,285.4 1672.3,284.7 1673.6,285.5 1675.0,285.1 1676.6,285.8 1677.8,285.6 1679.6,286.3 1680.0,286.1 1681.0,285.7 1682.7,286.8 1684.4,286.5 1685.7,287.3 1687.2,286.9 1688.5,287.9 1689.8,287.4 1691.7,288.7 1693.4,288.0 1694.8,289.1 1696.7,288.6 1698.4,289.7 1699.5,289.2 1700.6,290.4 1701.8,289.8 1703.0,290.8 1704.2,290.3 1705.5,291.0 1706.7,290.5 1708.1,291.5 1709.3,291.0 1710.4,292.1 1711.8,291.6 1712.0,291.8 1713.2,300.0 1714.3,306.0 1715.5,314.2 1716.6,321.0 1717.7,328.4 1718.1,325.5 1719.3,315.4 1721.1,302.0 1722.0,293.8 1722.4,293.3 1724.0,293.4 1725.9,291.4 1727.2,291.5 1728.7,290.1 1730.0,289.8 1731.0,288.9 1731.7,287.7 1732.9,286.4 1734.5,283.2 1735.9,281.8 1737.0,279.5 1738.6,277.7 1740.2,274.5 1742.0,272.6 1743.5,269.3 1743.6,269.6" fill="none" stroke="#2424ff" stroke-width="1.3" stroke-linejoin="round" clip-path="url(#cr)"/>
<path d="M941.9,362.5 943.2,363.3 944.4,362.7 945.5,363.7 947.2,363.3 948.0,363.7 948.5,364.9 949.4,366.5 950.0,365.9 950.0,365.9 951.0,365.9 951.2,367.5 952.4,374.7 953.1,372.2 954.6,368.0 954.6,368.0 956.5,371.9 957.2,374.0 958.1,371.9 959.0,368.3 959.8,371.3 960.0,372.2 960.8,375.9 961.4,373.7 962.5,368.9 962.5,369.2 963.8,376.8 964.9,382.5 965.2,380.2 966.6,369.6 966.8,370.2 968.1,373.2 968.6,374.8 969.7,370.8 970.5,367.3 971.1,371.3 972.0,378.2 972.9,373.2 973.9,367.5 974.8,370.7 976.2,377.2 976.4,377.9 978.1,368.8 978.3,367.8 979.2,371.1 980.3,373.3 980.9,375.1 981.9,371.5 983.3,365.5 983.4,365.1 984.6,370.5 985.0,371.6 985.8,369.6 987.1,368.0 987.5,367.1 989.0,369.3 989.8,371.5 990.0,371.1 990.1,371.0 991.2,367.8 991.7,367.0 993.0,368.6 993.3,368.7 994.7,366.7 994.7,366.6 996.2,367.7 996.7,367.6 997.5,370.0 999.4,378.2 1000.0,380.2 1001.3,386.8 1002.6,395.2 1002.9,393.3 1004.1,385.0 1005.3,378.1 1005.6,375.9 1007.1,372.7 1008.0,371.5 1009.0,371.5 1009.9,370.7 1010.0,370.4 1010.8,369.6 1011.5,369.3 1012.0,370.8 1013.3,373.6 1013.9,372.3 1015.1,370.7 1015.4,373.1 1016.8,382.5 1016.9,383.1 1018.4,371.7 1018.7,369.5 1020.2,384.6 1020.3,383.7 1022.0,373.3 1022.5,369.7 1023.6,377.7 1024.1,381.3 1025.5,373.9 1025.9,371.3 1026.6,375.0 1027.9,382.6 1028.4,385.8 1029.4,375.0 1030.2,367.6 1030.6,371.5 1032.3,385.1 1032.6,388.4 1033.9,373.8 1034.2,369.6 1035.7,383.3 1036.2,388.5 1037.5,369.4 1037.7,367.6 1038.7,373.6 1039.9,382.1 1040.0,382.8 1040.1,383.3 1041.3,375.0 1042.0,370.3 1043.0,376.4 1044.1,383.3 1044.9,375.8 1045.9,367.2 1046.5,372.0 1047.3,377.1 1047.8,374.8 1049.2,369.5 1049.4,368.4 1051.0,376.9 1051.3,378.2 1052.8,371.7 1053.5,368.4 1054.0,370.7 1055.3,378.2 1055.8,376.2 1057.0,371.1 1057.6,368.7 1058.9,369.1 1060.1,368.7 1060.1,368.8 1061.1,368.5 1062.3,366.8 1062.8,366.6 1064.2,367.2 1064.5,367.1 1065.0,366.6 1066.3,366.2 1068.0,366.9 1069.9,366.1 1071.4,367.0 1072.9,366.3 1074.4,367.1 1076.3,366.4 1077.7,367.3 1079.4,366.7 1080.9,367.2 1082.3,366.6 1084.1,367.3 1085.3,366.8 1086.5,367.3 1088.0,366.7 1088.1,366.6 1089.5,367.5 1090.8,366.7 1092.1,367.7 1093.7,367.0 1095.1,368.0 1096.4,367.6 1098.3,368.1 1100.1,367.9 1101.4,368.5 1103.2,367.9 1104.6,368.6 1106.3,368.2 1108.2,369.0 1109.8,368.5 1111.7,369.6 1113.4,368.7 1114.5,369.9 1116.1,369.0 1117.3,369.9 1119.2,369.2 1120.8,370.4 1120.9,370.3 1121.8,369.6 1123.1,370.2 1124.8,369.2 1126.7,369.7 1127.9,368.7 1129.6,369.6 1131.3,368.5 1133.2,368.9 1134.2,368.3 1136.1,368.6 1137.9,367.8 1139.0,368.3 1140.7,367.6 1142.6,367.9 1144.2,367.1 1145.4,367.7 1147.0,367.1 1148.6,367.7 1150.0,366.8 1151.8,367.0 1153.6,366.3 1155.4,366.8 1157.3,365.9 1158.9,366.3 1160.0,365.9 1160.5,365.8 1162.1,366.6 1163.4,366.3 1164.7,367.0 1166.0,366.6 1167.8,367.8 1169.2,367.0 1170.5,368.1 1172.0,367.6 1172.1,367.7 1173.6,370.0 1174.8,370.6 1176.2,372.5 1177.4,373.1 1178.0,374.0 1178.6,375.0 1180.0,376.0 1181.2,378.3 1182.7,379.1 1183.0,379.7 1183.8,380.5 1185.6,379.9 1187.4,381.2 1188.8,380.7 1189.0,380.8 1190.1,380.6 1191.7,378.6 1193.0,378.5 1193.0,378.5 1194.3,378.7 1196.1,380.8 1197.0,381.0 1197.8,381.1 1199.4,383.2 1200.8,383.6 1201.6,384.5 1202.7,382.7 1204.4,378.9 1205.0,378.0 1206.1,376.9 1207.9,373.8 1209.7,371.6 1210.0,371.1 1211.0,370.1 1212.8,370.1 1214.6,368.9 1215.0,368.9 1216.2,369.3 1217.4,368.5 1218.5,368.8 1220.4,368.2 1221.7,368.7 1222.8,367.7 1224.6,368.4 1226.4,367.5 1227.5,368.0 1228.5,367.3 1228.9,367.0 1230.6,367.9 1231.9,366.9 1233.2,367.9 1234.3,367.3 1235.9,367.9 1237.5,367.3 1239.4,368.0 1241.3,367.1 1242.4,367.8 1243.6,367.3 1245.1,368.0 1246.7,367.0 1248.0,367.7 1249.8,367.0 1251.3,367.8 1253.0,367.3 1254.4,368.0 1256.1,367.1 1257.2,367.9 1258.7,367.3 1259.8,367.9 1261.3,367.2 1263.2,367.9 1264.8,367.4 1265.9,367.9 1267.4,367.2 1268.7,368.2 1270.4,367.4 1272.3,368.0 1273.3,367.4 1275.0,368.1 1276.0,367.6 1277.7,368.3 1279.2,367.3 1280.4,368.0 1281.9,367.2 1283.0,368.1 1284.7,367.6 1286.5,368.0 1288.3,367.4 1289.3,368.1 1290.8,367.6 1292.5,368.2 1293.7,367.6 1295.3,368.2 1296.8,367.6 1298.1,368.1 1299.6,367.7 1300.7,368.4 1302.6,367.7 1304.4,368.2 1306.0,367.6 1307.1,368.2 1308.5,367.6 1310.1,368.3 1311.6,367.8 1313.3,368.4 1314.5,367.6 1316.0,368.4 1316.0,368.4 1317.2,381.0 1318.8,398.4 1319.0,400.4 1320.6,425.6 1321.5,440.1 1322.0,438.4 1323.3,432.2 1324.0,429.9 1325.1,426.8 1327.0,419.5 1327.0,419.6 1328.8,426.8 1330.0,430.7 1330.0,430.6 1331.5,424.5 1332.0,422.2 1333.0,410.8 1335.0,390.7 1335.0,390.3 1336.3,384.3 1337.7,379.6 1338.9,374.2 1339.9,370.6 1340.0,370.3 1341.7,369.2 1343.3,369.4 1344.8,368.2 1345.0,368.3 1346.5,368.9 1348.3,367.9 1350.2,368.8 1351.9,368.0 1353.4,369.0 1354.5,368.0 1356.2,368.8 1357.4,368.1 1358.5,368.8 1360.4,368.1 1361.8,368.9 1363.1,368.1 1364.6,369.0 1365.9,368.1 1367.2,369.0 1369.1,368.1 1370.2,369.0 1371.9,368.3 1373.2,368.9 1374.6,368.3 1376.1,369.2 1377.4,368.3 1379.3,369.0 1380.7,368.4 1381.8,369.0 1383.6,368.5 1384.9,369.2 1385.9,368.5 1387.1,369.1 1388.3,368.4 1389.6,369.2 1390.8,368.3 1391.9,369.3 1393.1,368.5 1394.7,369.1 1396.2,368.5 1397.7,369.3 1399.2,368.7 1400.0,369.1 1400.9,369.5 1402.1,368.9 1403.7,369.7 1405.2,369.2 1406.6,369.9 1408.2,369.2 1409.6,370.4 1411.5,369.8 1413.0,370.4 1414.2,369.9 1415.3,370.9 1417.0,370.0 1418.7,371.2 1420.0,370.3 1421.3,371.5 1423.2,370.7 1424.9,371.6 1426.7,371.3 1428.0,371.9 1429.7,371.4 1431.2,372.2 1432.4,371.6 1434.0,372.5 1435.9,372.1 1437.0,373.1 1438.3,372.3 1440.0,373.3 1440.2,373.5 1441.5,373.4 1441.9,374.0 1442.7,374.3 1443.8,373.6 1443.9,373.8 1445.1,377.1 1445.4,376.8 1446.7,374.6 1447.2,375.6 1447.5,376.3 1448.1,378.5 1448.4,378.4 1449.3,377.2 1449.5,377.7 1451.0,382.1 1451.4,381.8 1452.5,380.3 1452.8,380.2 1453.7,388.3 1454.2,392.3 1454.7,387.2 1455.3,380.7 1455.3,380.8 1456.7,392.0 1456.9,390.8 1458.1,382.5 1458.2,381.6 1459.7,388.0 1460.1,389.4 1461.6,381.0 1461.9,379.8 1462.8,384.1 1463.6,386.7 1464.2,384.7 1465.2,382.4 1465.9,386.3 1466.9,391.6 1467.3,388.4 1468.4,382.1 1469.0,385.1 1469.8,388.1 1470.5,384.2 1471.4,380.8 1472.5,391.0 1472.5,391.5 1473.6,381.4 1474.0,378.9 1475.2,389.5 1475.7,393.1 1477.0,380.7 1477.1,380.8 1478.8,390.4 1479.0,391.0 1480.0,382.0 1480.4,378.5 1480.8,380.6 1481.6,385.6 1482.1,383.7 1483.5,376.5 1483.6,377.2 1485.3,387.3 1485.4,388.0 1487.0,376.4 1487.1,375.4 1488.2,380.0 1488.8,381.6 1489.9,377.5 1490.4,376.1 1491.6,381.2 1492.1,382.8 1493.1,377.5 1494.0,373.5 1494.7,380.2 1495.2,383.7 1496.3,372.5 1496.3,372.8 1497.7,381.8 1498.0,379.8 1499.1,371.6 1499.1,371.6 1500.6,374.7 1501.0,373.6 1502.0,370.2 1502.7,370.0 1503.6,370.4 1504.3,369.8 1504.6,369.4 1505.9,371.7 1507.4,376.5 1508.0,377.6 1508.6,381.2 1509.9,390.5 1510.2,390.2 1510.6,389.5 1511.5,386.5 1511.8,385.7 1513.0,399.5 1513.2,401.7 1514.2,392.1 1514.4,390.5 1515.8,399.6 1516.3,402.7 1517.7,393.2 1517.8,392.8 1519.1,403.6 1519.2,405.0 1520.4,399.3 1521.3,397.5 1521.6,403.0 1522.4,416.2 1522.7,412.3 1524.1,397.6 1525.5,381.1 1526.0,375.7 1527.4,379.5 1527.8,380.2 1529.0,377.7 1529.4,377.4 1530.6,392.7 1530.9,390.0 1532.1,377.4 1532.6,380.6 1534.0,388.8 1534.3,385.9 1535.5,376.1 1536.0,382.1 1536.7,390.1 1537.9,380.6 1538.2,377.6 1539.2,383.8 1539.9,388.4 1540.7,382.2 1541.3,377.9 1541.9,379.7 1542.7,382.6 1543.0,382.1 1544.6,377.3 1544.8,379.9 1545.7,389.0 1546.3,384.7 1547.4,375.4 1547.9,379.2 1548.9,388.5 1548.9,388.8 1550.1,376.4 1550.7,378.0 1551.4,380.7 1552.0,379.9 1553.3,376.9 1553.8,379.2 1554.9,385.9 1555.1,384.8 1556.3,375.2 1556.3,374.8 1558.0,385.4 1558.2,384.1 1559.6,374.9 1559.7,375.3 1561.2,381.4 1561.4,381.1 1562.6,376.4 1563.0,375.5 1564.5,377.7 1564.8,377.8 1565.8,374.6 1566.2,374.0 1566.4,374.1 1567.6,372.6 1567.7,372.3 1569.0,368.9 1570.0,367.4 1570.9,367.7 1572.0,367.3 1573.8,368.2 1575.7,367.4 1577.4,368.4 1579.1,367.8 1581.1,368.6 1582.1,368.0 1583.7,369.1 1585.1,368.3 1586.3,369.1 1587.5,368.7 1588.7,369.5 1590.5,369.0 1592.3,369.7 1593.8,369.3 1595.7,370.0 1596.9,369.4 1598.2,370.1 1599.4,369.4 1600.0,369.8 1600.8,372.0 1602.1,374.2 1604.0,379.1 1605.4,381.3 1606.0,383.0 1606.5,385.5 1607.6,389.5 1609.0,396.3 1609.2,395.8 1610.8,390.6 1612.8,386.1 1613.0,385.3 1613.9,383.3 1615.0,381.8 1616.2,379.1 1617.0,378.1 1617.3,378.6 1618.6,379.3 1620.4,381.9 1621.0,382.2 1622.3,383.5 1623.5,385.7 1625.1,387.5 1626.0,389.2 1626.3,388.7 1627.6,385.0 1629.1,382.5 1630.0,380.0 1630.7,378.6 1632.1,377.3 1634.1,373.6 1635.3,372.2 1636.0,370.9 1636.7,370.3 1637.9,370.9 1639.6,369.8 1640.0,369.8 1641.3,370.2 1642.6,369.7 1643.9,370.4 1645.1,369.9 1647.0,370.8 1648.4,370.1 1650.0,370.8 1651.7,370.2 1653.0,370.8 1654.5,370.5 1655.7,371.0 1657.2,370.5 1658.6,371.1 1659.8,370.7 1661.0,371.3 1662.5,370.6 1663.5,371.4 1665.5,370.8 1666.7,371.8 1668.5,371.0 1670.4,371.8 1671.9,371.3 1673.7,371.9 1675.3,371.3 1677.2,372.2 1678.6,371.7 1680.0,372.2 1680.0,372.2 1681.9,372.0 1683.8,372.8 1684.9,372.1 1686.8,373.1 1688.7,372.9 1690.3,373.6 1691.5,373.2 1693.3,374.0 1694.8,373.6 1696.4,374.4 1698.1,373.8 1700.0,374.9 1701.6,374.4 1702.8,375.4 1704.1,374.5 1705.9,375.4 1707.7,375.2 1709.0,375.9 1710.4,375.4 1711.9,376.5 1712.0,376.4 1713.7,380.3 1715.4,385.7 1717.3,390.3 1717.7,391.7 1718.4,390.3 1719.5,386.5 1720.7,384.2 1722.5,378.6 1724.0,375.1 1724.3,374.8 1725.9,372.7 1727.6,371.2 1728.9,369.1 1730.0,368.5 1731.7,365.7 1733.3,364.7 1735.2,361.7 1736.9,360.8 1738.2,358.4 1739.8,357.2 1741.2,355.0 1743.2,353.7 1743.6,352.7" fill="none" stroke="#22eaea" stroke-width="1.3" stroke-linejoin="round" clip-path="url(#cr)"/>
<path d="M941.9,418.0 943.0,419.2 944.5,418.6 946.4,419.6 948.0,419.3 948.0,419.3 949.4,421.0 950.0,421.3 950.0,421.3 950.8,420.7 951.9,420.7 952.4,421.5 953.5,422.3 954.1,423.3 955.4,422.2 956.3,420.6 956.7,421.3 958.0,424.4 958.6,423.6 959.6,421.9 960.0,422.8 960.3,423.5 961.4,426.4 962.1,425.3 963.4,422.0 963.9,421.3 965.0,424.1 966.4,426.3 966.8,425.1 967.9,423.1 968.6,421.1 969.4,422.3 970.5,425.9 970.8,425.4 972.1,421.3 972.3,420.8 973.5,423.4 974.1,424.1 974.8,423.1 976.2,422.2 976.4,421.8 978.1,424.7 978.3,425.3 979.5,424.0 980.9,421.1 981.3,422.4 982.3,426.9 983.2,425.6 984.7,421.8 984.9,421.9 986.1,423.7 986.7,424.0 987.4,422.4 988.3,421.4 988.6,421.9 990.0,422.9 990.3,423.2 990.3,423.1 991.5,422.8 992.5,421.9 992.5,421.9 993.9,423.9 994.2,423.8 995.4,422.3 995.9,422.1 996.7,422.5 996.8,422.7 997.9,424.1 999.3,427.0 1000.0,427.9 1000.7,429.4 1002.6,434.6 1002.6,434.6 1003.9,429.4 1005.0,426.2 1005.1,426.2 1007.0,423.8 1008.0,423.8 1008.2,424.0 1009.9,422.9 1010.0,422.9 1010.0,422.8 1011.7,422.7 1011.9,422.4 1012.8,423.6 1013.5,425.2 1014.7,424.2 1015.4,423.0 1016.6,425.4 1017.5,427.8 1018.3,426.0 1019.3,423.0 1019.7,424.2 1021.2,429.8 1021.3,430.3 1022.3,427.4 1023.7,424.1 1024.2,425.0 1025.6,426.2 1026.1,427.0 1027.2,424.8 1027.6,423.6 1028.7,425.3 1029.1,426.3 1029.8,426.2 1031.2,424.6 1031.3,424.5 1032.7,429.9 1032.8,430.4 1034.5,426.5 1035.3,425.1 1035.9,426.9 1036.9,429.6 1037.6,427.3 1038.6,424.2 1039.0,425.6 1040.0,428.5 1040.1,428.7 1040.9,426.8 1042.6,424.4 1042.7,424.7 1044.1,427.6 1044.3,427.1 1045.5,425.1 1045.6,424.9 1047.3,426.6 1047.9,427.5 1048.9,425.4 1049.3,424.3 1050.5,425.7 1050.9,426.8 1051.7,426.5 1053.4,424.2 1053.6,424.2 1055.0,424.8 1055.1,424.9 1056.8,424.1 1058.1,424.7 1059.2,424.1 1060.4,424.8 1062.2,424.3 1063.3,424.8 1064.9,424.3 1066.2,425.0 1067.9,424.1 1069.0,425.0 1070.1,424.4 1071.8,425.1 1073.2,424.5 1075.1,425.3 1077.0,424.5 1078.8,425.4 1080.0,424.8 1081.0,425.1 1081.9,425.5 1083.6,424.9 1085.4,425.6 1086.6,425.3 1088.3,426.1 1089.9,425.6 1091.3,426.2 1092.4,425.5 1094.2,426.7 1095.6,425.8 1097.4,426.7 1099.3,426.2 1100.4,427.0 1101.5,426.4 1102.7,427.2 1103.8,426.7 1105.1,427.6 1106.3,426.8 1107.9,427.7 1109.8,427.2 1111.4,428.0 1112.7,427.4 1114.1,428.2 1115.5,427.8 1116.7,428.5 1118.6,427.9 1120.0,429.0 1120.9,428.7 1121.6,428.2 1123.2,428.3 1124.8,427.5 1125.9,428.0 1127.2,427.0 1129.1,427.5 1130.2,426.4 1131.8,427.0 1133.1,426.0 1134.5,426.3 1136.3,425.1 1137.9,425.8 1139.3,424.8 1140.7,425.2 1142.1,424.0 1143.5,424.5 1145.1,423.4 1146.4,423.9 1147.9,422.8 1149.7,423.5 1151.0,422.4 1152.6,422.7 1154.2,421.9 1155.0,422.1 1156.0,422.5 1157.7,421.7 1159.4,422.7 1161.0,422.3 1162.7,423.0 1164.2,422.3 1165.5,423.1 1167.3,422.8 1169.1,423.7 1170.3,422.9 1172.2,423.9 1173.9,423.4 1175.3,424.2 1176.4,423.4 1177.7,424.2 1179.5,423.8 1181.0,424.8 1182.3,423.8 1183.6,424.8 1184.7,424.0 1186.2,425.0 1188.1,424.5 1189.2,425.2 1190.0,424.9 1190.3,424.8 1192.1,425.5 1193.8,424.6 1195.2,425.4 1196.5,424.7 1198.3,425.4 1199.6,424.8 1200.8,425.6 1202.6,424.9 1203.7,425.5 1205.5,424.9 1207.2,425.5 1208.4,424.7 1210.1,425.5 1211.8,425.0 1213.5,425.7 1215.1,425.0 1216.7,425.6 1218.7,424.9 1220.4,425.5 1221.5,425.1 1222.8,425.7 1224.4,424.9 1225.5,425.8 1226.7,425.0 1228.5,425.9 1229.9,425.1 1231.6,426.0 1232.7,425.2 1234.5,426.0 1235.8,425.3 1236.9,425.8 1238.7,425.2 1239.9,425.8 1241.0,425.3 1242.2,425.8 1243.8,425.4 1244.8,425.8 1246.6,425.2 1247.6,426.2 1249.5,425.5 1251.3,425.8 1252.6,425.5 1254.1,426.1 1255.3,425.3 1257.1,425.9 1258.3,425.3 1259.4,426.1 1260.7,425.4 1261.7,426.0 1263.3,425.4 1264.4,426.2 1265.6,425.4 1267.3,426.3 1268.6,425.5 1270.5,426.3 1272.1,425.5 1273.4,426.2 1275.4,425.5 1276.6,426.3 1277.9,425.6 1279.6,426.5 1281.1,425.8 1282.6,426.2 1284.1,425.7 1285.5,426.3 1286.7,425.8 1288.3,426.3 1289.8,425.6 1291.7,426.6 1293.2,425.8 1294.7,426.7 1296.2,426.0 1298.0,426.5 1299.9,425.7 1301.2,426.5 1303.0,425.7 1304.5,426.5 1306.0,425.8 1307.4,426.7 1309.3,426.0 1310.6,426.7 1311.9,425.9 1313.2,426.8 1314.7,426.1 1316.0,426.7 1316.6,433.2 1317.7,445.6 1319.0,460.1 1319.6,469.5 1321.3,495.8 1322.0,507.0 1322.8,504.6 1323.9,500.1 1324.0,499.7 1325.7,474.1 1326.0,470.2 1327.4,475.5 1328.0,477.9 1329.3,473.9 1330.5,469.3 1331.0,467.9 1332.2,460.8 1333.0,455.0 1333.8,450.9 1335.6,443.4 1336.9,437.1 1337.0,436.7 1338.6,435.5 1340.5,432.8 1342.3,431.3 1344.1,428.5 1345.0,428.0 1345.9,428.5 1347.6,427.7 1349.3,428.4 1350.8,427.8 1352.7,428.5 1354.6,427.7 1355.9,428.4 1357.8,427.7 1359.2,428.4 1361.1,427.6 1362.9,428.3 1364.0,427.5 1365.5,428.4 1366.8,427.5 1368.0,428.4 1369.9,427.5 1371.0,428.5 1372.9,427.5 1374.2,428.2 1375.7,427.6 1376.9,428.4 1378.0,427.8 1379.9,428.4 1381.2,427.6 1382.3,428.3 1384.0,427.7 1385.1,428.5 1386.3,427.6 1387.7,428.4 1389.4,427.7 1390.9,428.3 1392.3,427.6 1393.7,428.5 1395.4,427.6 1396.8,428.3 1398.4,427.6 1399.9,428.5 1400.0,428.4 1401.1,427.7 1403.0,428.3 1404.7,427.7 1406.6,428.5 1407.9,427.7 1409.6,428.6 1411.1,428.1 1412.6,428.6 1414.4,427.8 1415.9,428.9 1417.2,428.1 1418.9,428.7 1420.4,428.3 1421.7,429.0 1423.7,428.3 1425.2,429.0 1426.3,428.4 1427.9,428.9 1429.8,428.2 1430.0,428.3 1431.1,429.3 1431.2,429.3 1432.2,428.8 1433.0,428.9 1434.1,430.6 1434.8,431.2 1436.0,429.0 1436.2,428.8 1437.5,432.3 1437.7,432.0 1439.3,429.2 1439.4,429.4 1440.0,430.8 1440.5,431.9 1440.6,431.8 1441.6,429.0 1441.6,429.0 1442.9,431.2 1443.0,431.2 1444.0,429.7 1444.4,430.2 1445.3,432.4 1445.8,431.6 1446.9,429.4 1447.7,430.8 1448.4,432.6 1449.4,430.5 1449.9,429.0 1450.5,430.2 1451.5,433.5 1452.4,431.6 1453.2,428.8 1453.5,429.6 1454.7,434.6 1454.7,434.6 1456.4,428.6 1456.4,428.6 1457.8,431.8 1458.4,431.0 1459.4,428.9 1459.5,428.9 1460.5,431.7 1460.9,432.2 1461.9,429.8 1462.3,429.3 1463.5,431.4 1463.9,431.8 1464.9,429.6 1465.3,429.0 1466.4,434.7 1466.7,433.4 1467.5,429.2 1468.2,431.9 1468.7,434.1 1470.1,429.7 1470.4,428.7 1471.5,431.9 1471.9,433.2 1473.3,430.6 1473.7,429.3 1474.9,431.8 1475.3,432.8 1476.6,430.4 1477.2,428.9 1477.7,429.9 1478.8,432.9 1479.0,432.5 1480.2,428.3 1480.3,428.0 1481.9,431.4 1481.9,431.4 1483.5,428.5 1483.6,428.4 1485.0,429.6 1485.4,429.5 1486.5,428.3 1486.7,428.3 1488.2,429.5 1488.4,429.5 1490.0,427.9 1490.0,427.9 1490.4,427.7 1491.6,428.5 1493.4,427.8 1494.9,428.4 1496.1,427.5 1497.3,428.5 1498.5,427.8 1499.8,428.2 1501.5,427.6 1502.7,428.5 1504.0,427.7 1505.0,428.2 1505.3,428.4 1507.2,428.1 1509.0,429.5 1509.0,429.5 1510.7,429.8 1512.2,431.5 1513.7,431.8 1514.9,433.5 1515.0,433.5 1516.6,433.9 1518.1,435.7 1519.6,436.5 1520.0,437.0 1521.0,441.9 1522.0,445.8 1522.5,442.5 1523.0,439.8 1523.7,436.9 1524.0,435.4 1524.6,435.7 1524.9,435.1 1525.8,433.9 1526.5,435.2 1527.0,435.6 1528.0,433.1 1528.5,432.1 1529.6,434.8 1529.8,434.2 1530.0,433.4 1530.7,431.3 1531.6,434.6 1532.3,437.8 1532.8,436.6 1534.1,431.3 1534.1,431.2 1535.6,434.4 1535.8,434.6 1537.4,431.5 1537.6,431.3 1538.8,436.0 1539.1,435.3 1540.0,432.0 1540.6,432.4 1541.4,433.4 1542.4,431.6 1542.6,430.9 1543.6,433.0 1544.5,435.7 1544.9,434.9 1546.3,431.3 1546.6,432.6 1547.7,437.5 1547.7,437.4 1548.9,431.7 1549.3,430.3 1550.4,433.6 1551.2,435.1 1552.0,433.0 1552.8,431.1 1553.5,432.4 1554.8,433.7 1555.5,431.1 1555.9,429.9 1557.3,437.6 1557.3,437.4 1558.6,431.7 1558.7,431.2 1559.9,438.2 1560.4,435.4 1561.1,431.4 1562.1,432.6 1562.3,433.0 1563.5,431.5 1563.9,430.5 1565.0,429.8 1565.3,429.7 1566.8,429.8 1568.7,428.4 1570.5,428.8 1571.9,427.6 1573.5,427.7 1575.0,426.9 1575.4,426.8 1576.9,427.5 1578.8,426.6 1580.1,427.1 1582.1,426.3 1583.5,427.3 1585.0,426.5 1586.6,427.1 1588.5,426.4 1590.4,427.1 1591.7,426.3 1592.8,427.0 1594.2,426.0 1595.9,426.6 1597.0,426.0 1598.2,426.6 1600.0,425.8 1601.4,426.8 1603.3,425.9 1604.9,426.5 1606.8,425.6 1608.5,426.4 1609.0,426.2 1609.8,425.9 1611.7,426.5 1613.1,425.8 1614.7,426.6 1616.5,425.8 1618.2,426.1 1620.1,425.5 1621.5,426.3 1623.0,425.5 1624.6,426.4 1626.2,425.3 1627.7,426.3 1629.3,425.3 1631.1,426.1 1632.9,425.4 1634.0,425.9 1635.9,425.4 1637.3,426.2 1638.4,425.4 1640.1,426.0 1641.7,425.4 1643.5,425.8 1645.0,425.2 1646.9,425.8 1648.2,425.2 1649.6,425.9 1651.3,424.9 1652.7,425.9 1654.1,425.2 1655.7,425.7 1657.0,424.9 1658.9,425.6 1660.8,424.9 1662.1,425.4 1663.5,424.7 1665.1,425.6 1666.8,424.8 1668.6,425.5 1670.2,424.8 1672.1,425.6 1673.4,424.8 1674.4,425.3 1676.3,424.6 1678.1,425.3 1679.4,424.8 1680.0,425.0 1680.9,425.5 1682.5,425.2 1684.1,426.3 1685.4,425.9 1686.6,426.9 1687.9,426.5 1689.8,427.7 1691.7,427.2 1693.2,428.3 1694.9,427.8 1696.5,428.9 1698.3,428.7 1699.6,429.6 1700.7,429.1 1702.3,430.3 1704.0,430.0 1705.1,430.9 1707.0,430.5 1708.7,431.8 1710.0,431.4 1711.1,432.0 1712.0,431.8 1712.2,432.1 1714.1,435.3 1715.6,436.8 1717.1,439.5 1717.7,440.1 1719.0,436.5 1720.1,434.4 1721.6,430.4 1723.4,426.7 1724.0,425.1 1724.8,423.7 1726.6,422.0 1727.9,419.7 1729.7,418.2 1731.0,415.7 1731.2,414.1 1733.0,404.3 1734.8,392.8 1736.3,384.8 1737.0,380.0 1737.8,372.4 1739.4,358.4 1741.2,341.3 1742.4,331.6 1743.5,320.9 1743.6,320.0" fill="none" stroke="#ff30ff" stroke-width="1.3" stroke-linejoin="round" clip-path="url(#cr)"/>
<path d="M941.9,471.0 943.8,471.8 945.5,470.9 946.9,471.4 948.0,470.6 948.2,470.1 949.7,468.9 950.4,467.3 950.8,467.4 951.9,469.8 952.1,469.9 953.1,466.5 954.4,463.6 954.7,465.4 955.8,469.6 955.9,470.0 957.0,466.0 957.8,461.9 958.1,463.3 959.5,469.1 959.9,467.0 960.0,466.6 961.2,460.4 961.8,462.0 963.7,469.0 963.8,469.2 964.8,467.2 966.2,466.1 966.4,465.8 967.5,466.2 968.6,467.7 968.7,467.8 969.6,463.1 970.3,459.8 971.4,464.2 972.4,467.1 972.8,465.3 974.0,460.8 974.5,462.5 975.7,465.0 976.5,468.1 977.0,467.6 978.3,464.5 978.7,464.8 980.3,468.1 980.8,468.4 981.4,467.1 982.5,466.0 983.4,464.5 984.4,465.4 985.6,467.7 985.8,467.8 987.1,466.4 988.3,465.9 988.9,467.1 990.0,468.4 990.1,468.8 991.4,467.8 992.4,465.8 992.7,465.9 994.2,468.3 995.0,468.7 995.0,468.7 995.3,468.3 997.2,468.2 998.8,466.5 1000.6,466.1 1001.7,464.9 1002.0,464.8 1003.0,465.8 1003.2,465.8 1004.7,464.7 1004.7,464.7 1006.3,467.0 1007.2,467.6 1007.4,467.2 1008.5,465.9 1009.1,464.9 1010.0,466.7 1010.2,467.0 1011.4,469.8 1011.6,469.1 1013.2,463.0 1013.5,462.0 1014.2,465.3 1015.6,470.0 1016.2,466.7 1017.8,459.3 1017.8,459.2 1019.4,468.6 1019.6,469.6 1021.2,464.4 1022.1,460.8 1022.8,464.9 1023.8,470.9 1024.6,468.6 1026.1,463.3 1026.5,464.7 1027.6,469.0 1028.1,470.5 1029.1,465.7 1030.2,461.1 1031.0,465.6 1032.0,471.0 1032.0,470.9 1033.7,465.0 1034.6,461.0 1035.0,463.4 1036.0,470.7 1036.6,469.5 1038.2,465.4 1038.6,465.9 1040.0,469.7 1040.0,469.8 1040.5,470.5 1041.7,467.8 1042.6,466.6 1043.4,469.5 1044.2,471.7 1044.5,471.0 1045.8,469.0 1046.0,469.4 1047.3,470.4 1047.5,470.7 1048.6,468.5 1049.5,465.9 1050.1,467.0 1051.9,471.5 1052.0,471.7 1053.1,467.6 1053.5,466.5 1054.3,469.9 1055.0,472.0 1055.5,471.7 1056.9,471.7 1057.4,471.3 1058.1,471.6 1059.3,473.1 1059.9,473.4 1060.0,473.4 1061.5,473.0 1063.4,473.5 1065.1,473.1 1066.5,473.9 1068.1,473.4 1069.9,474.1 1071.0,473.6 1072.3,474.6 1073.7,474.1 1075.5,474.7 1076.9,474.2 1078.7,475.3 1080.6,474.7 1081.0,474.9 1081.9,475.4 1083.7,474.9 1085.3,475.9 1086.5,475.2 1088.0,476.2 1089.3,475.5 1090.9,476.4 1092.7,475.7 1093.8,476.8 1094.9,475.9 1096.2,476.7 1097.6,476.5 1098.9,477.3 1100.6,476.7 1102.1,477.5 1103.5,477.0 1104.9,477.9 1106.8,477.2 1108.6,478.1 1110.4,477.5 1112.2,478.4 1113.7,478.1 1115.3,478.8 1116.9,478.2 1118.3,479.0 1119.6,478.4 1120.9,479.5 1120.9,479.5 1122.7,478.5 1124.2,479.0 1125.2,477.9 1126.6,478.6 1127.7,477.6 1128.8,478.1 1130.4,477.2 1131.8,477.7 1133.1,476.9 1134.4,477.3 1135.9,476.3 1137.7,476.9 1139.6,476.0 1141.4,476.5 1143.1,475.2 1144.7,476.0 1146.0,475.0 1147.6,475.5 1148.7,474.7 1150.3,475.0 1152.0,474.0 1153.5,474.4 1155.0,473.5 1155.0,473.5 1156.3,474.2 1158.1,473.7 1159.3,474.4 1161.2,473.7 1162.4,474.3 1163.8,473.8 1165.7,474.6 1167.7,473.6 1169.0,474.6 1170.5,473.8 1172.1,474.5 1173.2,474.0 1174.9,474.5 1176.7,473.9 1178.1,474.8 1179.2,474.1 1181.0,474.6 1182.8,474.0 1183.9,474.9 1185.8,474.0 1187.5,474.8 1188.7,474.0 1190.2,474.9 1191.2,474.1 1192.4,475.0 1193.5,474.3 1194.9,475.0 1196.1,474.1 1197.8,474.9 1199.2,474.1 1200.4,474.8 1202.2,474.3 1203.5,474.8 1205.0,474.1 1206.2,475.0 1208.1,474.5 1209.6,475.0 1211.1,474.2 1213.0,475.0 1214.2,474.4 1216.1,475.0 1217.4,474.5 1219.3,475.1 1220.5,474.5 1222.1,475.1 1223.8,474.6 1225.3,475.2 1227.2,474.3 1228.7,475.2 1230.1,474.5 1231.3,475.1 1232.6,474.6 1233.9,475.2 1235.5,474.5 1237.4,475.3 1238.6,474.6 1240.4,475.3 1241.9,474.8 1243.8,475.6 1245.1,474.6 1246.3,475.4 1248.2,474.9 1250.1,475.6 1251.7,474.7 1253.4,475.5 1254.8,474.9 1256.1,475.5 1257.8,474.9 1258.9,475.8 1260.5,474.8 1262.1,475.6 1263.9,474.9 1265.5,475.8 1266.8,475.1 1267.9,475.7 1269.4,475.2 1271.3,476.0 1272.7,475.2 1273.8,475.9 1275.5,475.2 1277.3,475.8 1278.6,475.3 1279.7,475.7 1281.5,475.3 1282.7,476.0 1284.0,475.2 1285.1,475.8 1286.6,475.1 1287.8,475.9 1289.5,475.2 1291.0,476.1 1292.4,475.4 1293.7,476.0 1295.3,475.3 1297.1,476.2 1298.3,475.3 1299.6,476.0 1301.0,475.3 1302.4,476.2 1304.2,475.4 1305.4,476.3 1307.0,475.6 1308.2,476.1 1309.9,475.4 1310.9,476.2 1312.7,475.4 1314.4,476.2 1315.8,475.8 1317.2,476.5 1317.3,476.4 1318.5,488.4 1319.5,500.2 1319.8,503.6 1321.3,521.3 1322.0,529.9 1323.0,525.4 1324.0,519.9 1324.8,511.9 1326.0,500.2 1326.7,514.2 1328.0,539.8 1328.5,532.8 1330.0,515.2 1330.2,515.8 1331.4,518.2 1332.0,520.0 1332.9,497.5 1333.0,494.4 1334.4,487.9 1335.7,482.8 1336.0,481.1 1336.9,479.6 1338.2,479.0 1340.1,476.6 1341.0,476.1 1341.3,476.2 1342.8,475.5 1344.2,476.3 1346.0,475.6 1347.7,476.2 1349.6,475.5 1351.0,476.6 1352.1,475.9 1354.0,476.4 1355.4,475.9 1356.6,476.7 1357.7,475.6 1359.1,476.6 1360.4,475.9 1362.0,476.7 1363.6,476.0 1365.2,476.7 1367.2,476.0 1369.0,476.6 1371.0,475.9 1372.3,476.8 1374.2,476.1 1375.5,476.7 1377.4,475.9 1378.7,476.8 1380.3,476.0 1381.4,476.7 1383.3,476.2 1385.2,476.9 1386.6,476.2 1387.8,477.0 1389.4,476.0 1390.9,476.9 1392.2,476.3 1393.7,476.8 1395.2,476.3 1396.4,476.8 1398.2,476.1 1400.0,476.8 1400.0,476.8 1401.5,476.2 1402.7,476.9 1404.5,476.1 1405.6,476.9 1407.1,476.2 1409.0,476.7 1410.8,476.1 1412.1,477.0 1413.9,476.2 1415.1,476.8 1417.0,476.2 1418.7,476.7 1420.5,476.3 1422.1,476.8 1423.8,476.1 1425.8,476.8 1427.2,476.0 1428.8,476.7 1430.0,476.1 1431.1,476.7 1432.6,476.2 1434.0,476.8 1434.1,476.8 1435.3,474.8 1435.7,475.2 1436.6,476.4 1437.6,474.3 1437.9,473.6 1439.4,475.9 1439.4,475.9 1440.8,473.9 1440.8,473.9 1442.2,475.6 1442.4,475.8 1444.2,473.1 1444.3,472.8 1445.5,476.0 1445.7,475.5 1446.8,473.6 1447.6,475.7 1447.8,476.0 1448.9,473.2 1449.4,472.8 1450.2,474.9 1451.2,476.1 1452.1,472.5 1452.8,470.6 1453.4,473.1 1454.4,475.8 1454.9,473.1 1455.8,469.9 1456.4,472.5 1457.5,476.0 1457.8,474.6 1458.9,471.3 1459.0,471.9 1460.4,475.5 1460.4,475.4 1461.6,471.2 1462.0,472.3 1463.3,475.0 1463.5,474.2 1464.7,471.5 1464.8,471.7 1466.1,475.0 1466.2,475.3 1467.4,475.0 1467.7,474.6 1469.0,476.1 1469.0,476.2 1469.0,476.2 1470.7,470.5 1470.8,471.0 1472.0,475.0 1472.7,473.4 1473.7,471.8 1474.6,473.5 1475.2,474.2 1476.2,466.6 1476.8,463.5 1477.6,472.2 1477.9,474.5 1478.8,472.9 1479.7,472.1 1480.0,472.7 1481.2,474.3 1481.3,474.3 1482.5,466.7 1482.8,468.1 1484.1,473.1 1484.3,474.1 1485.7,472.0 1486.0,473.0 1487.3,475.8 1487.7,473.6 1488.8,469.9 1489.5,472.9 1490.2,475.2 1491.0,469.7 1492.0,464.2 1492.0,464.8 1493.4,476.5 1493.7,476.4 1495.0,476.8 1495.5,477.0 1497.4,476.5 1498.8,477.9 1500.0,477.3 1501.8,478.4 1502.0,478.4 1503.1,477.3 1504.6,477.6 1505.7,476.4 1507.3,476.7 1508.0,476.0 1508.4,474.7 1509.0,473.5 1509.7,467.1 1510.0,464.0 1510.7,458.4 1511.4,464.2 1511.8,468.8 1512.7,465.2 1513.1,463.3 1514.5,469.0 1514.5,468.5 1515.7,461.6 1516.3,465.5 1517.0,470.4 1517.4,467.5 1518.3,460.0 1518.4,461.0 1519.6,469.6 1519.6,470.2 1520.7,466.1 1521.0,464.2 1522.6,467.3 1523.0,468.7 1523.6,466.3 1524.1,463.6 1525.0,467.2 1525.4,469.5 1525.6,470.7 1526.0,472.2 1527.0,471.6 1527.2,471.3 1527.7,469.7 1528.9,472.6 1529.3,473.9 1530.4,470.6 1530.8,469.1 1531.6,470.3 1532.6,473.0 1533.5,471.4 1534.5,468.5 1534.7,469.1 1536.0,474.6 1536.1,474.9 1537.8,466.4 1537.8,466.5 1539.2,475.1 1539.4,474.4 1541.0,466.9 1541.3,468.4 1542.7,475.5 1542.9,475.1 1544.0,470.8 1544.5,472.7 1545.2,476.3 1545.7,474.1 1546.4,469.7 1547.6,473.3 1547.8,474.4 1548.0,474.8 1548.7,476.5 1549.0,476.8 1550.4,474.4 1550.9,474.1 1551.8,475.6 1552.2,475.9 1553.6,471.2 1553.6,471.2 1554.9,475.5 1555.3,476.4 1556.6,473.1 1557.1,471.9 1558.3,475.7 1558.6,476.6 1559.8,472.5 1560.1,473.1 1561.6,476.3 1561.6,476.4 1562.9,473.7 1563.4,473.1 1564.3,476.0 1564.6,476.7 1565.5,474.9 1566.5,474.0 1566.5,474.1 1567.9,476.3 1568.0,476.2 1569.0,475.3 1569.1,475.5 1570.3,475.8 1570.9,476.7 1572.0,476.6 1572.2,476.3 1573.6,476.4 1573.8,476.6 1575.2,476.0 1575.5,475.7 1576.5,476.3 1576.9,476.9 1577.0,476.9 1578.3,477.3 1579.8,476.4 1581.5,477.3 1583.2,476.7 1584.7,477.1 1586.5,476.5 1587.7,477.1 1589.7,476.3 1591.2,477.0 1592.4,476.4 1593.5,477.1 1595.1,476.3 1596.8,477.0 1598.6,476.4 1600.0,476.8 1600.3,476.9 1601.8,476.3 1603.0,476.9 1604.1,476.3 1605.6,476.8 1607.0,476.3 1608.2,477.1 1610.1,476.1 1611.4,477.1 1612.7,476.2 1613.8,477.0 1614.9,476.0 1616.7,476.9 1618.6,475.9 1620.1,476.9 1621.6,476.1 1623.0,476.9 1624.8,476.1 1626.2,476.8 1627.6,476.2 1629.2,476.6 1631.1,476.1 1632.8,476.7 1634.5,475.9 1635.6,476.6 1637.5,475.8 1638.8,476.7 1640.0,476.0 1641.5,476.7 1642.9,475.9 1644.3,476.5 1645.4,476.0 1647.1,476.8 1648.5,475.7 1649.7,476.6 1651.5,475.7 1653.4,476.7 1655.2,476.0 1656.8,476.6 1658.6,475.7 1660.4,476.4 1662.3,475.6 1663.7,476.4 1665.3,475.7 1666.4,476.6 1667.8,475.7 1669.5,476.6 1670.9,475.7 1672.8,476.5 1674.1,475.8 1675.7,476.4 1677.1,475.6 1678.2,476.4 1680.0,475.7 1680.1,475.7 1681.4,476.6 1682.9,476.1 1684.2,476.8 1685.4,476.5 1686.7,477.4 1688.2,476.9 1689.8,477.7 1691.4,477.1 1692.4,478.0 1693.7,477.3 1695.4,478.3 1697.0,477.7 1698.1,478.6 1700.0,478.3 1700.0,478.3 1701.7,480.9 1701.9,481.1 1702.9,477.5 1703.1,476.8 1704.5,485.3 1704.7,484.2 1706.4,475.6 1706.6,476.3 1708.0,484.3 1708.1,484.2 1709.5,476.2 1709.7,477.0 1711.0,485.5 1711.2,486.4 1712.0,481.6 1712.6,479.1 1713.1,477.1 1714.1,486.2 1714.5,490.2 1715.6,479.9 1715.7,479.2 1716.8,488.5 1717.4,492.8 1718.2,489.4 1718.9,487.1 1719.0,488.3 1719.6,491.1 1720.7,494.4 1720.9,491.5 1721.9,479.1 1722.4,482.0 1723.8,489.0 1724.0,487.3 1725.0,477.9 1725.3,475.7 1725.3,475.2 1726.7,485.5 1726.9,483.9 1728.2,470.0 1728.3,470.8 1729.4,478.0 1730.1,474.7 1730.9,471.0 1731.5,473.4 1732.2,475.4 1733.4,466.6 1733.4,467.2 1734.5,474.5 1734.8,473.2 1735.0,471.7 1736.1,465.1 1736.6,467.5 1737.4,471.7 1738.0,467.2 1738.7,460.8 1739.6,462.8 1740.4,465.5 1741.1,463.4 1742.0,460.2 1742.2,460.1 1743.3,460.6 1743.9,460.4 1744.0,460.0" fill="none" stroke="#000000" stroke-width="1.3" stroke-linejoin="round" clip-path="url(#cr)"/>
<line x1="1003.3" y1="54.6" x2="1003.3" y2="492.2" stroke="#000" stroke-width="1.8"/>
<line x1="1189.5" y1="42.4" x2="1189.5" y2="489.7" stroke="#000" stroke-width="1.8"/>
<line x1="1322.6" y1="15.9" x2="1322.6" y2="554.3" stroke="#000" stroke-width="1.8"/>
<line x1="1332.7" y1="29.3" x2="1332.7" y2="531.3" stroke="#000" stroke-width="1.8"/>
<line x1="1606.1" y1="38.0" x2="1606.1" y2="413.9" stroke="#000" stroke-width="1.8"/>
<line x1="1630.1" y1="48.5" x2="1630.1" y2="400.7" stroke="#000" stroke-width="1.8"/>
<line x1="1657.8" y1="50.8" x2="1657.8" y2="311.2" stroke="#000" stroke-width="1.8"/>
<line x1="1731.0" y1="62.7" x2="1731.0" y2="502.0" stroke="#000" stroke-width="1.8"/>
<polygon points="1631,47 1649,44.5 1635.5,55" fill="#000"/>
<rect x="940.6" y="4.8" width="804.2" height="595.2" fill="none" stroke="#000" stroke-width="2.2"/>
<line x1="1057.2" y1="588.6" x2="1057.2" y2="600.0" stroke="#000" stroke-width="1.8"/>
<line x1="1173.8" y1="588.6" x2="1173.8" y2="600.0" stroke="#000" stroke-width="1.8"/>
<line x1="1290.4" y1="588.6" x2="1290.4" y2="600.0" stroke="#000" stroke-width="1.8"/>
<line x1="1407.0" y1="588.6" x2="1407.0" y2="600.0" stroke="#000" stroke-width="1.8"/>
<line x1="1523.6" y1="588.6" x2="1523.6" y2="600.0" stroke="#000" stroke-width="1.8"/>
<line x1="1640.2" y1="588.6" x2="1640.2" y2="600.0" stroke="#000" stroke-width="1.8"/>
<text x="940.6" y="642.8" font-size="37.5" text-anchor="middle">4000</text>
<text x="1057.2" y="642.8" font-size="37.5" text-anchor="middle">3500</text>
<text x="1173.8" y="642.8" font-size="37.5" text-anchor="middle">3000</text>
<text x="1290.4" y="642.8" font-size="37.5" text-anchor="middle">2500</text>
<text x="1407.0" y="642.8" font-size="37.5" text-anchor="middle">2000</text>
<text x="1523.6" y="642.8" font-size="37.5" text-anchor="middle">1500</text>
<text x="1640.2" y="642.8" font-size="37.5" text-anchor="middle">1000</text>
<text x="1166" y="709.7" font-size="48.4">Wavenumber/cm<tspan font-size="28" dx="3.5" dy="-27">-1</tspan></text>
<text x="969.4" y="46.0" font-size="37.0">EP3</text>
<text x="1338.0" y="50.3" font-size="37.5">2200</text>
<text x="1530.5" y="38.0" font-size="37.5">1252</text>
<text x="1623.3" y="40.0" font-size="37.5">1180</text>
<text x="1645.7" y="350.3" font-size="37.5">899</text>
<text x="1675.7" y="542.6" font-size="37.5">664</text>
<text x="969.8" y="526.4" font-size="37.5">3735</text>
<text x="1186.9" y="516.6" font-size="37.5">2918</text>
<text x="1248.1" y="582.7" font-size="37.5">2357</text>
<text x="1100.6" y="48.5" font-size="37.5">600<tspan font-size="24.0" dy="-20.6">o</tspan><tspan dy="20.6">C</tspan></text>
<text x="1100.6" y="166.1" font-size="37.5">500<tspan font-size="24.0" dy="-20.6">o</tspan><tspan dy="20.6">C</tspan></text>
<text x="1094.5" y="255.3" font-size="37.5">400<tspan font-size="24.0" dy="-20.6">o</tspan><tspan dy="20.6">C</tspan></text>
<text x="1078.9" y="330.7" font-size="37.5">300<tspan font-size="24.0" dy="-20.6">o</tspan><tspan dy="20.6">C</tspan></text>
<text x="1072.5" y="405.6" font-size="37.5">200<tspan font-size="24.0" dy="-20.6">o</tspan><tspan dy="20.6">C</tspan></text>
<text x="1080.8" y="461.4" font-size="37.5">100<tspan font-size="24.0" dy="-20.6">o</tspan><tspan dy="20.6">C</tspan></text>
<text x="1075.0" y="519.0" font-size="37.5">30<tspan font-size="24.0" dy="-20.6">o</tspan><tspan dy="20.6">C</tspan></text>
</svg></body></html>
